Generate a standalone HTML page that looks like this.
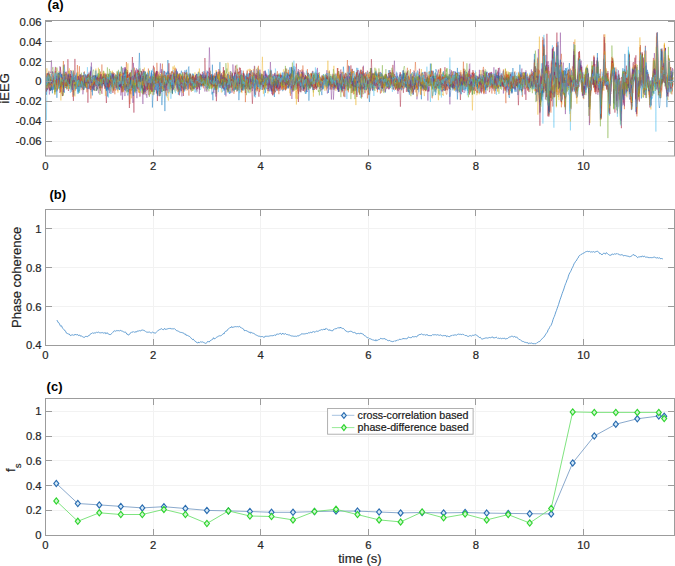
<!DOCTYPE html>
<html><head><meta charset="utf-8"><style>html,body{margin:0;padding:0;background:#fff;overflow:hidden}</style></head><body>
<svg width="675" height="566" viewBox="0 0 675 566" style="display:block">
<style>.lg{font-family:"Liberation Sans",sans-serif;font-size:10.67px;fill:#1a1a1a;stroke:#1a1a1a;stroke-width:0.2px}.t{font-family:"Liberation Sans",sans-serif;font-size:11.3px;fill:#262626;stroke:#262626;stroke-width:0.2px}.ti{font-family:"Liberation Sans",sans-serif;font-size:13px;font-weight:bold;fill:#000}.l{font-family:"Liberation Sans",sans-serif;font-size:13px;fill:#262626;stroke:#262626;stroke-width:0.2px}</style>
<rect width="675" height="566" fill="#fff"/>
<line x1="153.5" y1="20.4" x2="153.5" y2="156.0" stroke="#f2f2f2" stroke-width="1"/>
<line x1="260.5" y1="20.4" x2="260.5" y2="156.0" stroke="#f2f2f2" stroke-width="1"/>
<line x1="368.5" y1="20.4" x2="368.5" y2="156.0" stroke="#f2f2f2" stroke-width="1"/>
<line x1="475.5" y1="20.4" x2="475.5" y2="156.0" stroke="#f2f2f2" stroke-width="1"/>
<line x1="583.5" y1="20.4" x2="583.5" y2="156.0" stroke="#f2f2f2" stroke-width="1"/>
<line x1="45.5" y1="41.5" x2="674.5" y2="41.5" stroke="#f2f2f2" stroke-width="1"/>
<line x1="45.5" y1="61.5" x2="674.5" y2="61.5" stroke="#f2f2f2" stroke-width="1"/>
<line x1="45.5" y1="81.5" x2="674.5" y2="81.5" stroke="#f2f2f2" stroke-width="1"/>
<line x1="45.5" y1="101.5" x2="674.5" y2="101.5" stroke="#f2f2f2" stroke-width="1"/>
<line x1="45.5" y1="121.5" x2="674.5" y2="121.5" stroke="#f2f2f2" stroke-width="1"/>
<line x1="45.5" y1="141.5" x2="674.5" y2="141.5" stroke="#f2f2f2" stroke-width="1"/>
<defs><filter id="bl" x="-1%" y="-10%" width="102%" height="120%"><feGaussianBlur stdDeviation="0.35"/></filter></defs>
<g filter="url(#bl)">
<g fill="none" stroke-width="0.5" stroke-linejoin="round" stroke-opacity="0.76" transform="translate(45.90,0) scale(0.5,0.1)">
<path vector-effect="non-scaling-stroke" stroke="#A2142F" d="M0 796l1-29 1-2 1 31 1 25 1-50 1 18 1 34 1-20 1 71 1 34 1-69 1-22 1 23 1-18 1-14 1 62 1-11 1-11 1-53 1-7 1 32 1 2 1 6 1 18 1 26 1-4 1-52 1-34 1-111 1 84 1 34 1 20 1-6 1-20 1-9 1 8 1 12 1-48 1-27 1 73 1-2 1-14 1-34 1-150 1 139 1 56 1 7 1-15 1-26 1-53 1 41 1 85 1-31 1 91 1 123 1-169 1 10 1-8 1 44 1-6 1-4 1 15 1-51 1-6 1-19 1-12 1 27 1 40 1-1 1-44 1-38 1 12 1 15 1 23 1 64 1-21 1-12 1-28 1-4 1 10 1 29 1-23 1 2 1 173 1-141 1-38 1-77 1-19 1-44 1 143 1-59 1 28 1 29 1-72 1 105 1-125 1 8 1 12 1 10 1-9 1-5 1 64 1 10 1-24 1-42 1 10 1-1 1-10 1 47 1 60 1 20 1 31 1-66 1-14 1-82 1-35 1 59 1-3 1 80 1 63 1 90 1-141 1-53 1 36 1-8 1-42 1 17 1 13 1 10 1-24 1-63 1-7 1 48 1-52 1 44 1-42 1 16 1 38 1-22 1 78 1-24 1-2 1-112 1-18 1 2 1 40 1 27 1-72 1 3 1 6 1 61 1 30 1-15 1-26 1 56 1-58 1-36 1-24 1-30 1 57 1-9 1-10 1 22 1 25 1 74 1 15 1-76 1 61 1-31 1-7 1 70 1-135 1-170 1 148 1 81 1-36 1-13 1 32 1-4 1 44 1 7 1-32 1-34 1-69 1 59 1 35 1-2 1 9 1-38 1 123 1-25 1 26 1-52 1 24 1 66 1 7 1-91 1-92 1-26 1 51 1 15 1 92 1-12 1-84 1 7 1 12 1 6 1-32 1 18 1 8 1-2 1 21 1 19 1-2 1-41 1 55 1-23 1-95 1 0 1 2 1 45 1 39 1 194 1-184 1-2 1-18 1-6 1 37 1-4 1-92 1 104 1 43 1 1 1-28 1-13 1-20 1-39 1 31 1-69 1 32 1 3 1-20 1 83 1-65 1 25 1-17 1 95 1 4 1 3 1-52 1-21 1-8 1 20 1 36 1 26 1-39 1-54 1-27 1 18 1-13 1 69 1-48 1 63 1-42 1 59 1-9 1-29 1-55 1 30 1-44 1 29 1-18 1 0 1 12 1 163 1-145 1 9 1 1 1-8 1 27 1-39 1 41 1-34 1-29 1 80 1-46 1-1 1 15 1 60 1-116 1 27 1 0 1-36 1 28 1 13 1 79 1-32 1 4 1-19 1-3 1 30 1 50 1-51 1 8 1-40 1 6 1-22 1-28 1-26 1 33 1-45 1 71 1 20 1 22 1-32 1 27 1-72 1 29 1 9 1 8 1-22 1-9 1-21 1 28 1 6 1 2 1 27 1-52 1 39 1-50 1 88 1 9 1 1 1-100 1 20 1 25 1-27 1-36 1 30 1 63 1 158 1-106 1-89 1 10 1 6 1-27 1-89 1 126 1 14 1-31 1-51 1 65 1-41 1-42 1-87 1 110 1-76 1 70 1 25 1-32 1 93 1-62 1 105 1-20 1-66 1-5 1-18 1 8 1 19 1 19 1 16 1-47 1 16 1-1 1 22 1 17 1 35 1-26 1-6 1-72 1 64 1-30 1-5 1-45 1 2 1-22 1-47 1 63 1-54 1-18 1 86 1-55 1 82 1 45 1-18 1-10 1 46 1-61 1-14 1 5 1-7 1 53 1 5 1 10 1-29 1-40 1-27 1-68 1 46 1-28 1-21 1 89 1 21 1 28 1 24 1-80 1-31 1 9 1 40 1 7 1-26 1-19 1 47 1-9 1-25 1 12 1-18 1 26 1 39 1-28 1-22 1 23 1-5 1-3 1-43 1-46 1 89 1-49 1-10 1 33 1 15 1 61 1-73 1-4 1-17 1 34 1 0 1 10 1-25 1-65 1 79 1 69 1 16 1 74 1-96 1-23 1-49 1-52 1 98 1-7 1 56 1-18 1 15 1 26 1-48 1-78 1 22 1-25 1 86 1-40 1-1 1 7 1 10 1-1 1-21 1-46 1 7 1 97 1 36 1-31 1-36 1-67 1-2 1 14 1 85 1-58 1 29 1-46 1 18 1-3 1 72 1-34 1-5 1-28 1-49 1-38 1-30 1 21 1 31 1-31 1-81 1 113 1 81 1 73 1 35 1-61 1 1 1-69 1 2 1 84 1 2 1-47 1-23 1-2 1 35 1 36 1-33 1 2 1-70 1-6 1 21 1-21 1 10 1-44 1-24 1 15 1-2 1 26 1 40 1-5 1-15 1-45 1-32 1-3 1 97 1 17 1 76 1-20 1 9 1-97 1-61 1 92 1-25 1-22 1-46 1 23 1 26 1 19 1-9 1 15 1 31 1 10 1-36 1 36 1-35 1-9 1-5 1-15 1 49 1-25 1 79 1 3 1-2 1-33 1 15 1-13 1-42 1 40 1-40 1 14 1-1 1-28 1-2 1-3 1-14 1 60 1 7 1-2 1 14 1-44 1 20 1-12 1-140 1 154 1 84 1-59 1-10 1-44 1 38 1 16 1-35 1 8 1 77 1-3 1 27 1 31 1-88 1-30 1 8 1-28 1 34 1-63 1-25 1-34 1-82 1 82 1 47 1 2 1-28 1 63 1-71 1-56 1 49 1 47 1 18 1 42 1 0 1 41 1-33 1 43 1-89 1-11 1-79 1-6 1 142 1 19 1 42 1 17 1-131 1 29 1 17 1 42 1-14 1-170 1 152 1 29 1-57 1-26 1 3 1 31 1-63 1 1 1 14 1 81 1 19 1 47 1-37 1-30 1-75 1-27 1-181 1 130 1 43 1 47 1-42 1 129 1-144 1-18 1 8 1-23 1 67 1 28 1 32 1 11 1 32 1-47 1 6 1 17 1 68 1-14 1-61 1-10 1-72 1 52 1-18 1 66 1-24 1-13 1-58 1-44 1 31 1 60 1-8 1 24 1-15 1-47 1-18 1 22 1-44 1 27 1 25 1-68 1 15 1-94 1 78 1 38 1-24 1 44 1 32 1-7 1 24 1 11 1 28 1 6 1-11 1-42 1 58 1-54 1 47 1-20 1-34 1 11 1-61 1 37 1-21 1 19 1-34 1 4 1 31 1-26 1-21 1 24 1-52 1 85 1 20 1 66 1-1 1 23 1-63 1-43 1 2 1 21 1 31 1 12 1 29 1-48 1-96 1 36 1 0 1-34 1-8 1 43 1 15 1 77 1-22 1-131 1-61 1 109 1 23 1-44 1-9 1-33 1 1 1 60 1-21 1 14 1 16 1-13 1 24 1-25 1 46 1 52 1-131 1 161 1-20 1 10 1-83 1 23 1-43 1-42 1 12 1 51 1 59 1-58 1 27 1-41 1-9 1 33 1-34 1-23 1 8 1 8 1-59 1-12 1-28 1 70 1-5 1 0 1 13 1 13 1 27 1 22 1 21 1-8 1-27 1 30 1 18 1-57 1-68 1 17 1 102 1-17 1-23 1-14 1-10 1 16 1 12 1 11 1-44 1 62 1-63 1-43 1-4 1 27 1 32 1 40 1 1 1-27 1-44 1 30 1-37 1 18 1-2 1 16 1-23 1 20 1 4 1 60 1 35 1-86 1 0 1 2 1-1 1 14 1 14 1-58 1-8 1-33 1 38 1 76 1-43 1 22 1-85 1-3 1 1 1-2 1-57 1 101 1 9 1 12 1 32 1-115 1 18 1-45 1 30 1 50 1 70 1-11 1-20 1-5 1-13 1 45 1-5 1-32 1-20 1 20 1 52 1-2 1-72 1 74 1 73 1-80 1-44 1 20 1-45 1 157 1-102 1-6 1 39 1-51 1-16 1 19 1 20 1 1 1-13 1 7 1 82 1-20 1-49 1-17 1-31 1 4 1 14 1 6 1-20 1-20 1 1 1 24 1 32 1-10 1 43 1-28 1-18 1-31 1-46 1 0 1 16 1 36 1 8 1-12 1-59 1 40 1 35 1 12 1-32 1 37 1-45 1 7 1-21 1 46 1-33 1 10 1-47 1-8 1 36 1 7 1 13 1 54 1-28 1 58 1 8 1 35 1-24 1-90 1-25 1-19 1-11 1 43 1 30 1 17 1-56 1-25 1 68 1-19 1 19 1 27 1-81 1-1 1-14 1 30 1 18 1-4 1-26 1 27 1-46 1 44 1 42 1 34 1-11 1 124 1-137 1-72 1-18 1 24 1 101 1 23 1-94 1-40 1-3 1-15 1 45 1-13 1-23 1 29 1-69 1-57 1-86 1 87 1 168 1-64 1 13 1-114 1 104 1-1 1 14 1 124 1-55 1 50 1-124 1 29 1-67 1 88 1 92 1 15 1-195 1 44 1-5 1-21 1-1 1 40 1-169 1 162 1-78 1-24 1 181 1 220 1-225 1-88 1-46 1 151 1-6 1-37 1 113 1 95 1-72 1-63 1-65 1-143 1 74 1-12 1 135 1-140 1-231 1 132 1 83 1 10 1 151 1-99 1 45 1 145 1-216 1 14 1-43 1 53 1 5 1 57 1-93 1-4 1-78 1 94 1 11 1 16 1 29 1-1 1-39 1 3 1 12 1 23 1 34 1-4 1 19 1-112 1 21 1-51 1-35 1-237 1 207 1 52 1 59 1 69 1-27 1 68 1-114 1-27 1-188 1 89 1 83 1-4 1-13 1-1 1 76 1-18 1-20 1 70 1-42 1 11 1-51 1 29 1 82 1-91 1 1 1 60 1-164 1 64 1 60 1-8 1 9 1 55 1-21 1 51 1-59 1-55 1-53 1-6 1-62 1-97 1 252 1 77 1-39 1-2 1-28 1-169 1-82 1 193 1 86 1-45 1-46 1 125 1 98 1 197 1-208 1-121 1 32 1 15 1-53 1-64 1-24 1 20 1-30 1 27 1 27 1 14 1-38 1-71 1 102 1 56 1 52 1-4 1-54 1 53 1-117 1-96 1-49 1-15 1 47 1 103 1 90 1 248 1-165 1-111 1 19 1-47 1-4 1 25 1-83 1-22 1 54 1-10 1 150 1 210 1-115 1-87 1 2 1-122 1-38 1-54 1-10 1 8 1 58 1-29 1-98 1 130 1 14 1-17 1 49 1-125 1-110 1 224 1 119 1 0 1-63 1-77 1-90 1-80 1-10 1 45 1 56 1 25 1-69 1 152 1 293 1-198 1 45 1 33 1-61 1-26 1-45 1-135 1-285 1 187 1 65 1 26 1-57 1-92 1 154 1 182 1 33 1-197 1-294 1 198 1 111 1-3 1-33 1 70 1 56 1-10 1 67 1 59 1 24 1 60 1-116 1-65 1-29 1-88 1-30 1-103 1 154 1-13 1 13 1 41 1-30 1-179 1-277 1 326 1 289 1-30 1-4 1 52 1 11 1 2 1-50 1-26 1-110 1-80 1-59 1 32 1-39 1-15 1-150 1 179 1 69 1-3 1 38 1 125 1-104 1 9 1-22 1-29 1-19 1 96 1-3 1 40 1-107 1-29"/>
<path vector-effect="non-scaling-stroke" stroke="#0072BD" d="M0 823l1-39 1 28 1 89 1-59 1 3 1-76 1-29 1 24 1 42 1-11 1 42 1-54 1 42 1-15 1 31 1 52 1-19 1 11 1-109 1 9 1 96 1 34 1-40 1 14 1-65 1-81 1 85 1 6 1 12 1-49 1-58 1 52 1 56 1-25 1-32 1 80 1 57 1-140 1 1 1 27 1 35 1-33 1-17 1-23 1-22 1 10 1-28 1 33 1-13 1 27 1-73 1 16 1 26 1 69 1 34 1 99 1-87 1 3 1-21 1-43 1-38 1-43 1 73 1 86 1 50 1-70 1-68 1 80 1-88 1 43 1 19 1-14 1-24 1-25 1-19 1-48 1 47 1-21 1 1 1 14 1 70 1 58 1 1 1-60 1-33 1-24 1-25 1 8 1 18 1-108 1 5 1 110 1-16 1 47 1 52 1-26 1 25 1-33 1-24 1-58 1 66 1-27 1 24 1-77 1 40 1 72 1 6 1-7 1-6 1-43 1 29 1 25 1-20 1-17 1-5 1-15 1 3 1-9 1-16 1 65 1-39 1 40 1-55 1-14 1-13 1-7 1 2 1 20 1 19 1-29 1-12 1-5 1 22 1-42 1 175 1-24 1-27 1-82 1-21 1 43 1-39 1 41 1 102 1-126 1 65 1 41 1 26 1-23 1-81 1-31 1-98 1 13 1 35 1 74 1-19 1 47 1 65 1 21 1-30 1-77 1 52 1 16 1-33 1-1 1-4 1-82 1 75 1-92 1 61 1 33 1 0 1 15 1-16 1-39 1 56 1 49 1-23 1 46 1-67 1-11 1-30 1-39 1 50 1-19 1-65 1-69 1-128 1 154 1 151 1 0 1 1 1-118 1 60 1 112 1-7 1 6 1 17 1 16 1-69 1 36 1-108 1-8 1-40 1 56 1-55 1 97 1-123 1 40 1 17 1 46 1-80 1 64 1 281 1-104 1-30 1-38 1-100 1 0 1-12 1 22 1-33 1 81 1 64 1 36 1-91 1 39 1 7 1-10 1-39 1-26 1 79 1-74 1-32 1-45 1-54 1-7 1 240 1 163 1-192 1-201 1 34 1 60 1-74 1-138 1 122 1 131 1 12 1 9 1-63 1-10 1-82 1 1 1 8 1-22 1 1 1 1 1 68 1-46 1-21 1 33 1 38 1-27 1-41 1 80 1-4 1 0 1 55 1 48 1 14 1-40 1-31 1-71 1 77 1 23 1 24 1-15 1-72 1-97 1 28 1 12 1-46 1 63 1 16 1 107 1-31 1 2 1-73 1 15 1-19 1 66 1 12 1-36 1-41 1-7 1-33 1 65 1 4 1 24 1 2 1 8 1-4 1 22 1-23 1-70 1 8 1 20 1 46 1 24 1-42 1-4 1-55 1 83 1-69 1 12 1-10 1-66 1 25 1 4 1 55 1-43 1 11 1-16 1-29 1 77 1 58 1-61 1-20 1 14 1-19 1 58 1 14 1 103 1-26 1 85 1-118 1-4 1-74 1 14 1 35 1 33 1-56 1 4 1-81 1 4 1 35 1-3 1-5 1 54 1 34 1-63 1 14 1-15 1-14 1 37 1-21 1-2 1 81 1 3 1-6 1-3 1-76 1 72 1 13 1 14 1 17 1-131 1 22 1-66 1 24 1 26 1 34 1-39 1 49 1 30 1 28 1-98 1 38 1 3 1 50 1-85 1 6 1-65 1 61 1 13 1 2 1 174 1-98 1-47 1-71 1-36 1 37 1 10 1 13 1 20 1-2 1-18 1 30 1-38 1-37 1 29 1 6 1-13 1 17 1-18 1 72 1 19 1 12 1-115 1-43 1-24 1 41 1 33 1 23 1-14 1 43 1 3 1-64 1-9 1-5 1 41 1 22 1-8 1 15 1 41 1-2 1 2 1-58 1 81 1-7 1 6 1-35 1-18 1-99 1 69 1 66 1-48 1 27 1 7 1 69 1-87 1 1 1-21 1-2 1 14 1 4 1 26 1-46 1 13 1-96 1-37 1 7 1 67 1 12 1 35 1-13 1 55 1 2 1-6 1-11 1-78 1 7 1 0 1 33 1-3 1-26 1 21 1-30 1-36 1 50 1 15 1 8 1-30 1 50 1-21 1-41 1-32 1-1 1 72 1-8 1 44 1-16 1 66 1-65 1-33 1 39 1 54 1-85 1 26 1-22 1 14 1-4 1-46 1 61 1 54 1-29 1-196 1 78 1 8 1 65 1-38 1-2 1 1 1 110 1-150 1-3 1 21 1 40 1 71 1-34 1 13 1-114 1 21 1-12 1 74 1 24 1-29 1 14 1 35 1 5 1-9 1-8 1-19 1 37 1-56 1 40 1-22 1 47 1-77 1-7 1-47 1 137 1-4 1-46 1-3 1 32 1-60 1-16 1-38 1 59 1 80 1-1 1-98 1 5 1-35 1 62 1 6 1 25 1 16 1-3 1 21 1-43 1-38 1 18 1-12 1-57 1 10 1 42 1 46 1-69 1 8 1 1 1 77 1-22 1-15 1 110 1-113 1-15 1-38 1 37 1-21 1 26 1 2 1 32 1-38 1-42 1 18 1 54 1 15 1 38 1-15 1 11 1-7 1-66 1-24 1 8 1 21 1 9 1 11 1-91 1 9 1 116 1-67 1 43 1-42 1 43 1 36 1-29 1 7 1-31 1 4 1-31 1-62 1 107 1-11 1 68 1-80 1-57 1 40 1 43 1 33 1-44 1 12 1-52 1 60 1-17 1 26 1 15 1-76 1 68 1-77 1-30 1-88 1 46 1 6 1 86 1-2 1-8 1-25 1 54 1-95 1-39 1 133 1 43 1 13 1-59 1-96 1 7 1-10 1 86 1-17 1 25 1 16 1-29 1 17 1-5 1 86 1-10 1-95 1 16 1-72 1-69 1 38 1 25 1 66 1-16 1 14 1-19 1-51 1 13 1 14 1 68 1-9 1-41 1 18 1 5 1-6 1 17 1 6 1-13 1-27 1 126 1-73 1 3 1-5 1 17 1-35 1 27 1 45 1 38 1-37 1-142 1 57 1-39 1 29 1-3 1 13 1-5 1-41 1 67 1 8 1-1 1-39 1 39 1-10 1-30 1-15 1 17 1-9 1 28 1-38 1 69 1-21 1 35 1-2 1-32 1-12 1-3 1-68 1 43 1-3 1 53 1-25 1-4 1 44 1 4 1 34 1-11 1-45 1 0 1-62 1 86 1-35 1 29 1 40 1 33 1-36 1-16 1-12 1-13 1-20 1-31 1-57 1-14 1 9 1 73 1-1 1-20 1 23 1-17 1 54 1-44 1 50 1 51 1-59 1-24 1-40 1-18 1-15 1 57 1 11 1-59 1-29 1 31 1-34 1 104 1 45 1 22 1-22 1-82 1 24 1 2 1-22 1 68 1-57 1 14 1 6 1 24 1-65 1-147 1 152 1 24 1 23 1 20 1-127 1-20 1 75 1 93 1 23 1 52 1-19 1-56 1-13 1-34 1-51 1 42 1 11 1 0 1 52 1-27 1 15 1-47 1 19 1-8 1-26 1-14 1-21 1-3 1 60 1-62 1-17 1 64 1 51 1-57 1 22 1-63 1 16 1-32 1-8 1 21 1 13 1 91 1-7 1-34 1-54 1 57 1-26 1 6 1 41 1 47 1 16 1-66 1 27 1-81 1 24 1 17 1 0 1 81 1-55 1 29 1-72 1-4 1-26 1 2 1 60 1 45 1-12 1-54 1 38 1-44 1-1 1 13 1 50 1 21 1-76 1 51 1 5 1-13 1 3 1 26 1-66 1-2 1-43 1 29 1 52 1 26 1-29 1-30 1-73 1 38 1-27 1 58 1 31 1-51 1 53 1-7 1-54 1-26 1 17 1 20 1 33 1-23 1-44 1 10 1-23 1 55 1 86 1-79 1-5 1-12 1 56 1-19 1-39 1-21 1 4 1 46 1-50 1-24 1-1 1-41 1 21 1 11 1 67 1 21 1-4 1-73 1 3 1 66 1 21 1-36 1-49 1-2 1-15 1 15 1 4 1 20 1-19 1 5 1-7 1-22 1 85 1-6 1 21 1-81 1 5 1 33 1 2 1 50 1 24 1-18 1-44 1-15 1 112 1-117 1-33 1-31 1 39 1 65 1 38 1-32 1 7 1-7 1 69 1-67 1-175 1 127 1 2 1-86 1 25 1 25 1-9 1 4 1 66 1 6 1 111 1-88 1-49 1 13 1-24 1 14 1-19 1-39 1 55 1 34 1 45 1-22 1-37 1-24 1-7 1 14 1-26 1 22 1 31 1-38 1 13 1-13 1-29 1 44 1-2 1-61 1-11 1 62 1-30 1-5 1-23 1-30 1 38 1 92 1-21 1 116 1-26 1 9 1-54 1 47 1-46 1 40 1-130 1 106 1-25 1 94 1-79 1-92 1 39 1 57 1 3 1-70 1-135 1 45 1-64 1-40 1-76 1 137 1 147 1 115 1 58 1-88 1 24 1 10 1 28 1-92 1-102 1-66 1 18 1 199 1-160 1-61 1 121 1 15 1 116 1-108 1-155 1 1 1-158 1-61 1 250 1-28 1 79 1-81 1 1 1 10 1 45 1-9 1 34 1 120 1 31 1-145 1 84 1-177 1 52 1-72 1 75 1-74 1 70 1-19 1 76 1 131 1 1 1 15 1-8 1 131 1-204 1-78 1-20 1 56 1-34 1 53 1 32 1 31 1-29 1 31 1-10 1 38 1-59 1-130 1 70 1 1 1-12 1-8 1-17 1-68 1 57 1-37 1 89 1-31 1-76 1 137 1 20 1 33 1-29 1-113 1 4 1 19 1 3 1 17 1-24 1 67 1 213 1-84 1-49 1-14 1-34 1-89 1-4 1 31 1 12 1-89 1-151 1 171 1 45 1 44 1-46 1 20 1-27 1-36 1-105 1 4 1 146 1 29 1-41 1 23 1-47 1 96 1-32 1 39 1-2 1-29 1-103 1 45 1 13 1 51 1-97 1 3 1 40 1 53 1-25 1 55 1 2 1-47 1 135 1-63 1-68 1-106 1-81 1-26 1 24 1 36 1-21 1 103 1-7 1 42 1 0 1-56 1 82 1 152 1-111 1-100 1-26 1 54 1 75 1 183 1-120 1-61 1-86 1-59 1-55 1 94 1 112 1-21 1-328 1 216 1 1 1 26 1 116 1 13 1-100 1-45 1-225 1 143 1 110 1 61 1-27 1 270 1 1 1-162 1-61 1-35 1-20 1-40 1-26 1 148 1 215 1-218 1-116 1 15 1 22 1 24 1-22 1-20 1 77 1-83 1 38 1-41 1 4 1 19 1-38 1 55 1-80 1 6 1 45 1 31 1 5 1 27 1-33 1-38 1 54 1-73 1 76 1-40 1 51 1-59 1 119 1-18 1-134 1 60 1-50 1-73 1 97 1-18 1-11 1-79 1 79 1-70 1-82 1-175 1 210 1 208 1 41 1 3 1-74 1-130 1-221 1 191 1 166 1-89 1 13 1 43 1-64 1 77 1 7 1-39 1 15 1-9 1 51 1 44 1 29 1-26 1 7 1-61 1-49 1-35 1 5 1 21 1 10 1-60 1-19"/>
<path vector-effect="non-scaling-stroke" stroke="#D95319" d="M0 776l1 78 1 26 1-3 1-69 1 10 1 28 1 54 1-31 1 35 1-19 1-71 1-7 1-54 1 36 1-3 1 36 1-23 1 21 1-33 1 30 1 22 1-18 1 8 1 6 1-23 1 64 1-115 1 51 1 51 1-70 1-19 1 25 1 19 1-5 1-11 1-17 1 14 1-57 1 40 1 19 1-19 1 26 1-33 1 19 1 1 1 7 1 28 1-40 1 47 1-9 1-24 1 20 1 23 1-44 1 64 1-97 1 9 1 2 1 20 1 28 1-75 1-8 1 14 1 32 1 2 1 8 1-140 1 162 1 18 1 20 1-15 1-39 1 3 1-11 1 5 1-31 1 82 1-81 1-14 1 29 1 20 1-1 1-26 1 17 1 5 1-7 1 73 1 15 1 11 1 3 1-53 1-12 1-8 1 15 1-1 1-18 1 39 1-63 1 19 1-19 1 110 1-67 1-52 1 2 1-6 1 66 1-36 1 44 1 21 1-34 1 0 1-13 1-31 1 2 1 14 1-6 1-4 1 22 1-46 1-6 1 10 1-2 1 12 1 1 1 67 1 14 1 0 1-32 1-65 1-24 1-6 1 3 1 53 1 27 1 21 1-64 1 7 1 9 1 51 1-6 1-30 1-18 1-37 1 32 1 32 1 23 1-41 1-66 1-12 1 49 1 3 1 47 1 5 1 80 1-33 1 11 1-101 1 26 1-42 1-49 1-114 1 97 1 64 1-5 1-14 1-7 1 17 1 163 1-57 1 0 1-13 1-76 1-26 1 7 1 20 1 94 1-46 1 35 1-101 1-19 1-25 1 5 1-16 1 7 1 44 1-30 1 88 1 9 1-35 1-13 1 0 1 22 1-16 1-9 1-77 1 52 1 3 1 46 1-44 1-9 1 53 1 26 1 59 1-73 1-28 1 45 1-9 1 34 1-17 1 12 1-5 1 11 1-53 1-33 1 15 1 46 1-70 1 9 1-23 1 72 1-6 1-37 1-24 1 50 1-25 1 24 1 1 1-5 1 8 1-24 1 66 1-43 1 36 1-19 1 62 1 20 1-111 1 0 1-32 1 26 1 5 1 18 1-28 1-16 1 51 1-17 1-36 1 41 1-25 1 25 1-31 1 0 1 22 1 43 1 6 1-43 1-27 1 66 1-40 1 17 1-3 1 86 1-99 1-45 1-11 1 36 1-8 1 15 1 2 1 31 1 46 1-30 1 27 1-41 1-21 1-10 1 20 1 8 1 14 1-7 1-70 1-4 1 7 1-23 1 43 1 22 1-25 1 11 1 12 1 42 1 14 1 30 1-49 1 9 1 3 1-11 1-30 1 29 1-49 1 11 1-16 1 50 1-37 1-5 1 20 1 38 1 26 1-30 1-54 1-26 1 8 1-13 1 7 1 14 1 24 1-6 1 32 1-33 1-14 1-14 1 10 1-28 1-6 1 8 1 25 1 8 1 14 1-8 1-20 1-7 1 12 1-8 1 18 1 12 1 24 1-21 1 8 1-29 1-17 1-5 1 9 1-53 1 138 1-15 1-14 1-37 1-30 1 4 1-16 1 63 1 7 1-9 1 53 1 3 1-14 1-43 1-34 1 5 1-14 1 50 1 46 1 20 1-73 1 62 1 43 1-23 1-25 1-66 1-5 1 6 1 2 1-17 1-46 1 118 1 28 1 48 1-26 1-58 1-46 1 10 1-1 1 7 1 1 1 12 1-33 1 14 1-24 1-56 1 40 1 9 1 36 1-2 1 78 1 6 1-35 1-42 1-32 1-12 1 16 1 69 1-19 1 14 1-14 1-38 1-12 1-5 1-21 1-40 1 51 1-13 1-19 1 0 1 69 1 0 1-40 1-17 1-3 1 31 1 12 1 66 1-27 1-33 1 43 1-44 1-1 1 5 1 33 1-10 1-14 1-12 1-46 1 21 1-42 1 40 1-30 1 35 1 22 1 34 1-32 1 6 1-14 1 34 1 18 1 6 1-32 1-25 1 25 1 22 1 17 1 20 1 1 1-25 1-3 1-43 1-55 1-5 1-14 1 43 1 14 1 54 1 35 1 3 1-35 1-59 1-49 1 56 1 36 1-3 1-4 1 20 1-23 1-14 1-11 1-12 1 13 1-13 1-32 1 6 1 6 1 78 1-45 1-2 1-6 1-26 1-51 1 45 1-26 1 5 1 64 1-32 1-1 1 11 1 16 1 31 1-6 1 2 1-53 1 13 1-5 1-5 1 62 1-15 1-23 1 11 1 28 1 4 1 0 1-8 1-25 1-2 1-19 1 10 1-80 1 92 1-21 1-3 1-16 1 16 1 19 1-13 1-19 1 25 1-24 1-21 1 7 1 10 1 56 1 4 1-37 1-23 1 78 1-5 1-21 1-3 1-4 1-29 1 20 1 2 1 8 1 6 1-12 1 27 1 9 1-8 1-35 1-17 1 32 1 6 1-21 1-15 1 0 1-20 1 34 1-45 1 41 1 26 1-20 1 19 1-9 1 13 1-7 1 7 1-29 1-27 1-22 1-3 1 9 1 22 1 32 1 14 1-27 1 20 1-65 1 89 1-48 1-14 1 3 1-12 1 31 1-2 1 48 1 34 1-57 1-13 1-48 1-27 1 14 1 22 1 84 1-119 1 89 1-20 1 23 1-49 1 3 1 10 1 63 1-32 1-18 1 25 1 6 1-10 1 10 1-31 1 7 1 21 1-36 1-22 1 25 1 5 1 20 1-29 1 4 1 21 1-38 1-6 1 48 1-67 1 42 1 53 1 23 1-30 1-53 1 23 1-24 1 17 1-29 1-48 1 53 1 27 1-15 1 10 1 20 1-16 1 42 1 13 1-16 1-43 1 25 1 12 1-37 1 56 1 48 1-1 1 29 1-105 1-107 1-16 1 39 1 69 1 39 1-9 1-44 1-34 1 1 1-18 1 64 1 34 1-43 1-21 1-27 1 4 1 149 1-104 1 2 1-21 1-17 1-2 1 38 1 22 1 1 1-4 1 3 1-5 1-42 1-15 1-17 1 7 1 18 1 29 1 4 1 11 1 28 1-84 1 87 1-85 1 27 1 2 1 13 1-1 1-50 1 6 1-71 1 106 1-10 1 6 1 5 1 28 1 33 1 3 1 1 1 9 1-41 1-52 1 6 1-15 1 26 1-33 1 19 1-28 1 3 1-7 1-8 1 63 1-11 1 6 1-4 1-35 1-22 1 40 1-1 1 46 1 22 1 62 1-107 1-26 1-9 1-2 1 64 1-19 1 4 1-31 1 5 1-27 1 2 1 51 1-17 1 14 1 4 1-2 1 57 1-19 1 10 1-14 1-109 1-11 1-19 1 23 1 22 1 40 1 32 1 36 1-59 1 42 1 21 1-17 1-10 1 25 1-6 1 45 1-51 1 13 1 31 1-43 1-21 1-29 1-55 1 4 1 4 1 75 1 1 1-18 1-12 1 13 1 9 1 26 1-20 1-37 1-39 1 2 1-3 1 27 1-14 1 12 1 26 1-38 1 7 1-23 1 30 1 34 1 6 1 25 1 52 1-31 1 2 1-18 1 11 1-2 1 33 1-66 1-50 1 23 1-15 1-2 1 18 1-15 1-25 1 5 1 38 1 42 1-9 1-7 1 32 1-33 1 19 1-4 1-54 1 45 1 20 1-2 1-46 1-40 1 7 1 9 1 5 1-47 1 27 1 54 1-20 1 6 1-8 1-20 1 13 1 13 1-39 1 17 1-31 1 31 1-6 1 56 1-72 1-31 1 9 1-17 1 74 1-1 1 52 1-5 1-7 1 24 1-52 1-30 1 4 1 22 1 1 1-29 1-18 1 29 1-4 1 12 1 5 1-11 1-7 1-15 1 38 1-13 1 17 1 16 1-6 1 13 1 23 1-9 1 16 1-19 1 3 1-22 1-39 1-24 1 10 1 33 1 5 1 31 1-48 1 4 1 6 1-10 1-13 1 4 1 30 1 29 1 28 1-23 1-3 1-34 1 1 1 37 1-8 1 90 1-65 1-27 1-2 1-39 1-15 1-3 1 18 1-4 1-3 1 2 1 57 1-18 1 19 1-46 1-22 1 5 1 10 1 23 1-19 1 14 1 8 1-21 1 45 1 21 1-33 1-22 1-23 1 4 1 2 1-14 1 22 1 50 1-14 1-8 1-24 1-34 1-4 1 18 1 1 1-19 1 49 1-39 1-27 1 10 1-1 1 20 1-45 1-28 1 106 1-47 1-15 1-14 1 33 1 29 1 7 1 14 1-38 1 19 1-22 1 9 1 6 1 53 1-43 1 9 1-5 1 24 1-38 1 37 1-32 1 30 1-15 1 20 1 18 1-37 1-95 1 102 1-7 1 47 1-50 1 42 1-78 1 52 1 16 1 22 1-44 1 80 1-218 1 134 1 27 1-12 1-3 1-33 1 30 1-73 1-113 1-283 1 222 1 121 1 57 1 48 1-13 1-9 1 43 1 27 1 74 1 42 1-35 1-75 1 24 1-114 1-53 1-65 1-57 1 134 1 164 1-42 1-289 1 178 1 67 1-61 1 49 1-23 1-100 1-225 1 146 1 98 1 74 1 55 1 6 1 8 1 39 1 55 1 134 1-222 1-48 1 19 1-18 1 51 1 70 1 141 1-146 1-53 1 13 1 8 1-73 1-13 1-42 1 61 1-1 1-38 1-96 1 170 1-22 1 28 1-88 1 23 1 0 1-73 1-101 1 206 1 25 1 27 1-13 1 75 1-86 1 18 1-62 1-96 1 3 1 9 1 5 1-30 1 40 1 160 1-67 1-50 1 49 1-53 1 26 1-2 1 8 1-22 1-5 1 47 1-53 1-22 1-2 1 44 1 107 1 156 1-152 1-141 1 26 1-14 1-6 1-13 1 18 1 46 1-7 1-55 1 40 1-17 1 19 1 14 1-57 1-145 1 167 1 92 1-40 1 33 1-48 1-26 1 3 1-29 1 32 1-54 1-11 1 46 1-13 1 54 1-25 1 20 1-9 1 61 1 15 1-40 1-1 1-29 1 108 1 130 1-91 1-101 1-77 1-51 1-108 1-2 1 136 1 264 1-133 1-106 1-34 1 37 1-32 1 63 1-39 1 26 1 65 1 19 1 104 1-93 1 2 1 26 1 0 1-7 1-47 1 12 1 137 1-134 1-51 1 115 1-63 1-38 1 8 1 17 1-20 1-15 1 28 1-8 1 23 1 55 1 3 1-61 1-132 1-5 1-27 1 36 1 44 1-27 1-44 1-27 1-42 1 111 1 167 1-91 1-40 1 40 1 9 1 28 1-159 1-256 1 203 1 118 1 33 1-54 1-219 1 225 1 102 1 7 1-16 1-31 1-123 1-209 1 268 1 91 1-16 1-85 1 11 1 48 1 46 1 7 1-33 1-4 1 24 1-32 1 3 1-139 1-117 1 95 1 79 1 85 1-39 1 64 1-59 1-193 1-285 1 237 1 280 1-19 1 62 1-18 1-45 1-150 1 164 1-40 1-27 1-31 1 12 1 39 1 2 1-5 1-3 1-14 1-4 1 14 1 24 1 17 1 0 1-116 1-119 1 142 1 94 1 39 1-8 1 91 1-143 1-113"/>
<path vector-effect="non-scaling-stroke" stroke="#EDB120" d="M0 775l1 14 1 44 1-64 1-29 1-2 1 57 1 51 1-4 1-46 1 36 1-35 1 21 1 19 1 13 1-22 1 35 1-43 1-48 1 35 1 91 1-23 1-25 1-2 1-83 1-11 1-43 1 14 1 115 1 14 1 151 1-163 1-61 1 18 1 35 1 24 1 33 1-15 1-10 1-120 1 29 1 12 1 12 1-12 1-4 1-39 1 6 1-67 1 79 1 65 1 41 1-29 1-72 1 25 1-19 1 80 1-39 1 62 1 88 1-108 1-16 1-85 1 95 1-61 1-35 1 39 1 71 1-62 1 12 1 16 1-8 1 44 1-39 1-75 1 19 1 51 1 24 1-38 1 5 1-7 1 15 1 51 1-8 1-14 1-66 1 34 1 24 1-5 1-49 1 11 1 16 1 0 1-17 1 21 1 3 1 55 1 30 1-74 1-3 1-102 1-42 1 73 1-6 1 77 1 16 1 16 1-17 1-45 1-58 1 36 1 9 1 0 1 42 1-51 1 33 1 0 1-31 1-23 1 32 1 169 1-58 1-27 1-2 1-7 1-64 1-16 1-44 1 9 1-20 1 85 1 103 1-122 1-79 1 154 1-18 1-32 1 1 1 14 1 0 1 2 1-16 1-33 1 4 1-1 1-81 1 67 1-31 1-19 1 75 1 51 1 45 1-10 1 12 1 17 1-34 1-17 1-98 1 31 1 5 1-29 1 77 1 40 1-65 1-49 1-144 1 180 1 15 1 11 1-52 1 16 1-7 1-56 1-29 1 13 1-31 1 49 1 36 1-11 1-37 1 12 1 12 1 93 1-34 1 60 1-152 1 50 1-38 1 87 1 6 1 67 1-21 1-31 1 3 1-16 1-25 1-73 1-28 1-27 1 102 1 24 1-5 1 5 1 44 1-54 1 34 1-55 1 22 1 27 1 29 1-31 1 119 1-64 1-61 1 34 1-33 1-17 1-10 1-13 1-32 1 18 1-42 1 120 1-106 1 121 1 8 1 29 1-21 1-41 1-31 1-49 1 53 1 9 1 15 1-30 1-18 1-41 1 80 1 3 1 45 1 7 1-1 1 45 1 57 1-1 1 14 1 22 1-92 1-66 1-6 1 69 1 18 1-10 1-30 1-67 1-1 1-12 1 9 1-36 1-19 1-87 1 64 1 22 1 62 1 38 1 11 1-46 1-44 1-49 1 22 1-14 1 44 1 10 1-15 1 7 1 22 1 10 1 37 1 40 1-43 1 7 1-37 1-22 1-36 1 55 1-48 1 9 1 40 1-83 1 3 1 40 1 116 1-16 1 13 1-19 1-63 1-57 1-4 1 50 1 26 1-35 1-1 1 19 1 3 1-65 1-23 1-11 1 34 1 45 1 14 1 21 1-49 1 71 1-17 1 12 1-35 1-56 1 20 1 29 1-10 1-8 1-16 1 82 1-6 1 28 1-62 1-21 1-19 1-41 1 85 1-20 1 70 1 11 1-22 1-11 1 8 1-5 1-5 1-8 1 57 1-110 1-12 1 22 1 109 1-51 1-30 1 9 1-72 1-48 1 78 1 42 1 57 1 39 1-3 1-77 1-16 1-19 1 46 1-51 1-11 1 41 1 0 1-20 1-100 1-14 1-73 1 18 1 95 1 56 1 120 1-67 1 23 1-58 1 37 1 52 1-63 1 47 1-2 1-26 1-37 1-2 1-80 1 41 1 21 1 68 1-12 1-59 1 14 1-27 1 4 1-30 1 13 1 32 1 126 1-109 1-1 1 70 1-65 1-14 1 63 1-24 1 17 1 21 1-56 1-17 1-38 1 14 1 9 1 31 1-22 1-4 1-27 1-17 1-7 1 5 1 24 1 27 1 17 1-51 1-7 1 31 1-19 1 45 1 11 1 39 1-34 1-37 1-27 1-3 1 90 1 39 1-68 1-1 1-85 1-183 1 200 1 106 1-9 1-13 1-74 1 61 1-33 1 15 1 74 1-16 1 55 1-43 1-50 1-8 1-11 1 12 1 12 1-20 1-4 1 24 1-18 1 9 1-68 1-16 1-8 1 11 1 62 1 3 1 6 1-4 1-26 1 43 1 40 1-2 1-73 1-79 1 69 1 45 1 0 1 49 1-49 1-143 1-4 1 46 1 46 1 33 1-46 1-19 1 6 1 79 1-22 1-16 1 26 1 42 1-46 1 9 1 41 1-106 1 42 1-102 1 35 1 16 1 42 1 31 1 20 1-33 1 18 1 210 1-139 1 85 1-35 1-42 1-78 1-14 1-8 1 44 1 5 1-67 1 16 1 40 1-17 1 10 1 36 1-21 1-31 1-25 1-32 1 31 1-32 1-12 1-30 1 83 1 4 1 44 1-65 1-29 1-37 1 45 1-20 1 15 1-40 1 56 1-4 1 0 1 33 1 38 1 31 1-73 1-30 1-12 1-9 1 39 1-36 1 17 1 42 1 37 1-15 1-21 1-9 1 38 1-85 1 33 1 8 1 46 1 55 1-95 1-18 1 14 1 56 1-19 1-2 1-8 1 1 1-35 1-11 1 34 1-44 1 82 1-4 1-54 1-1 1-22 1-124 1 180 1-14 1-75 1 64 1 75 1-6 1-41 1-102 1-11 1 67 1-21 1 57 1-7 1 33 1 33 1-7 1-28 1-20 1 14 1-79 1 45 1-40 1 94 1-18 1-63 1 33 1 45 1-25 1 65 1-108 1-2 1 1 1 21 1 11 1 11 1 10 1-30 1 61 1 15 1-88 1-76 1-6 1 58 1 59 1-12 1-75 1 20 1 37 1-37 1-28 1 26 1 13 1 79 1 21 1-90 1 122 1-194 1 1 1 60 1 16 1 18 1 84 1 22 1-30 1 2 1-29 1-48 1-19 1 60 1 71 1 18 1-31 1-54 1-42 1-64 1-30 1 68 1-45 1 63 1-20 1 13 1-55 1-14 1-54 1 22 1 103 1-23 1-10 1-31 1 20 1 14 1 49 1-22 1-50 1 169 1-131 1-3 1 24 1-43 1 43 1 16 1-15 1-15 1-39 1 8 1 72 1 5 1 33 1-29 1-81 1 50 1-17 1 40 1-7 1-46 1 21 1 11 1-1 1-19 1-18 1-34 1 3 1 57 1 30 1 3 1-12 1 0 1-11 1 38 1-40 1 7 1 1 1-61 1 26 1 112 1-41 1-2 1-52 1 30 1-51 1-25 1 21 1 32 1 18 1-23 1-19 1-7 1 45 1 74 1-23 1-15 1-52 1-13 1 15 1-56 1 86 1-102 1 10 1 71 1 16 1-33 1-20 1-28 1 60 1 41 1 13 1-7 1 23 1-97 1 51 1-37 1 3 1-36 1 68 1-67 1 14 1-56 1 37 1 86 1 70 1 34 1-75 1-50 1-19 1 2 1 6 1 36 1-105 1-18 1-28 1 6 1 18 1 126 1 1 1-2 1-17 1-16 1-18 1-4 1-61 1 91 1 70 1-16 1 33 1-34 1-58 1 73 1 8 1 92 1-226 1-11 1-69 1 33 1-43 1 53 1 61 1 151 1-9 1 15 1-93 1-69 1-26 1 30 1 103 1-10 1-21 1-52 1 8 1 50 1 9 1-50 1 44 1-48 1 4 1-17 1 51 1 16 1-7 1 5 1-24 1 50 1-25 1-8 1-92 1 113 1-51 1 39 1-2 1 27 1-11 1-55 1-90 1-41 1-11 1 85 1-22 1-13 1 8 1 9 1 10 1-3 1 37 1-9 1 33 1-61 1 10 1 25 1 51 1-50 1-39 1 34 1-74 1 175 1-26 1-36 1 81 1 176 1-174 1-154 1 160 1-60 1-58 1-75 1-21 1 106 1 56 1 43 1-33 1-51 1 5 1 95 1-135 1 13 1-38 1-14 1 51 1-6 1 33 1-31 1 64 1-28 1 1 1 24 1-122 1 43 1-4 1 24 1-19 1 15 1 28 1-8 1 39 1-23 1-12 1-11 1 3 1 1 1 14 1-31 1-71 1 10 1 88 1 44 1-83 1-38 1 15 1-4 1 143 1-115 1 28 1-9 1 15 1-10 1 9 1 20 1-71 1 26 1-13 1 72 1 37 1-39 1 36 1 2 1-118 1-12 1 3 1-25 1-13 1-25 1 166 1 21 1 21 1-104 1-22 1 58 1 13 1-7 1 25 1 3 1-95 1 38 1-30 1 15 1-22 1-31 1 50 1 6 1-12 1-9 1-6 1 40 1-39 1 22 1 20 1-33 1 1 1-78 1-4 1 51 1 60 1 10 1 39 1-38 1-63 1 11 1 28 1 40 1-40 1-39 1 3 1 7 1-8 1-45 1 1 1 47 1 70 1-63 1 26 1-39 1-3 1 62 1-70 1-18 1 128 1 6 1-40 1-154 1-119 1 165 1-92 1-280 1 413 1 270 1-221 1-97 1-9 1-26 1-6 1-85 1-23 1 72 1 186 1-53 1-46 1-12 1 3 1-47 1 87 1 16 1 53 1-8 1-83 1 6 1 65 1 25 1-65 1-244 1 216 1 129 1 79 1-86 1 38 1-62 1-62 1-11 1-59 1 32 1 20 1-15 1 22 1 28 1 9 1-116 1-48 1 41 1 241 1-62 1-56 1-3 1 15 1-8 1 75 1-35 1 114 1-51 1-3 1-97 1 12 1-68 1-9 1 27 1-12 1 152 1 98 1-13 1-96 1-71 1-45 1 32 1-106 1-116 1-213 1 369 1 165 1 14 1 38 1-155 1-16 1 31 1-106 1-174 1 88 1-1 1 106 1 104 1-36 1-32 1 28 1 8 1-58 1-22 1 127 1-49 1-35 1-45 1-83 1-13 1 71 1 32 1 144 1-3 1 62 1-58 1-70 1-15 1-96 1-60 1 60 1 97 1 71 1-26 1-119 1 83 1 89 1-11 1-76 1-206 1 149 1 93 1-3 1 23 1 37 1 101 1-142 1-45 1-3 1-35 1 24 1-85 1-146 1 178 1 25 1 20 1-78 1-45 1 78 1 88 1 73 1-15 1 48 1 37 1-20 1-38 1-60 1-133 1-79 1-41 1-41 1 247 1 254 1-197 1-41 1 18 1 15 1-41 1 75 1 105 1-27 1-63 1 2 1 33 1-35 1-24 1 87 1 132 1-134 1-173 1-13 1-65 1 53 1-44 1 16 1 33 1 30 1 80 1 69 1-42 1-33 1-82 1-26 1-101 1 121 1 127 1 2 1-40 1 72 1-293 1-8 1 37 1-52 1 35 1-28 1-25 1 7 1 194 1 301 1-182 1-35 1 30 1-77 1-139 1-362 1 218 1 140 1 35 1 94 1 10 1 101 1-30 1-30 1-56 1-36 1-22 1 13 1 31 1-20 1-5 1-12 1 80 1-18 1-11 1 61 1 83 1 95 1-120 1-86 1 11 1-6 1-60 1-36 1-58 1-51 1 38 1-140 1-222 1 271 1 223 1 10 1 86 1-28 1-56 1-33 1-83 1 221 1-58 1-40 1-114 1-117 1-2 1-71 1-66 1 8 1 288 1 59 1 11 1 60 1 45 1 22 1-58 1-190 1-6 1 59 1 1 1 11 1-7 1 47 1-73 1-59"/>
<path vector-effect="non-scaling-stroke" stroke="#7E2F8E" d="M0 794l1-10 1-7 1 17 1 25 1-26 1-10 1-16 1 52 1 12 1-53 1 1 1 45 1 79 1-34 1-39 1 19 1-32 1-27 1 13 1 5 1 29 1-27 1-5 1 3 1 47 1-98 1-14 1 13 1 21 1-30 1 16 1 43 1-1 1 24 1 19 1-33 1-170 1 104 1 82 1-25 1 87 1-55 1-6 1 14 1-35 1 18 1-22 1 26 1-72 1 87 1-8 1 22 1-77 1 11 1-29 1 1 1 78 1-9 1 4 1 13 1-21 1 5 1-12 1-2 1 15 1-52 1 35 1 9 1 6 1-16 1-7 1-39 1-16 1 50 1 36 1-24 1 2 1-18 1 31 1 36 1-30 1-9 1-32 1-62 1 24 1 50 1-48 1 93 1-73 1-65 1-95 1 115 1 75 1-11 1 14 1 13 1-10 1 26 1-69 1 46 1-17 1-41 1-8 1-7 1 87 1-4 1 28 1 14 1-161 1 118 1-13 1 18 1 24 1-67 1-1 1 55 1 4 1 7 1 21 1-16 1 7 1 28 1-17 1-49 1 16 1-54 1 41 1-41 1 58 1 6 1-34 1 18 1-36 1-83 1 22 1 59 1 11 1 42 1-12 1-43 1-28 1-3 1 53 1-48 1 27 1 68 1-21 1 19 1-45 1 49 1-42 1 25 1-7 1 4 1 54 1-8 1-16 1-89 1-125 1 129 1 41 1 75 1-10 1-65 1-44 1 30 1 20 1 4 1-59 1-29 1 31 1 15 1 12 1 24 1-39 1 41 1-44 1 23 1-127 1 6 1 104 1-7 1-4 1-11 1 52 1-108 1 21 1-13 1 79 1 68 1-34 1 19 1-56 1 45 1-25 1-126 1 3 1 89 1 1 1 67 1-60 1 42 1-47 1 30 1-18 1 68 1-75 1 10 1-37 1-8 1-50 1 19 1 55 1 17 1 51 1-46 1-45 1 48 1-85 1-3 1-9 1 19 1 91 1 7 1 6 1-76 1 48 1 6 1-15 1-13 1 40 1-59 1 38 1-18 1 9 1 46 1 29 1 11 1-35 1 42 1-33 1-4 1-27 1 90 1-71 1 0 1-45 1-12 1-22 1 36 1 5 1-9 1 127 1-147 1-16 1-35 1 13 1 80 1-21 1-46 1 76 1 33 1-24 1-36 1-53 1 8 1-2 1 9 1 7 1 70 1-39 1 6 1-34 1-67 1 104 1-64 1 40 1 30 1 60 1-29 1 30 1-42 1 19 1-3 1 24 1-70 1-44 1-36 1 1 1 22 1 21 1 65 1-10 1-65 1 54 1 7 1-20 1-3 1 28 1-35 1 17 1-25 1 6 1 1 1 6 1-34 1 58 1-51 1 40 1-1 1-23 1-48 1 14 1-7 1 76 1-5 1 2 1 86 1-62 1 11 1 26 1 28 1-20 1-57 1-30 1-13 1 3 1-26 1 21 1 20 1-22 1-28 1 58 1-28 1 111 1 24 1-44 1-81 1-18 1-24 1 18 1 46 1 0 1-20 1-32 1 55 1 33 1-10 1-59 1 34 1 11 1-26 1-1 1 27 1 15 1 41 1 10 1-47 1-49 1-19 1 31 1 40 1-42 1-38 1-14 1 54 1 9 1-32 1-8 1-58 1 10 1-5 1 64 1 37 1-21 1 9 1-37 1 17 1-15 1 38 1-34 1-34 1-2 1 63 1-28 1 19 1-17 1 7 1 6 1 10 1-44 1 2 1 50 1-50 1 96 1-34 1 25 1-55 1 9 1-5 1 74 1-65 1-14 1 8 1 24 1-39 1-53 1-16 1 7 1 77 1 1 1 34 1-9 1 30 1-35 1-35 1 39 1-54 1 48 1-17 1-25 1-8 1-66 1-17 1 42 1 52 1 58 1 33 1-37 1-23 1-80 1 74 1 6 1 38 1-19 1 25 1 0 1-73 1-15 1-59 1 36 1 9 1 1 1 16 1-26 1 34 1 17 1 65 1-34 1-15 1-18 1 99 1-152 1 17 1 52 1-21 1-20 1-56 1 46 1 24 1 3 1 6 1 63 1-92 1 14 1-16 1-7 1 71 1 27 1 29 1-47 1-29 1 3 1 31 1-34 1-16 1-35 1-8 1 130 1-95 1 32 1-13 1 20 1 3 1 43 1-39 1-29 1 22 1-20 1-11 1-136 1 96 1 58 1 13 1 37 1-55 1 3 1-6 1 28 1-25 1 67 1-6 1 5 1-16 1-56 1 14 1-5 1-45 1 14 1 23 1 43 1 12 1-35 1-8 1-27 1-2 1 11 1 81 1-78 1 43 1 47 1-50 1-42 1-6 1 93 1-63 1-11 1 31 1 35 1-29 1-81 1 37 1-26 1 22 1-16 1-7 1 19 1 16 1 6 1-22 1-58 1-12 1-1 1 5 1 73 1 39 1 38 1-71 1 13 1 1 1-21 1 18 1-35 1-16 1 5 1 20 1 7 1-7 1 35 1-42 1-16 1-4 1 53 1-26 1 33 1-28 1-19 1 41 1 45 1-43 1 32 1-56 1 39 1-9 1-15 1-6 1 8 1-39 1 40 1-54 1-9 1 34 1-17 1 2 1-21 1-2 1 26 1 9 1 16 1 40 1 27 1-46 1-34 1-79 1 93 1 26 1 30 1 104 1-153 1 7 1-24 1 41 1-10 1-10 1 14 1 23 1-40 1-10 1-71 1 55 1-2 1 52 1-32 1 30 1 71 1-106 1 79 1 26 1-35 1-38 1-62 1-16 1 51 1 21 1 30 1-61 1-22 1 2 1-11 1 61 1-22 1-51 1-8 1 38 1 45 1 4 1 30 1-52 1 40 1-2 1-50 1-77 1 27 1 15 1 69 1-15 1 70 1-44 1-41 1-57 1 53 1-22 1 73 1 19 1-83 1-55 1 23 1 45 1 9 1 9 1 21 1-19 1 23 1-20 1 10 1-23 1 3 1-2 1-33 1 52 1-64 1-28 1-1 1 33 1 20 1 40 1-17 1 19 1-55 1 27 1 0 1-8 1 27 1-13 1 35 1-21 1-95 1 1 1-14 1 19 1 29 1 7 1 31 1 4 1 2 1-27 1 26 1 26 1-35 1-21 1 5 1 25 1 90 1-91 1-32 1 10 1 6 1 8 1 84 1-11 1-19 1 14 1-95 1 33 1-35 1-29 1-14 1 36 1 19 1 69 1 23 1-10 1-63 1 2 1-43 1 85 1-12 1-15 1-22 1 38 1 2 1-5 1-73 1 20 1-2 1 52 1 3 1-10 1-75 1 80 1 50 1 114 1-31 1-24 1-20 1-94 1 32 1-30 1-54 1 30 1-65 1 73 1-22 1-12 1-27 1 16 1-18 1 48 1-77 1 62 1-3 1 34 1-14 1-9 1 26 1 15 1-62 1 76 1 0 1 20 1-38 1 28 1-48 1-46 1 6 1 31 1 46 1-17 1 0 1 32 1-16 1-20 1-12 1-33 1 81 1-12 1 22 1-35 1 3 1-75 1-17 1 29 1 9 1 33 1-28 1 54 1-30 1 15 1 13 1-39 1 22 1-21 1 43 1 8 1-42 1 4 1-11 1 14 1-13 1 22 1-41 1-21 1 35 1-11 1 37 1-19 1 8 1-21 1 42 1-31 1-38 1 1 1-40 1 83 1 24 1-5 1-10 1 18 1 50 1-11 1-73 1 35 1-66 1 2 1 33 1 123 1-6 1-1 1-80 1 22 1-8 1-46 1-11 1 18 1 36 1-17 1 30 1-38 1-8 1-8 1 9 1-8 1-16 1 42 1 67 1-30 1-30 1-48 1 32 1-4 1 4 1 18 1-37 1 31 1-36 1 0 1-23 1-10 1 42 1 16 1-29 1-62 1 25 1 59 1 34 1 9 1 31 1-32 1-67 1-28 1-35 1 25 1 88 1-26 1 24 1-48 1 39 1-49 1-9 1-35 1-26 1 10 1 61 1 51 1-42 1-37 1 13 1 86 1-12 1-27 1-25 1-4 1 18 1 20 1-49 1-27 1 48 1-37 1 85 1-32 1-13 1 31 1 7 1-19 1-14 1-9 1 7 1 13 1 41 1 42 1-9 1-38 1-38 1-6 1-68 1 69 1-7 1-24 1-31 1-27 1 16 1 26 1 37 1-5 1 13 1 12 1 1 1 62 1-28 1 0 1-40 1-22 1-8 1 21 1 16 1-67 1 46 1-59 1 46 1-1 1 25 1 19 1 40 1-58 1-65 1 20 1 28 1 30 1 12 1-30 1-44 1 21 1 51 1 36 1-88 1 8 1-9 1 12 1 31 1-37 1-100 1 165 1-59 1 16 1-29 1 18 1 15 1-47 1-56 1 115 1 35 1 0 1-87 1-107 1-181 1 219 1 191 1 25 1 50 1-134 1-27 1-70 1 33 1-67 1-82 1-245 1 307 1 65 1-103 1 54 1 264 1-358 1 127 1 117 1-105 1 81 1 170 1-80 1 7 1-34 1 41 1-61 1-23 1 27 1 15 1-125 1 144 1-111 1-21 1 11 1 3 1 37 1-155 1-262 1 471 1-63 1 66 1-87 1-478 1 470 1-34 1-6 1 59 1 25 1-30 1 3 1 83 1 49 1-44 1 7 1-158 1 38 1-53 1 16 1-37 1 10 1 16 1 65 1 73 1-27 1 38 1-56 1-14 1 29 1-33 1-26 1 42 1 10 1 28 1-9 1 26 1-37 1-39 1 51 1-182 1-159 1 155 1 91 1-59 1-53 1 1 1 156 1 137 1-61 1-38 1 50 1 49 1-56 1-27 1-28 1 60 1-109 1-58 1 75 1 54 1 12 1 34 1-32 1 0 1 29 1-53 1-8 1-65 1 74 1-46 1-166 1 206 1 24 1-26 1-51 1-3 1-13 1-95 1-35 1 155 1 90 1 11 1 77 1 219 1-230 1 18 1-148 1-16 1-21 1-37 1-57 1-62 1-213 1 218 1 101 1 65 1 46 1 18 1 39 1 0 1 35 1 76 1-9 1-245 1 22 1-95 1-24 1-13 1 36 1 15 1-1 1 37 1 81 1 36 1-34 1 41 1-27 1-13 1-48 1 14 1 46 1 65 1-19 1 102 1 210 1-230 1-110 1-36 1-43 1 9 1 54 1-58 1-35 1 60 1 16 1-7 1-32 1-14 1 37 1 62 1-151 1-181 1 210 1 211 1-55 1 61 1-129 1-32 1-62 1 39 1-64 1 63 1-62 1-4 1-40 1 140 1 217 1-62 1-35 1 24 1-49 1-8 1-54 1-65 1-27 1-29 1 56 1-51 1-58 1 55 1 43 1-89 1-94 1 251 1 131 1-141 1-51 1-9 1 22 1 39 1 50 1 40 1 24 1-61 1-40 1 14 1-59 1-34 1-22 1 18 1-97 1-141 1 84 1 68 1 72 1-7 1 13 1 5 1-66 1 42 1 114 1 44 1 27 1-42 1-74 1-42 1 24 1-58 1-24 1 0 1-1 1 75 1-134 1-171 1 215 1 186 1 15 1 29 1 32 1 7 1-55 1-79 1-23 1-26 1 1 1-33 1 54 1-40 1-24"/>
<path vector-effect="non-scaling-stroke" stroke="#77AC30" d="M0 749l1 29 1 33 1-23 1 65 1-29 1-26 1 9 1-41 1 28 1 22 1-16 1-1 1 23 1 11 1-41 1 52 1-4 1-1 1-44 1-19 1-23 1 94 1-23 1 15 1 8 1 35 1-1 1-7 1-18 1-17 1 10 1 33 1 79 1-176 1-18 1-4 1-17 1 10 1 10 1 46 1 1 1 45 1 33 1-8 1-39 1-22 1-27 1 9 1-6 1 16 1 40 1-33 1-66 1 12 1-22 1 65 1-25 1 90 1-97 1-15 1 10 1 39 1 47 1 28 1 17 1 13 1 11 1-26 1-46 1-64 1 36 1-25 1 27 1 4 1 16 1-30 1 6 1-50 1 38 1 16 1-16 1 64 1-29 1-72 1 1 1-24 1 56 1-29 1 76 1-5 1 15 1-7 1-51 1 28 1-41 1 54 1-26 1 37 1-20 1 1 1-1 1-10 1 12 1 6 1-20 1-14 1-23 1 35 1 27 1 0 1-12 1-19 1-46 1-23 1 14 1 0 1 91 1-51 1-13 1-16 1 19 1 50 1-17 1 7 1-48 1-46 1 7 1 31 1-25 1 48 1-45 1 31 1 10 1 16 1-40 1 24 1 21 1-47 1 33 1-24 1 47 1 59 1-29 1 32 1-103 1 21 1-45 1-45 1-2 1 16 1-65 1 59 1 31 1-31 1 85 1 0 1 46 1-5 1 20 1-22 1-164 1 132 1 18 1 52 1-35 1 15 1-75 1 28 1-33 1 47 1 27 1 4 1-60 1 25 1 10 1-36 1-21 1-5 1-8 1 74 1 61 1 1 1-35 1-56 1-66 1-32 1 51 1-1 1 7 1 20 1 14 1-22 1-33 1 62 1 19 1-57 1 23 1-51 1 99 1 44 1 4 1 11 1-74 1-3 1-31 1-35 1 93 1-3 1-22 1-32 1 7 1 10 1 98 1-4 1-27 1 18 1 9 1-57 1 9 1-35 1-15 1-20 1 5 1 31 1 60 1-24 1 28 1 3 1 58 1-43 1-46 1-60 1 70 1 7 1-50 1-70 1 3 1 22 1 19 1 34 1-25 1-10 1-54 1 65 1-42 1 31 1-2 1-32 1-26 1 82 1-48 1 28 1 42 1 32 1-2 1-103 1 23 1 12 1 27 1-3 1-13 1 12 1-48 1-14 1-34 1 20 1-2 1 9 1-16 1 25 1 30 1 28 1 6 1-7 1 12 1-13 1 15 1-25 1-1 1-29 1-18 1 40 1 30 1-34 1 8 1-20 1 21 1 27 1 9 1-42 1 4 1-48 1 89 1 50 1-32 1-50 1-16 1-29 1 59 1-40 1-9 1-33 1-20 1 31 1 4 1 12 1-3 1 11 1 11 1 4 1-8 1 28 1-5 1-21 1 20 1-11 1 4 1 20 1-5 1-41 1 0 1 30 1-9 1-13 1-32 1-2 1 10 1 32 1-99 1 88 1 27 1-39 1 31 1 51 1-73 1 13 1 15 1 9 1 20 1-5 1 32 1-12 1-30 1 53 1-9 1-23 1-65 1 63 1-25 1 22 1-41 1 12 1-51 1 20 1-42 1 37 1 24 1 50 1-8 1-6 1-20 1 65 1-90 1-21 1 33 1-9 1-19 1 0 1-21 1 27 1 22 1-12 1-1 1-19 1-1 1 82 1 54 1-96 1-40 1 33 1-6 1 54 1 25 1-25 1-43 1 37 1-34 1 49 1-77 1 7 1-1 1 26 1-9 1-1 1 37 1 30 1-61 1 13 1-18 1 64 1 72 1-73 1-7 1-71 1 14 1 11 1-20 1 126 1-127 1 8 1-28 1-5 1-20 1-32 1 12 1 26 1 46 1 9 1-2 1 4 1 31 1 0 1-34 1-3 1 7 1 68 1-3 1-55 1-50 1-29 1 6 1 26 1 49 1-50 1 46 1 24 1-78 1 12 1 20 1 17 1-39 1 35 1 22 1-1 1-19 1-14 1-42 1 45 1-51 1 10 1 4 1 9 1 23 1-39 1 39 1 6 1-12 1-20 1 38 1 39 1-11 1-45 1 21 1 2 1-15 1-11 1-8 1 23 1-10 1 4 1-7 1-1 1 4 1 18 1 44 1-22 1-45 1 18 1-13 1-47 1-64 1-7 1 59 1 35 1 44 1-53 1 6 1 41 1 44 1-1 1-11 1 8 1-66 1 35 1-8 1 11 1 9 1-42 1 14 1-51 1-9 1 37 1 31 1 68 1-79 1 2 1-24 1 40 1-39 1 127 1-55 1 7 1-53 1-2 1 3 1 21 1 29 1-58 1 24 1 33 1 8 1 14 1-45 1-14 1-75 1 25 1 33 1 21 1 19 1-8 1-36 1 49 1 32 1 1 1 36 1-80 1-14 1 11 1 26 1-27 1-28 1 19 1 38 1-1 1-21 1-20 1-11 1 52 1 46 1-63 1-45 1-7 1 51 1 3 1-5 1-62 1 32 1 34 1-15 1-42 1-3 1 21 1 60 1-17 1-72 1-19 1 67 1-12 1-71 1-7 1 16 1 37 1-25 1-3 1 28 1 16 1 0 1-1 1 39 1 14 1-79 1 23 1 0 1-11 1-16 1-10 1 38 1 15 1 3 1 10 1 32 1-86 1 49 1-26 1 48 1-6 1 37 1-53 1-6 1 6 1-34 1 30 1-19 1 37 1-54 1-2 1-4 1 42 1-15 1-18 1-32 1 28 1-9 1 43 1 41 1 36 1-14 1-35 1 56 1-44 1 38 1-57 1-12 1-57 1 33 1 13 1-18 1 24 1-31 1 67 1 121 1-153 1-16 1-94 1 80 1 39 1-13 1-42 1 28 1 7 1 11 1-1 1 21 1 29 1-4 1-99 1-61 1 15 1-17 1 47 1 33 1 55 1-26 1 1 1-4 1 4 1-7 1 3 1 7 1 6 1-87 1 60 1-10 1-15 1-16 1 0 1-22 1 19 1 46 1-2 1 12 1-4 1-6 1-33 1 83 1-38 1 19 1 24 1-31 1 5 1-8 1-9 1 55 1-35 1-47 1 8 1 6 1 61 1-26 1-6 1 19 1-21 1-14 1 24 1-122 1 126 1 4 1-25 1 12 1 17 1-44 1 46 1-25 1-14 1-30 1 2 1 48 1-28 1 0 1 19 1 1 1-12 1 22 1-67 1 9 1 33 1 35 1 18 1 2 1-75 1 9 1-8 1-90 1 21 1 127 1-75 1 27 1 8 1-20 1-47 1-1 1-17 1 62 1 33 1-4 1-31 1 13 1 45 1 47 1-81 1-10 1-13 1 9 1 30 1 21 1-17 1 32 1-42 1-3 1 3 1 34 1-4 1-11 1 35 1-25 1-21 1 0 1-32 1 15 1-7 1 29 1 35 1 1 1-56 1 1 1 36 1-100 1 35 1-13 1 22 1 41 1 6 1 8 1-32 1-39 1 9 1 19 1-66 1-21 1 49 1-21 1 102 1-29 1 34 1 39 1 45 1-125 1-51 1 8 1 107 1-5 1-37 1-19 1-100 1 32 1 25 1 0 1 60 1-33 1 32 1-70 1-88 1 57 1 29 1 32 1 33 1 0 1-14 1 83 1-112 1 4 1 3 1-79 1 112 1 41 1-46 1-6 1-47 1 53 1 20 1 32 1-40 1 21 1-64 1 78 1-2 1 46 1-69 1-42 1-62 1 19 1 29 1 40 1-27 1-77 1-11 1 36 1 69 1-18 1 13 1 17 1-38 1 8 1 8 1 4 1-28 1 32 1-43 1 17 1 20 1-36 1-13 1 9 1 23 1 7 1 25 1 116 1-117 1 9 1 10 1 20 1 5 1-36 1-1 1-48 1 24 1-8 1 9 1-11 1 52 1-36 1 15 1 14 1-6 1-26 1-80 1 6 1-18 1-25 1 11 1 31 1 55 1 66 1 9 1-9 1-23 1-20 1 16 1-33 1 40 1-12 1 32 1-13 1 41 1-57 1 6 1 33 1-19 1 28 1-24 1-5 1-61 1-35 1 22 1 61 1 104 1-50 1-17 1-30 1-46 1 9 1-3 1 3 1-15 1 5 1 24 1 5 1 40 1-66 1-20 1-11 1 16 1 1 1 7 1-12 1-52 1 49 1 5 1 35 1-22 1 10 1-31 1 31 1 37 1-29 1-21 1-20 1 35 1 56 1-26 1-63 1-7 1 10 1 97 1-50 1 5 1-32 1-28 1-10 1 21 1 145 1-55 1-95 1 113 1-70 1-26 1 19 1-41 1 29 1 12 1 15 1 29 1-31 1-3 1 19 1-7 1 1 1-55 1-11 1 44 1 11 1-14 1 5 1-30 1-7 1 11 1 16 1 73 1-15 1 9 1-37 1-5 1 23 1 37 1-44 1 13 1 13 1 1 1 75 1 76 1-63 1-13 1-2 1 29 1-143 1-86 1-34 1 215 1-92 1 77 1-70 1-79 1 28 1 125 1 33 1 206 1-126 1-49 1-179 1 181 1-129 1-21 1-134 1-100 1 154 1 127 1 92 1-69 1-26 1-45 1-36 1-36 1-26 1-113 1 203 1-11 1-8 1-17 1-73 1 61 1-38 1 33 1 3 1-10 1-53 1 241 1-106 1 90 1-157 1 5 1-21 1 53 1-22 1 17 1-10 1-7 1 6 1-37 1 5 1 74 1 25 1-38 1-103 1 71 1 63 1 15 1 21 1-58 1 9 1 25 1 34 1-16 1-69 1 26 1-89 1 39 1-31 1-47 1 46 1 9 1-6 1 39 1 36 1 62 1-1 1-29 1-27 1-42 1 76 1 74 1-135 1-139 1 49 1 53 1 70 1 27 1 84 1-89 1 7 1-56 1 34 1-45 1 20 1-79 1 58 1 10 1-32 1 72 1 17 1 2 1-90 1 23 1-13 1 26 1 14 1-7 1 49 1-52 1 72 1 143 1-168 1-65 1 25 1-63 1 19 1-22 1-2 1-10 1-27 1 26 1 60 1 22 1 43 1-56 1 20 1 23 1 2 1-20 1-29 1-52 1-41 1 27 1-62 1-25 1 174 1 243 1-162 1-83 1-16 1 22 1-6 1 260 1-220 1-52 1 61 1-14 1-18 1 6 1 23 1 81 1 75 1-180 1-98 1-58 1 50 1 190 1-77 1-45 1 9 1 47 1-19 1-11 1-26 1 54 1-252 1-111 1 126 1 214 1-27 1-24 1 38 1 44 1 142 1-144 1-79 1-121 1 50 1 3 1 23 1 84 1 139 1-83 1-25 1-7 1-98 1 88 1-9 1-14 1-97 1-181 1 185 1-30 1-47 1 148 1-7 1 68 1-167 1-164 1 220 1 74 1-23 1-35 1-6 1 9 1 38 1 38 1 67 1 64 1-62 1-45 1 9 1-57 1 26 1 26 1-78 1-57 1 14 1 7 1 28 1-21 1 2 1-7 1 31 1 53 1 2 1 13 1 31 1-32 1-3 1-9 1-95 1-88 1 100 1 41 1-64 1 8 1-66 1-130 1 163 1 104 1-19 1-36 1 83 1 15 1-101 1-188 1 45 1 61 1-22 1 112 1 25 1 46 1-67 1-17"/>
<path vector-effect="non-scaling-stroke" stroke="#4DBEEE" d="M0 858l1-7 1-17 1-66 1-35 1 79 1 39 1 3 1-38 1-30 1-2 1-44 1 12 1-39 1 20 1-12 1 31 1 82 1 41 1-61 1 61 1-55 1-44 1-54 1 7 1 162 1-117 1 60 1-32 1-15 1 74 1 19 1-13 1-36 1 15 1-28 1 15 1 11 1-87 1 60 1-66 1 100 1-48 1-6 1-45 1-7 1 52 1 6 1 28 1 24 1-29 1-19 1 23 1-87 1 54 1-11 1-6 1 102 1-85 1-20 1 25 1 12 1-5 1 20 1-24 1 14 1-44 1-15 1-17 1 37 1 47 1 21 1 9 1-51 1 81 1-122 1 30 1 18 1 21 1 14 1-1 1 11 1 0 1-74 1 13 1-37 1-6 1 41 1 25 1 45 1-13 1-28 1 7 1 14 1 17 1 36 1-24 1-46 1-5 1-4 1-9 1-23 1 4 1 7 1 37 1-13 1 32 1-36 1 10 1-43 1 44 1 32 1-22 1-19 1-40 1-12 1-3 1-8 1 81 1 0 1 55 1-16 1 19 1-38 1-43 1-8 1 16 1-38 1-26 1 9 1 47 1-11 1-12 1 17 1-23 1-40 1 103 1-48 1 35 1-17 1 64 1-70 1-11 1 12 1 5 1 3 1 37 1-25 1 22 1-88 1 1 1 57 1 61 1 29 1-29 1-28 1-47 1-17 1 31 1-23 1-75 1 56 1-4 1 57 1-23 1 3 1-24 1 42 1 56 1-7 1-67 1-16 1-12 1-25 1 3 1 41 1-74 1-16 1 5 1 52 1 4 1 55 1 28 1 11 1-3 1-16 1-1 1 56 1 20 1-44 1-68 1-11 1-13 1 50 1 6 1-11 1-24 1-43 1-60 1 11 1 46 1 92 1-11 1 22 1-6 1-33 1 15 1-24 1 6 1 12 1-24 1 27 1-30 1-35 1-39 1 66 1-66 1 80 1 11 1 20 1-2 1-63 1-10 1-23 1 24 1 85 1 19 1 78 1-9 1-121 1-72 1-44 1 9 1 28 1-55 1 47 1 57 1-5 1 50 1 6 1-40 1 24 1 75 1 56 1-33 1-15 1-26 1-47 1-54 1 22 1 176 1-91 1-6 1-7 1-46 1-16 1 43 1-58 1-16 1-4 1 18 1 47 1-28 1-53 1 18 1-9 1 62 1 36 1-38 1 1 1-27 1-51 1 33 1 43 1 5 1 30 1-3 1 47 1-77 1 10 1-27 1-54 1 22 1-4 1 17 1 20 1 12 1-8 1-10 1 34 1-14 1-27 1 20 1 26 1-8 1-17 1 19 1-10 1-15 1-10 1-12 1-31 1 26 1 9 1 0 1-9 1-6 1 42 1 37 1 27 1-12 1-47 1 21 1-74 1 23 1-12 1 59 1-30 1-56 1 45 1-50 1 28 1-12 1-7 1 28 1-12 1 24 1 27 1-39 1-19 1-30 1-11 1 43 1 15 1-15 1 64 1-29 1 79 1-84 1-22 1 27 1-65 1 75 1-8 1 12 1-9 1-32 1-13 1-4 1 14 1-3 1-48 1 18 1 19 1 9 1-10 1-31 1 32 1-2 1 6 1 17 1 43 1 7 1-43 1-5 1-8 1 29 1 21 1 3 1 23 1-5 1-22 1-23 1 8 1-45 1 1 1 15 1 15 1-22 1-27 1-41 1 42 1-28 1-1 1 13 1 84 1-32 1 43 1 17 1 62 1-33 1-26 1-45 1 18 1-19 1 51 1-46 1-91 1 112 1-5 1-35 1-47 1 48 1 30 1-18 1-41 1-38 1 123 1-91 1 16 1-6 1 11 1 10 1-11 1 65 1 30 1-8 1-12 1-35 1 145 1-43 1-17 1-19 1-6 1-29 1-37 1 5 1-57 1 7 1-8 1 36 1 6 1-16 1 24 1-29 1 25 1 37 1 110 1-123 1-11 1-20 1-32 1 45 1-8 1 1 1 30 1-67 1-30 1 18 1 14 1-10 1 1 1 17 1-5 1-8 1-4 1 30 1-17 1-13 1 18 1-13 1-14 1 66 1-29 1-9 1-8 1 34 1-15 1 13 1 10 1-17 1 22 1 24 1 16 1-38 1-9 1 20 1 12 1 37 1 10 1-48 1-33 1-23 1 36 1-39 1 28 1-6 1-8 1 3 1-37 1 30 1-55 1-25 1 41 1 4 1 24 1 22 1-16 1-4 1 21 1-38 1 66 1-21 1-34 1 63 1-39 1-3 1-19 1-37 1 38 1 6 1 14 1-7 1-19 1 10 1-31 1 26 1 2 1 9 1 52 1-43 1 125 1-91 1 20 1-70 1-44 1 20 1 20 1 38 1-56 1 21 1-12 1-15 1 32 1 13 1-7 1-4 1-35 1-48 1 67 1 31 1-5 1 24 1 5 1 19 1-115 1 68 1-18 1-6 1-2 1 42 1-1 1 32 1 13 1 0 1 20 1-50 1-25 1 1 1 15 1-61 1 27 1 27 1 25 1-24 1-1 1 1 1 0 1-12 1-28 1-14 1 53 1-4 1 3 1 29 1 46 1-77 1-39 1-41 1-10 1 35 1 19 1 73 1 9 1 27 1 18 1-66 1 7 1-47 1 0 1-23 1 0 1 40 1 27 1 15 1-26 1 26 1 9 1-26 1-27 1-11 1 43 1 134 1-143 1-7 1-6 1-16 1 21 1-55 1 8 1 41 1-40 1 41 1 10 1-20 1-34 1-14 1 31 1-21 1-41 1 29 1 3 1 4 1 5 1 45 1 47 1 9 1-45 1 38 1 17 1-8 1-108 1-28 1 2 1-16 1 54 1 42 1-42 1 22 1-14 1 29 1 19 1-63 1 14 1 11 1 28 1 19 1-63 1 9 1-26 1 12 1-24 1-23 1-7 1 45 1 49 1 130 1-158 1-23 1-56 1 59 1 34 1-10 1 17 1-25 1 39 1-23 1 20 1 12 1 10 1-24 1 42 1 18 1-6 1-25 1-25 1-9 1-19 1-1 1-1 1 2 1-23 1-21 1 17 1 5 1 9 1 0 1-29 1 65 1 5 1 9 1-37 1 28 1 2 1-71 1 123 1-6 1 23 1-13 1-10 1-35 1-8 1-13 1 32 1-19 1 3 1 37 1-52 1-14 1 14 1-46 1-22 1 4 1 23 1 11 1 5 1 29 1 14 1 3 1-1 1 29 1-128 1-24 1 53 1 47 1-2 1 23 1 2 1-31 1 24 1 11 1-11 1-29 1 26 1-20 1 32 1 5 1-20 1-58 1 73 1-53 1 7 1 21 1-17 1-18 1-6 1 43 1 27 1-71 1 23 1-11 1 8 1 3 1 18 1 33 1-64 1 32 1-62 1 38 1 18 1-17 1-23 1-113 1 117 1 25 1-30 1-19 1 34 1 130 1 96 1-110 1-136 1 66 1 16 1-25 1-61 1-9 1-24 1-9 1 93 1-59 1 122 1-33 1 23 1-11 1-43 1-10 1-64 1 22 1 39 1 0 1 168 1-147 1-87 1 44 1-20 1 0 1 41 1-25 1-3 1 22 1-20 1 35 1 20 1-39 1 12 1-28 1 7 1 61 1 10 1 21 1-29 1-40 1-16 1 10 1-9 1 6 1 71 1-35 1-35 1 45 1-29 1-2 1-56 1 13 1 49 1 24 1-33 1 111 1-162 1 55 1 57 1-114 1 72 1 6 1-96 1 42 1 64 1-31 1-13 1-30 1 12 1 42 1-51 1 60 1-16 1 6 1-28 1 28 1 4 1 53 1-10 1-26 1 30 1-24 1-34 1 5 1-30 1-8 1-7 1-22 1 25 1 33 1 4 1 113 1-90 1-12 1 13 1-29 1 12 1-12 1-63 1-19 1-30 1 5 1 11 1 19 1-15 1 65 1 7 1 105 1-62 1-37 1-21 1 86 1-5 1-29 1-47 1 0 1-18 1 49 1-11 1 30 1 52 1-9 1-6 1-41 1-21 1-1 1-10 1 33 1-49 1 1 1 16 1 18 1-45 1-14 1 18 1 25 1-16 1-4 1 54 1 28 1-42 1-33 1 11 1 7 1 52 1 2 1-59 1-27 1 21 1 37 1 7 1-43 1 43 1-30 1-5 1-17 1 34 1 36 1 7 1 7 1 50 1-70 1-23 1 31 1-132 1 70 1 4 1 50 1-36 1 22 1-12 1 38 1 13 1-48 1-12 1 45 1-36 1-14 1-10 1 48 1-8 1 35 1-83 1 29 1-38 1 45 1 3 1-69 1 37 1 26 1 43 1-51 1 52 1-59 1-19 1-18 1 22 1-13 1-6 1 32 1 60 1-34 1 21 1-35 1 53 1-80 1-89 1 108 1 93 1-26 1-76 1-157 1-72 1 128 1 127 1 6 1 150 1 4 1-44 1-16 1-31 1-35 1-234 1-282 1 378 1 85 1 47 1 43 1-33 1 44 1-27 1-21 1 98 1 64 1-164 1 10 1-44 1 81 1-28 1-57 1 20 1 16 1 21 1 395 1-395 1 18 1-29 1-167 1 105 1-48 1-8 1-5 1 10 1 24 1 78 1 70 1-7 1-103 1-78 1 35 1-31 1 124 1-50 1 3 1 82 1 19 1-87 1 25 1-155 1 3 1-35 1 41 1-21 1 63 1 90 1 292 1-244 1-84 1 62 1 23 1-49 1-26 1-47 1-9 1-54 1-166 1 263 1 136 1 11 1-51 1 2 1-98 1-227 1 183 1 49 1-72 1-4 1-47 1 45 1 118 1 47 1-98 1-29 1 30 1-9 1-14 1 36 1 114 1-120 1-32 1-58 1 60 1-51 1 260 1-68 1-30 1-18 1-25 1-31 1-99 1-12 1 1 1 89 1 28 1-18 1 32 1-14 1-11 1-36 1-29 1-30 1-96 1 169 1 3 1-28 1 55 1 28 1-12 1-1 1 18 1-89 1 23 1-58 1 12 1-144 1 173 1 42 1-34 1-34 1-22 1 92 1 51 1 41 1 115 1 133 1-154 1-114 1-63 1-64 1-44 1-58 1 50 1 10 1 110 1-33 1 88 1-92 1 53 1-7 1 4 1-83 1 327 1-180 1-52 1 8 1-18 1 49 1-5 1-23 1 6 1-31 1 30 1-66 1-55 1 6 1 35 1 61 1-2 1 113 1-45 1-83 1-127 1-240 1 262 1 165 1 99 1-67 1-3 1-75 1-68 1-13 1-65 1-2 1-5 1 20 1-47 1 54 1 133 1-123 1 62 1 77 1 14 1 2 1-16 1-31 1-98 1-225 1 181 1 89 1-123 1-27 1 111 1 114 1-15 1 79 1-31 1 15 1 8 1-77 1-76 1-27 1 12 1 9 1 24 1 18 1 93 1 74 1 80 1-77 1 15 1-3 1-25 1-32 1-72 1-24 1 40 1-35 1 481 1-598 1-287 1 285 1 164 1-15 1 25 1-36 1 29 1-55 1-113 1-178 1 227 1 44 1-41 1-38 1-9 1 19 1 22 1 38 1 4 1 16 1 2 1-11 1-24 1-21 1 24 1 29 1 20 1-94 1 35 1-69 1 89 1 23 1-18"/>
<path vector-effect="non-scaling-stroke" stroke="#A2142F" d="M0 765l1 10 1-41 1 49 1-4 1 53 1 8 1 66 1-7 1-25 1 14 1-45 1-76 1-53 1 28 1 24 1 40 1-11 1 128 1-12 1-27 1-93 1 4 1-17 1 29 1 8 1 23 1-8 1 100 1-68 1 10 1-7 1-123 1-4 1 21 1 36 1-39 1 6 1-16 1-4 1 5 1-9 1 56 1 41 1 21 1 54 1-22 1-71 1-18 1-21 1 81 1-52 1-10 1 61 1-60 1 56 1-87 1-11 1-167 1 147 1 23 1 108 1 4 1 1 1-13 1-9 1-28 1 19 1 31 1-105 1-25 1 7 1 65 1-11 1 9 1 27 1 6 1 7 1-64 1 74 1-65 1 49 1-44 1 22 1-21 1-18 1 49 1-16 1 13 1 32 1 37 1-57 1-70 1-3 1-17 1 17 1-17 1 66 1-68 1 17 1-9 1 41 1-21 1 22 1-22 1 9 1 43 1-2 1 21 1-62 1-47 1 2 1 46 1-21 1 17 1 21 1-45 1 23 1 5 1-19 1 13 1 3 1 36 1 1 1 46 1-69 1 107 1-53 1-7 1-78 1 4 1 32 1 31 1-25 1-24 1-47 1 11 1 92 1-8 1 2 1-21 1 58 1-27 1-13 1 52 1 6 1-79 1-20 1-57 1 58 1 63 1 18 1-9 1 27 1-113 1-54 1 29 1 41 1 64 1 45 1-84 1 26 1-86 1-10 1 75 1-24 1 32 1 68 1-173 1 149 1 4 1-11 1-16 1 27 1-51 1 139 1 156 1-197 1-107 1-40 1-24 1 32 1-8 1 13 1-96 1 22 1-13 1 22 1 236 1-92 1-9 1 9 1-59 1-27 1-98 1 24 1 143 1-41 1-8 1-33 1 94 1 27 1-41 1 44 1-40 1 29 1 64 1-111 1 52 1-117 1 108 1-47 1 79 1-84 1 22 1-197 1 50 1 129 1-81 1 82 1 14 1 84 1-84 1-67 1 24 1 3 1 136 1 15 1-49 1-59 1-46 1-1 1-8 1 46 1-5 1-23 1-2 1 5 1 12 1-48 1 0 1 60 1 61 1-118 1 69 1-36 1 73 1-23 1-47 1 16 1-37 1 33 1 40 1 35 1-34 1-40 1-110 1 50 1-14 1 19 1 4 1-23 1-13 1-23 1 3 1 187 1-67 1 104 1-64 1-3 1-52 1 78 1-65 1 37 1-15 1 47 1-131 1-63 1 76 1 6 1 34 1-7 1-47 1 41 1-28 1 0 1 42 1-58 1 47 1-41 1 12 1-3 1 5 1 64 1 16 1-3 1 18 1-7 1-15 1-68 1-24 1 35 1-24 1 6 1-10 1 36 1 61 1 10 1-94 1 27 1-6 1 29 1-78 1-56 1 50 1 13 1-25 1-10 1-166 1 99 1 130 1 2 1-10 1-11 1 6 1-19 1-13 1 29 1 56 1-22 1 8 1-22 1-68 1 38 1-20 1 1 1 95 1-58 1 43 1-43 1 41 1-47 1 69 1-40 1-54 1 18 1-98 1 53 1-28 1 45 1-13 1 42 1-36 1 94 1 11 1 24 1 6 1-23 1-13 1-3 1-41 1-12 1-43 1-7 1 9 1 18 1 69 1-6 1-44 1 30 1-9 1-16 1-14 1-54 1 79 1 10 1 3 1-72 1-42 1-51 1 40 1 117 1 103 1-93 1-27 1-76 1 9 1-54 1 30 1-26 1 85 1 47 1-38 1 22 1 77 1-62 1-71 1 24 1 92 1 75 1-75 1-52 1-97 1 3 1 83 1 20 1 14 1-47 1 37 1-31 1 74 1-36 1-33 1-29 1 5 1 7 1 82 1-34 1-18 1 31 1 69 1-36 1 26 1 13 1-85 1-6 1 4 1-64 1-59 1 40 1 31 1 44 1-3 1 17 1 17 1 17 1-46 1 16 1 4 1-26 1-46 1 67 1-40 1 46 1 1 1-14 1 92 1-68 1-21 1-38 1 82 1 34 1-24 1 56 1 21 1-31 1-35 1-30 1 15 1 49 1-35 1-31 1-12 1-34 1-18 1 9 1 17 1 4 1 8 1 20 1 16 1-53 1 20 1-4 1 51 1-55 1 69 1-41 1-69 1 37 1-139 1 122 1-25 1-2 1 26 1 24 1-37 1 7 1-25 1-38 1 94 1-14 1 9 1-23 1 17 1 1 1 15 1-18 1 6 1-9 1-62 1 50 1 3 1 57 1-95 1-14 1-31 1 26 1 3 1 28 1 2 1-41 1 85 1 30 1 24 1 8 1-89 1-5 1 74 1-4 1-60 1 46 1-41 1-25 1 17 1 25 1 0 1 13 1 19 1-30 1-16 1 7 1-16 1 22 1 16 1-6 1 33 1-48 1 29 1 4 1 14 1 33 1-43 1-31 1-37 1 10 1 15 1-25 1 2 1 7 1 60 1-63 1-38 1 59 1 23 1 2 1-57 1 0 1 20 1 27 1 30 1-18 1-32 1-44 1 7 1 24 1 1 1 42 1-33 1 20 1-11 1 24 1 19 1-9 1-14 1-2 1-13 1 42 1-56 1-28 1 12 1 17 1-29 1-33 1-3 1-25 1-7 1 56 1 3 1 14 1 22 1-17 1 9 1-33 1 70 1-44 1 39 1-63 1 2 1 50 1-7 1-18 1-2 1 54 1-32 1 19 1 35 1 10 1-88 1-21 1-114 1 151 1 50 1 56 1 5 1-67 1-63 1 0 1 30 1-42 1 22 1-74 1 106 1-13 1 9 1 50 1-57 1-8 1-73 1-33 1 52 1-33 1 32 1 53 1-23 1-16 1 16 1-38 1 8 1 87 1-21 1-72 1 13 1-54 1 16 1 5 1 40 1 60 1 4 1 75 1-75 1-69 1 42 1-70 1 59 1-6 1-21 1-2 1 45 1-35 1 44 1-10 1-19 1-39 1-7 1-19 1 28 1-23 1 33 1 48 1 13 1 7 1-37 1-43 1 26 1-19 1 11 1 41 1-14 1 40 1-30 1 53 1 32 1-27 1-26 1-16 1 66 1-7 1-45 1-4 1 1 1-61 1-25 1 11 1 13 1 18 1 64 1-51 1-19 1-22 1 23 1 22 1-15 1 25 1 0 1 55 1-44 1 6 1 101 1 133 1-159 1-155 1 10 1 59 1 39 1 67 1-81 1-7 1-4 1 8 1-46 1 121 1-129 1-7 1-21 1 3 1 3 1 87 1 8 1 7 1-1 1-29 1 12 1 39 1-45 1-65 1-76 1 18 1 41 1 1 1 2 1 105 1-51 1 16 1-40 1 35 1 29 1-62 1-23 1 10 1 49 1 49 1-23 1 1 1-30 1 10 1-3 1 6 1 52 1 14 1-12 1-12 1-77 1-39 1 6 1 35 1 9 1-22 1-18 1 2 1 39 1-64 1-47 1-3 1 17 1 62 1 20 1 11 1 41 1-6 1-6 1 47 1-83 1-2 1 26 1-8 1 4 1-79 1 34 1-104 1 150 1-5 1 49 1-8 1 34 1-91 1 8 1-14 1-133 1 128 1-1 1 18 1 45 1-47 1 46 1-65 1-7 1 21 1-72 1 96 1-26 1-16 1 47 1-27 1 62 1-52 1 71 1-64 1-57 1 74 1-78 1 5 1 7 1 48 1 99 1-83 1-19 1 59 1 23 1 93 1-124 1-72 1 11 1 23 1-32 1-6 1-24 1 19 1-22 1-20 1 38 1 64 1 16 1-29 1-57 1 50 1 9 1 102 1-66 1-48 1-79 1 4 1 20 1-49 1 55 1-37 1 46 1-60 1 40 1 6 1 25 1 47 1-32 1 43 1-55 1-34 1 36 1 32 1 27 1-17 1 36 1-31 1-25 1-10 1-36 1-10 1-17 1 49 1-3 1-47 1-24 1 1 1-10 1 6 1 3 1 7 1 23 1 50 1 4 1-46 1-50 1 12 1 49 1 46 1-19 1 22 1-50 1 54 1-74 1 10 1-37 1-5 1 105 1-74 1 61 1-140 1 125 1 20 1 5 1 40 1-35 1-92 1-8 1 28 1 35 1 54 1-62 1 63 1-73 1-13 1 26 1-21 1 57 1-37 1 7 1-45 1 11 1 15 1 11 1-16 1 30 1 55 1-39 1 59 1-83 1 37 1-22 1-5 1 27 1-16 1 18 1 22 1-58 1-19 1 129 1 142 1-146 1-122 1 19 1-35 1-24 1 56 1 13 1 36 1-49 1-57 1-24 1 81 1 26 1 29 1-40 1-18 1 32 1-24 1 32 1 9 1-20 1-23 1-16 1 2 1 17 1 70 1-12 1-38 1-21 1-43 1 21 1 37 1 22 1-80 1 73 1 45 1-31 1-10 1-148 1 218 1 10 1-35 1-127 1 109 1-108 1 24 1 41 1 64 1-32 1-35 1-78 1-10 1 149 1 28 1-68 1 129 1-632 1 488 1-18 1 148 1 210 1-160 1-70 1-89 1 130 1-213 1-85 1 63 1-128 1-145 1 116 1 140 1 34 1-77 1-76 1-54 1-226 1 343 1 14 1-51 1 64 1 95 1 97 1-117 1-41 1-107 1 158 1 214 1-185 1 10 1 121 1-113 1 31 1-18 1 0 1 74 1-38 1-81 1 19 1-76 1 39 1-24 1 31 1-11 1 117 1-91 1 12 1 56 1-23 1-70 1-2 1-22 1-7 1 46 1 1 1 67 1 2 1-10 1-25 1-96 1-63 1-156 1 75 1 170 1-54 1 53 1 40 1 98 1-71 1 17 1 37 1 3 1-25 1-42 1-96 1 34 1-17 1 5 1-3 1 49 1 93 1-24 1 23 1-13 1-42 1 0 1 21 1 0 1-94 1 104 1-76 1-43 1-91 1 131 1 170 1-129 1-47 1 63 1-24 1 96 1 21 1-16 1-41 1-80 1 59 1 201 1-96 1-94 1-3 1-37 1-5 1-25 1-33 1 22 1-37 1-2 1 42 1 77 1-124 1 239 1 156 1-70 1-54 1-55 1-123 1-71 1-124 1-45 1 30 1 188 1 133 1-78 1-102 1 42 1 83 1 2 1 105 1 33 1-171 1-52 1 15 1 124 1 12 1-64 1 163 1-275 1 12 1 12 1-31 1 15 1-66 1 34 1 18 1 36 1 5 1-29 1 74 1-17 1 1 1-56 1-213 1 213 1 74 1-5 1 48 1 66 1 103 1-244 1-94 1-2 1 12 1-40 1-23 1-41 1-80 1 299 1 167 1-136 1-27 1 46 1-10 1 37 1-148 1-11 1 19 1 12 1 30 1 42 1-34 1 42 1-32 1 54 1-5 1 5 1-79 1-30 1-3 1 4 1-36 1 51 1 82 1 97 1 86 1-128 1-94 1 35 1 9 1-27 1-73 1-81 1 58 1 39 1 8 1 20 1-33 1-84 1-144 1-254 1 252 1 245 1 18 1 33 1 20 1 12 1-117 1-68 1-8 1 86 1-110 1-15 1-57 1-167 1 123 1 159 1 95 1-54 1 7 1-1 1 13 1 28 1-15 1-11 1-75 1-31 1-17 1 39 1 65 1 14 1 61"/>
<path vector-effect="non-scaling-stroke" stroke="#0072BD" d="M0 878l1 71 1-58 1-19 1-61 1 46 1-57 1-5 1-1 1 53 1 14 1 34 1-35 1-20 1 4 1-23 1-8 1-39 1-4 1-15 1 9 1 24 1-27 1 17 1-37 1 20 1-30 1 71 1 55 1-7 1-19 1-25 1-10 1 33 1 29 1 27 1-92 1-23 1 7 1 102 1-10 1 13 1-27 1-10 1-102 1 29 1 15 1 64 1 31 1-77 1 6 1-40 1 14 1 89 1 7 1-96 1 45 1-45 1 78 1-86 1-24 1 33 1 64 1 32 1 39 1-73 1-48 1-12 1 21 1-3 1 35 1 41 1-14 1-58 1-56 1 32 1 19 1 50 1-24 1 50 1-71 1 5 1 1 1 30 1-10 1-63 1-1 1-9 1 9 1 45 1 2 1 40 1-1 1 96 1-155 1 40 1-10 1-13 1-30 1 8 1-89 1 95 1-11 1 35 1 20 1 5 1-11 1-64 1 59 1-70 1 34 1-5 1-27 1-5 1 24 1 54 1-64 1 13 1 1 1 40 1 41 1 42 1-71 1 48 1-116 1 17 1-38 1 95 1-2 1 39 1 56 1-45 1-79 1-59 1 56 1-35 1 70 1-50 1 0 1 16 1 1 1 19 1-15 1-22 1-7 1 37 1 15 1 26 1 0 1-57 1-51 1-1 1 81 1 5 1 4 1-52 1-34 1 56 1 9 1-66 1-1 1 16 1 54 1 53 1 2 1 33 1-58 1-18 1-60 1-7 1 58 1-21 1-15 1-36 1 49 1 81 1-120 1-8 1-23 1 88 1-46 1 54 1-40 1-40 1-29 1 86 1-74 1 160 1-17 1-34 1-23 1-54 1 41 1-1 1 94 1-15 1 53 1-16 1-93 1-87 1 40 1-41 1 55 1-35 1 65 1-84 1 80 1 43 1 3 1-66 1 19 1 54 1 34 1 5 1-9 1-102 1-90 1 49 1 31 1 10 1 53 1-14 1 13 1 84 1-113 1-85 1 74 1-59 1 51 1 39 1-37 1-62 1 50 1 31 1 24 1-97 1-3 1-3 1-7 1 59 1 23 1 22 1-46 1 36 1-38 1-35 1 8 1 81 1-54 1-2 1 9 1 72 1-53 1 29 1-110 1-6 1 26 1 0 1 53 1-56 1 15 1 12 1 23 1 57 1 21 1 54 1-104 1 44 1 37 1-26 1-32 1-87 1 24 1-26 1 47 1 38 1-57 1-38 1 16 1 72 1 3 1-59 1-39 1 65 1-50 1-19 1 6 1 5 1 79 1 34 1 23 1-91 1-35 1-41 1 72 1-54 1 48 1-10 1 51 1-46 1-13 1-46 1 21 1 13 1 18 1-57 1-11 1 37 1 79 1 22 1-18 1-74 1 27 1-45 1 34 1 9 1 15 1-33 1-28 1 40 1 47 1-17 1-29 1-4 1 48 1-52 1-3 1 9 1 32 1 7 1 13 1-19 1 36 1-208 1 158 1-9 1 50 1-6 1 55 1 4 1-25 1 1 1-66 1 8 1-52 1 39 1-26 1-14 1-143 1 176 1-11 1 20 1-33 1 67 1-12 1-10 1 78 1-126 1 80 1-59 1 13 1 45 1-75 1 37 1 83 1 14 1-29 1-29 1-8 1-2 1-27 1-25 1-17 1-7 1 7 1 18 1-33 1 84 1 2 1-19 1 4 1 0 1 14 1 66 1-34 1-43 1-57 1-15 1 122 1-105 1 2 1 122 1-13 1 17 1-100 1 8 1 19 1-11 1-66 1 49 1-41 1-1 1 78 1-42 1-53 1 120 1-77 1 75 1 8 1 16 1-39 1-57 1 66 1-34 1 5 1-91 1 26 1 21 1 31 1-57 1-16 1-8 1 70 1 44 1 26 1-7 1 4 1-111 1-30 1 69 1 40 1-6 1 20 1-33 1-17 1-46 1 33 1 65 1-23 1-51 1 69 1-11 1 54 1-18 1-58 1-25 1 30 1-76 1 37 1-38 1 87 1 6 1-2 1 5 1-11 1-1 1 13 1 73 1-69 1-21 1 1 1-9 1 96 1-85 1-15 1-23 1-25 1 92 1-20 1 24 1-46 1 61 1 8 1 26 1 3 1-21 1 1 1-74 1-32 1 13 1 49 1 28 1 0 1-11 1 14 1-49 1 34 1-22 1-19 1-73 1-19 1-57 1 103 1 12 1 121 1-81 1 21 1 38 1 4 1 5 1-45 1-92 1 63 1 15 1-33 1-11 1-33 1 18 1 47 1-28 1-11 1-3 1 22 1-29 1 37 1 9 1 41 1 24 1 30 1 22 1-41 1 24 1-74 1 22 1-125 1 148 1 114 1-74 1-80 1-52 1 50 1-62 1-16 1-51 1-6 1 34 1 47 1-17 1 24 1-6 1 17 1-43 1 69 1-24 1 57 1-40 1-18 1 26 1-23 1 24 1 63 1 13 1 32 1-95 1-38 1 1 1-1 1 5 1 2 1-39 1-1 1-15 1 11 1 34 1 32 1-27 1-22 1-15 1-18 1 3 1-8 1 41 1-18 1-3 1 32 1 34 1-47 1 30 1 35 1-16 1 3 1 10 1-24 1 24 1-43 1 17 1 11 1 11 1-19 1 39 1-86 1 114 1-77 1-49 1-18 1-94 1 63 1 19 1 66 1 48 1 8 1-30 1 31 1 26 1 2 1-167 1 2 1-73 1 87 1-30 1 157 1-71 1 31 1 13 1-30 1 16 1-2 1 21 1-24 1-20 1 28 1-37 1 148 1-92 1-8 1 15 1-114 1-8 1 32 1 67 1 35 1-78 1 62 1 6 1 3 1-8 1-58 1 0 1-36 1 6 1 66 1-5 1 12 1-36 1-19 1 70 1 5 1-45 1 42 1-71 1 61 1-114 1 61 1-25 1 102 1-88 1-4 1 11 1-20 1-18 1-51 1 36 1 29 1 58 1 46 1 18 1-21 1 24 1-56 1 17 1-69 1 92 1-12 1 20 1-49 1-11 1 1 1 29 1-15 1 10 1-44 1 43 1-33 1 1 1 45 1 0 1-3 1-3 1-27 1-23 1-9 1-4 1-6 1 32 1-28 1 53 1-19 1 31 1-45 1 8 1-15 1 61 1-27 1 10 1-31 1-23 1 65 1-28 1 60 1-151 1 110 1 15 1 33 1-74 1-80 1-19 1 9 1 29 1 33 1 41 1 20 1-16 1 25 1 16 1 26 1-39 1-12 1-10 1-51 1 37 1 4 1 73 1-35 1-42 1 21 1-71 1 9 1 100 1-79 1 29 1-33 1-37 1 20 1-90 1 8 1 57 1 51 1-66 1 74 1-12 1 64 1 111 1-204 1-17 1-8 1 34 1 41 1-8 1 1 1 3 1 9 1 11 1 18 1-10 1 0 1-73 1-8 1-23 1-45 1 67 1 12 1 59 1-17 1 28 1-38 1 5 1-71 1 85 1 17 1-78 1-92 1 21 1-2 1 38 1 25 1 56 1 19 1 41 1-35 1-25 1-58 1 23 1-12 1-24 1 5 1-51 1 118 1 48 1 10 1-42 1-65 1 17 1 40 1 6 1 15 1-46 1-50 1 25 1-11 1 20 1 30 1-9 1-73 1 89 1-16 1 44 1-59 1-22 1-6 1-35 1 59 1 13 1-39 1-94 1 129 1-52 1-37 1 67 1-3 1 118 1 40 1 0 1-43 1-28 1-53 1-2 1 41 1 33 1 15 1-36 1-19 1-30 1-34 1-29 1 47 1-2 1-27 1 47 1-5 1 2 1-18 1-12 1 49 1 107 1-113 1-64 1 50 1 48 1-18 1-69 1-25 1 15 1 3 1 32 1 9 1-29 1 57 1-46 1 135 1-14 1-48 1-35 1-21 1-22 1 21 1-59 1 23 1 56 1-7 1-70 1-38 1 65 1 29 1 65 1-45 1-30 1-57 1-4 1 52 1 15 1 58 1-34 1-24 1 30 1-5 1 11 1 39 1-57 1 16 1-48 1 78 1 19 1-1 1-44 1-20 1 62 1-104 1 7 1 56 1 17 1-12 1-57 1 0 1-14 1-59 1-12 1 102 1 24 1 21 1-59 1-10 1 36 1-4 1 37 1 44 1-1 1 69 1 13 1-70 1-46 1 1 1 2 1 71 1-73 1 18 1-4 1-70 1 59 1-5 1 0 1 57 1-6 1-65 1 7 1-6 1 4 1 17 1-99 1-124 1 125 1-49 1 59 1-54 1 35 1 0 1 42 1-5 1 30 1-7 1 8 1-2 1 0 1-33 1 67 1 14 1-16 1 33 1-10 1-67 1 62 1-124 1-9 1 9 1 27 1 67 1 15 1-52 1-274 1 156 1 44 1 34 1 77 1 24 1-49 1-96 1 45 1 140 1 36 1-88 1 82 1 54 1-76 1 14 1-107 1-89 1-209 1 104 1 123 1 59 1 13 1 51 1-23 1 26 1-89 1 77 1-52 1 287 1-199 1 14 1-186 1 85 1 19 1-90 1-86 1-119 1 163 1 155 1-347 1 238 1 125 1-170 1-31 1-207 1 214 1 100 1 104 1-171 1 21 1-15 1-34 1 274 1-192 1 84 1-40 1-96 1-10 1 23 1 29 1 28 1 109 1 28 1-42 1-81 1-13 1 28 1-35 1-66 1-87 1 133 1 262 1-151 1-172 1 50 1-2 1 5 1-73 1-102 1 146 1 176 1-54 1-54 1 42 1 65 1-2 1-125 1 4 1-62 1-22 1 65 1-66 1 95 1 59 1 0 1 59 1-25 1-61 1 22 1-18 1 36 1-37 1 33 1-56 1 82 1-93 1 4 1 84 1 55 1-50 1-35 1 8 1 2 1-67 1-45 1-44 1 49 1 33 1 89 1-34 1-19 1-17 1-34 1 50 1-48 1 4 1 4 1 96 1 29 1-36 1-130 1 67 1 88 1-14 1-29 1-44 1 1 1-10 1-88 1-183 1 201 1 41 1 40 1 12 1 58 1 2 1-48 1 31 1 73 1-5 1 131 1-104 1-217 1-1 1-50 1 41 1-40 1 138 1 206 1-192 1-128 1 55 1 38 1 102 1 159 1-132 1-16 1 3 1 19 1-37 1 152 1 106 1-107 1-176 1-26 1-14 1-106 1 35 1-45 1-30 1 46 1 41 1 60 1 18 1-35 1 0 1-13 1-114 1-164 1 185 1 131 1-52 1 47 1 116 1-127 1-148 1 92 1 39 1-51 1 40 1-112 1 40 1 186 1-39 1-1 1-100 1 138 1 5 1-44 1-17 1-56 1-84 1 60 1 5 1 48 1-28 1 19 1-15 1 55 1 30 1 4 1 29 1 24 1-37 1-53 1-106 1-32 1 64 1 90 1-2 1-4 1 20 1-3 1-24 1-15 1 52 1 26 1-19 1 30 1-28 1-58 1-21 1-28 1-15 1 6 1 40 1 2 1 24 1-57 1-13 1-8 1 63 1 18 1-40 1-57 1-13 1-71 1-22 1 86 1-50 1-188 1 199 1 147 1-52 1-31 1 42 1-3 1 42 1 5 1-72 1-57 1-15 1 4 1 65 1-1 1 7 1 31"/>
<path vector-effect="non-scaling-stroke" stroke="#D95319" d="M0 844l1-6 1-39 1-29 1 15 1 20 1-97 1 97 1-63 1 50 1-30 1 30 1 78 1-23 1-8 1 21 1-21 1 25 1-10 1-23 1 32 1-48 1-35 1-10 1-40 1 93 1-65 1 89 1-35 1 23 1 8 1-35 1 31 1-48 1-43 1-138 1 139 1 113 1-54 1 14 1 0 1 56 1-53 1 4 1-53 1 61 1 17 1-97 1 33 1 8 1 18 1 70 1-23 1-7 1 9 1 60 1-67 1-26 1-43 1 17 1 15 1 12 1-13 1-170 1 96 1 59 1 12 1-69 1 14 1 54 1 11 1-21 1-23 1-25 1 24 1-23 1 61 1-106 1 94 1 22 1 36 1-44 1-17 1-14 1-26 1-21 1 35 1-7 1 69 1 4 1 141 1-187 1 50 1-15 1-4 1 43 1-20 1-8 1-33 1-18 1 38 1-14 1 10 1 15 1-29 1-55 1 19 1-28 1-15 1 17 1-6 1 44 1-145 1 151 1 31 1-62 1 72 1-42 1-15 1 13 1 59 1-25 1 50 1-40 1-27 1-19 1 44 1 2 1 43 1-66 1-25 1 26 1-19 1-22 1-44 1-1 1 67 1 107 1 40 1-104 1-7 1-9 1-29 1-58 1 2 1 48 1 72 1 5 1-69 1-14 1 38 1 31 1 77 1-143 1 73 1-45 1-55 1 66 1 43 1 8 1 18 1-47 1-21 1 6 1-8 1 44 1-57 1 48 1-80 1 52 1 52 1 20 1-5 1-1 1-1 1 4 1 31 1-8 1-44 1-55 1-11 1 51 1-50 1 19 1 14 1 77 1 9 1-5 1-13 1-128 1-7 1 10 1 68 1-50 1-47 1-46 1 24 1 80 1 71 1 49 1-7 1-99 1-35 1-42 1 15 1-83 1 61 1 61 1-26 1 22 1 26 1 35 1 43 1-42 1 5 1-13 1-5 1 14 1-85 1 91 1-55 1 5 1-194 1 97 1-3 1 64 1-23 1 135 1-14 1-57 1-19 1 6 1-75 1-102 1 169 1 14 1-3 1 18 1-30 1-46 1 56 1-34 1 19 1-7 1 37 1 37 1-12 1 10 1-43 1-29 1-32 1-48 1 20 1-22 1 59 1 51 1 11 1 3 1-31 1 51 1-51 1-11 1-25 1 22 1-49 1 23 1 23 1-53 1 42 1 9 1 2 1-34 1 13 1-6 1 4 1 73 1-28 1 12 1-12 1 4 1-27 1 26 1-46 1 31 1 43 1 0 1 116 1-169 1 84 1-53 1 91 1 8 1-66 1-80 1 2 1-14 1 39 1-25 1 38 1-31 1 54 1 5 1-22 1-49 1 33 1-16 1-5 1 37 1 20 1-74 1-8 1 5 1 19 1 62 1 2 1 40 1-71 1 30 1-38 1 42 1-13 1-64 1 9 1-6 1 28 1 39 1 6 1-17 1 5 1-45 1 63 1 5 1 7 1-67 1-24 1-14 1 0 1 39 1 46 1 19 1 0 1-19 1-55 1 38 1-39 1 50 1 3 1-15 1 14 1-49 1 50 1-27 1-49 1 7 1-23 1 44 1 8 1 42 1-14 1-45 1 68 1-32 1-27 1 9 1 62 1 32 1-6 1-44 1-53 1 30 1 46 1-42 1 26 1-38 1 19 1-35 1 22 1-26 1 31 1-21 1 81 1-57 1 36 1-78 1 108 1-71 1 22 1 10 1-55 1-34 1 19 1 13 1-19 1-23 1 28 1-77 1 110 1-30 1 25 1 14 1-5 1-37 1 73 1-37 1 28 1-16 1-22 1-40 1 55 1-10 1 19 1 10 1 35 1-17 1-23 1-73 1-34 1 72 1-34 1 10 1-36 1 13 1 18 1 17 1-10 1 67 1 15 1 57 1-45 1-34 1 5 1-9 1 11 1-25 1 9 1 34 1 28 1-59 1-18 1 18 1 18 1-104 1 13 1 6 1 24 1 26 1-5 1-6 1-23 1 27 1-5 1 52 1-42 1 14 1 11 1-18 1 21 1-34 1-1 1 5 1 11 1 61 1-30 1-47 1 99 1-34 1 67 1-140 1-38 1 52 1 40 1 32 1-23 1-2 1-50 1-9 1 3 1-41 1 53 1-35 1 115 1-153 1-26 1 46 1-18 1-50 1 53 1 5 1 16 1 186 1-139 1-74 1 30 1 20 1 7 1 12 1-18 1 8 1 7 1-55 1 38 1 9 1 57 1-10 1 6 1-23 1 1 1-29 1 15 1-8 1-28 1-42 1-48 1 86 1-36 1 46 1 14 1 108 1 9 1-67 1-88 1 4 1 21 1 8 1 17 1 27 1-35 1 58 1-33 1 4 1-27 1-71 1 51 1 4 1-7 1 10 1 19 1-31 1 42 1 30 1-18 1-9 1 21 1-42 1-8 1 25 1 42 1-64 1 28 1-54 1 46 1 23 1 12 1 35 1-60 1-35 1 7 1-30 1 62 1-31 1-7 1-18 1-15 1 30 1-38 1 85 1-21 1 29 1-1 1 5 1-25 1 2 1 62 1-13 1-55 1 2 1-25 1-46 1-15 1-1 1 78 1-34 1-50 1 24 1-80 1 106 1 75 1 56 1-43 1-25 1-85 1-28 1 10 1 102 1 61 1-65 1-4 1-6 1-41 1 26 1 6 1-7 1 20 1 43 1 15 1 27 1-58 1-46 1 26 1 26 1-28 1-24 1-58 1 1 1 79 1 103 1-85 1-40 1 37 1-39 1 54 1-58 1-46 1 14 1-36 1 39 1 30 1 132 1-101 1-56 1 4 1 8 1 42 1 13 1-41 1-8 1-69 1 3 1 34 1-53 1 73 1-55 1 50 1-15 1 56 1-71 1-15 1 77 1-26 1 48 1-33 1-26 1 1 1-4 1 36 1-42 1-39 1 116 1-12 1-3 1 4 1 15 1-16 1-7 1-46 1-9 1-13 1-46 1 108 1-5 1-35 1 26 1 18 1-8 1 5 1-23 1-3 1 34 1-3 1-2 1-14 1-8 1 20 1 10 1 21 1-39 1 12 1-35 1 32 1 25 1-51 1 29 1-16 1 28 1-40 1 17 1-33 1 9 1 22 1 34 1-9 1-25 1 15 1 3 1-9 1 2 1-44 1-34 1 25 1-56 1 43 1 6 1-30 1 37 1 3 1 38 1-28 1 30 1 12 1 29 1-34 1-41 1-63 1-47 1 93 1 67 1 20 1-60 1-6 1-101 1 142 1 65 1 40 1-39 1-24 1-42 1 33 1-40 1 66 1 8 1 24 1-21 1-63 1-46 1-7 1-11 1 1 1 21 1-18 1 54 1 115 1-86 1 42 1-16 1-1 1 20 1-61 1 33 1 19 1-57 1 14 1-6 1 51 1-26 1-5 1-49 1-5 1 3 1 15 1-90 1 23 1 14 1 197 1 4 1-54 1-15 1-9 1-68 1-20 1 30 1-36 1 38 1-6 1-10 1 29 1-39 1-48 1 22 1-25 1 79 1-68 1 57 1-18 1 14 1-1 1 8 1-21 1-51 1 60 1 67 1-20 1-29 1-77 1-13 1 21 1 16 1-40 1-27 1-38 1 51 1 43 1 66 1-36 1 13 1-34 1 35 1 28 1 11 1 33 1-8 1-36 1-3 1-39 1-35 1 15 1-1 1-15 1 14 1 8 1 7 1 36 1 68 1-78 1-48 1-18 1-32 1 71 1 26 1-38 1 33 1 39 1-12 1 9 1-50 1-5 1 41 1-95 1 43 1-27 1 11 1 88 1-24 1 11 1-10 1-52 1-76 1 47 1 5 1 33 1 14 1 1 1 28 1-10 1-39 1-1 1 38 1-12 1 40 1 12 1 41 1-78 1-28 1-57 1-49 1-3 1-31 1 29 1 56 1 8 1 56 1-34 1 94 1 6 1-61 1 29 1-64 1-3 1-10 1-2 1-6 1 101 1-2 1 70 1-88 1-56 1 5 1 8 1 7 1 22 1-8 1 29 1-17 1-79 1-37 1 5 1 53 1-14 1 37 1 14 1 4 1-6 1-61 1 12 1 35 1 21 1-43 1 17 1-16 1-32 1 20 1 9 1 4 1-23 1 84 1 12 1-3 1-37 1 22 1-17 1 30 1-1 1-21 1 42 1-105 1 89 1 25 1-61 1-5 1 13 1 32 1-40 1 31 1-64 1 43 1-44 1-10 1 27 1-49 1 28 1-9 1-1 1 27 1 36 1 136 1-140 1 16 1-40 1 21 1-72 1 1 1 1 1 64 1-67 1 113 1-1 1-36 1 26 1 12 1-85 1 49 1-60 1 23 1-24 1 43 1 25 1 35 1-99 1-25 1 5 1 106 1 8 1 26 1-71 1-65 1-23 1 59 1 13 1-102 1 25 1 21 1 71 1 104 1-65 1-187 1-273 1 344 1 147 1-34 1 1 1-5 1-22 1 28 1-9 1-33 1 229 1-70 1-8 1 51 1-147 1 10 1-47 1-210 1 262 1-34 1 6 1 114 1-15 1-105 1 82 1-151 1-111 1-141 1-101 1 224 1 84 1-15 1 41 1-114 1 24 1-78 1-5 1-54 1 109 1 182 1-98 1 114 1 106 1 1 1 121 1-197 1-51 1 33 1-5 1 13 1-64 1 5 1-40 1 37 1 10 1-29 1 4 1 18 1-66 1-77 1 53 1-130 1-167 1 170 1 150 1 12 1 68 1-7 1 51 1-23 1-10 1-125 1-185 1 172 1 4 1 90 1-66 1 30 1 169 1-66 1-1 1 4 1-29 1 33 1-44 1-79 1 35 1 64 1-73 1-7 1 25 1 54 1 27 1 66 1-35 1-23 1 40 1-37 1-41 1-40 1-37 1-2 1-199 1 215 1 151 1-91 1 11 1-99 1-2 1-13 1 59 1 40 1-2 1-29 1 50 1 5 1 91 1 252 1-203 1-116 1-42 1-1 1-143 1-291 1 251 1 154 1 41 1-3 1 16 1 22 1 8 1 42 1 89 1-109 1-124 1-18 1-41 1-61 1-43 1-10 1 81 1 130 1 14 1 5 1 70 1-76 1 75 1-48 1 9 1 68 1-29 1-118 1 77 1-14 1-4 1 33 1-10 1 67 1-69 1-68 1 15 1 30 1 84 1 159 1-196 1-140 1 137 1-48 1 54 1 12 1-44 1-73 1-118 1-130 1 204 1 110 1 36 1 132 1-156 1-135 1-23 1 43 1-35 1 16 1-27 1-36 1-13 1 208 1 294 1-207 1-124 1 94 1 27 1-94 1-127 1-158 1 98 1 60 1-56 1-13 1 122 1 69 1-6 1-171 1-172 1 238 1 116 1 5 1-20 1-89 1-16 1 94 1 48 1 67 1-26 1-19 1-15 1 9 1 2 1-22 1-102 1-42 1 16 1 69 1-44 1 12 1-11 1-3 1 0 1-4 1 27 1 4 1-3 1 56 1 65 1 4 1-45 1 27 1-83 1-90 1-8 1-57 1 49 1-14 1 76 1 45 1 22 1 21 1 53 1 41 1-86 1-58 1-143 1-66 1 87 1 112 1-26 1 40 1 37 1 58 1-82"/>
<path vector-effect="non-scaling-stroke" stroke="#EDB120" d="M0 815l1-89 1-43 1 68 1 20 1 17 1-59 1 77 1-32 1 38 1-11 1-24 1 30 1-35 1-37 1 27 1 84 1-1 1 12 1-5 1-19 1 0 1-37 1-16 1 14 1 8 1 42 1 4 1-22 1-68 1 89 1 34 1-1 1-58 1-5 1-7 1 13 1 57 1-69 1-65 1-12 1 31 1 128 1-102 1 2 1 97 1-70 1 24 1-7 1 61 1-21 1 9 1-44 1-35 1 30 1-48 1 9 1 14 1 9 1-10 1 21 1-31 1-1 1-9 1-73 1 96 1 29 1 53 1-51 1-18 1-26 1-3 1 69 1-74 1 50 1-21 1 12 1-44 1 31 1-79 1 41 1-17 1 35 1-7 1-27 1-2 1 57 1-26 1-29 1 3 1 35 1 69 1 17 1-23 1-5 1-76 1 31 1 28 1 23 1-68 1-16 1-1 1 59 1-31 1 15 1-150 1 92 1 68 1-19 1-101 1 55 1-24 1 73 1 15 1-110 1 47 1-61 1 29 1 25 1 34 1-13 1-36 1 4 1-18 1 15 1-10 1 75 1 55 1-32 1-2 1-109 1 18 1-12 1-29 1 26 1 42 1 46 1 8 1-31 1 10 1 22 1-55 1 50 1 17 1 85 1-27 1-13 1-114 1 20 1 6 1-14 1-50 1 22 1-17 1 84 1 47 1-59 1 20 1 52 1-107 1 56 1-56 1 34 1 47 1-1 1-57 1 0 1-34 1 59 1 22 1 43 1 94 1-94 1-86 1-6 1 34 1 52 1-79 1 40 1-85 1 33 1-21 1-2 1-16 1 31 1 44 1 75 1 23 1-41 1-62 1 21 1-47 1-43 1 83 1 55 1-47 1-77 1 91 1-22 1 58 1-65 1-23 1-45 1 110 1-155 1-11 1 86 1-27 1 15 1 94 1 2 1 29 1-81 1 13 1 38 1-66 1-36 1-18 1 89 1-39 1 56 1-63 1-22 1 64 1-17 1 59 1-166 1 56 1 30 1 12 1 22 1 19 1 20 1 8 1-4 1-112 1-2 1 13 1 76 1-14 1-2 1 47 1-27 1-33 1-65 1 45 1 130 1-26 1-25 1-62 1-51 1-20 1-16 1-8 1-62 1 30 1-29 1-11 1 50 1 12 1 47 1 37 1-10 1 7 1-54 1 43 1 54 1-26 1 3 1-36 1 17 1-2 1 31 1-104 1 35 1 8 1-10 1 36 1-22 1 77 1-24 1 44 1-79 1-8 1-34 1 45 1 39 1 58 1-32 1 10 1 6 1-58 1-25 1-11 1 7 1 34 1-8 1-28 1-60 1 20 1 74 1 28 1 5 1 15 1-40 1-38 1 4 1-107 1 111 1-52 1 22 1 9 1 46 1 33 1-41 1-21 1 5 1-4 1 8 1-7 1 7 1 11 1 1 1-70 1 95 1 5 1-63 1 69 1-51 1 20 1 43 1-28 1-18 1-9 1 26 1 39 1 5 1 5 1-69 1-61 1-51 1 5 1 48 1 30 1 3 1-5 1-27 1 24 1-4 1 40 1-19 1 34 1-87 1-19 1 10 1 21 1-11 1 49 1-63 1 30 1-19 1 62 1 27 1-17 1 42 1-30 1-105 1 93 1 49 1 18 1-10 1-25 1-37 1 20 1 53 1-2 1-111 1 21 1-44 1 25 1 10 1 49 1-34 1 0 1 56 1-3 1-79 1-29 1 1 1 33 1 7 1 79 1-86 1 30 1 18 1 73 1-39 1-54 1 13 1 22 1 18 1-36 1-57 1-43 1-23 1 10 1-10 1-7 1 30 1-27 1 23 1 148 1-43 1-44 1-43 1-43 1 83 1 43 1-66 1 9 1 49 1 26 1 51 1-40 1-5 1-22 1-55 1 3 1 0 1 4 1 49 1-29 1 38 1 9 1 48 1 54 1-67 1 5 1-53 1 4 1 52 1-13 1-22 1-41 1-32 1 57 1 13 1 24 1-14 1-15 1 50 1 19 1 8 1-13 1-48 1 1 1 79 1-109 1 4 1-11 1-33 1 7 1-48 1 14 1 0 1-20 1 49 1 37 1 28 1 18 1-40 1-6 1 77 1-50 1-14 1-82 1 48 1 27 1 51 1 13 1 4 1-59 1-71 1-7 1-17 1 81 1 11 1 32 1 67 1-47 1-5 1-25 1 44 1-36 1 28 1 7 1-81 1-40 1 39 1 97 1 73 1-77 1 5 1-114 1 24 1-116 1 108 1-18 1 12 1 104 1-141 1 50 1-75 1 24 1 93 1-34 1 36 1-61 1 27 1-30 1-9 1 20 1-8 1-3 1 81 1-2 1 12 1-88 1 27 1-42 1-56 1 41 1 32 1-49 1 86 1 121 1-137 1-50 1-7 1 15 1-5 1 2 1-41 1 52 1 3 1-8 1 55 1-125 1 132 1-50 1 28 1-36 1 43 1-31 1 49 1-46 1-10 1 23 1 25 1 23 1 8 1 25 1-63 1-108 1-126 1 130 1 80 1-2 1-10 1-18 1 17 1-14 1-10 1-26 1 37 1-50 1 77 1-12 1 69 1 6 1 27 1-88 1 45 1-99 1 1 1-23 1 91 1-21 1 44 1-30 1-10 1-42 1-54 1 33 1 50 1 38 1 122 1-111 1-25 1-102 1 20 1 46 1 63 1-38 1-4 1-32 1 5 1 38 1-2 1 21 1 37 1-42 1 13 1-32 1-1 1 46 1 60 1 14 1-69 1 47 1 134 1-169 1-68 1-83 1 98 1-34 1-52 1 0 1 46 1 2 1 22 1 1 1 47 1-48 1 49 1 27 1-1 1-48 1-19 1 34 1 7 1 1 1-78 1-59 1 121 1-40 1 94 1-53 1-12 1-80 1-9 1 74 1-4 1 23 1 44 1-100 1 54 1 48 1-16 1 10 1-74 1-52 1 41 1 0 1 5 1 10 1 22 1-1 1-18 1 6 1 57 1-21 1-19 1-61 1 24 1-9 1-11 1-31 1-10 1 60 1-7 1-2 1 25 1-27 1 14 1-15 1 27 1 23 1 16 1 11 1-15 1 0 1 43 1-14 1-53 1-5 1-3 1-7 1-15 1 29 1-33 1 55 1 60 1-46 1-2 1-18 1-12 1 6 1 21 1 4 1-46 1 24 1-35 1 44 1-20 1-37 1 48 1-49 1-3 1-5 1-47 1 90 1-55 1 45 1 10 1 22 1 0 1 11 1 38 1-15 1-66 1-4 1-5 1 72 1 5 1-30 1-40 1 0 1 7 1 46 1-37 1-3 1 24 1-24 1-32 1 8 1 40 1-3 1 41 1 66 1-61 1-42 1-44 1 56 1-20 1-21 1-41 1 22 1-74 1 97 1-10 1 56 1 5 1-36 1 23 1-6 1-47 1 62 1-42 1-3 1-28 1-30 1-42 1 101 1-8 1 52 1-39 1 48 1-68 1 6 1-14 1 10 1-35 1-17 1 55 1 27 1-5 1-109 1-2 1 21 1 61 1 39 1-16 1-7 1-56 1 109 1-26 1 41 1-82 1 55 1 44 1-53 1-51 1-26 1 22 1 15 1 11 1 20 1 27 1-62 1-17 1 51 1-7 1 27 1-21 1-3 1 11 1 47 1-65 1-64 1 4 1 27 1 69 1-9 1 10 1 39 1-71 1 55 1-43 1-54 1 38 1 28 1 23 1-2 1 13 1 6 1-139 1 34 1 33 1 64 1-11 1-19 1-62 1-72 1 68 1 7 1 5 1-32 1 32 1 32 1-67 1 33 1 25 1 19 1 9 1-52 1-14 1-1 1 10 1 44 1-30 1-11 1 150 1-57 1-21 1 5 1-35 1 22 1-33 1-6 1-52 1 42 1-8 1 5 1 20 1 12 1 87 1-64 1 47 1-49 1-68 1 29 1 34 1-22 1-91 1 10 1-29 1 77 1 65 1-13 1-26 1-18 1-8 1-33 1-20 1 66 1 23 1 73 1-60 1-59 1-99 1 170 1-1 1 46 1-54 1 11 1-9 1-46 1 9 1-73 1 16 1 70 1-42 1 50 1-31 1 37 1-42 1 83 1-31 1-23 1-51 1-65 1-13 1 31 1 47 1 30 1-76 1 204 1-32 1-45 1-54 1-18 1 41 1-57 1 64 1-41 1 6 1 4 1 23 1-6 1 50 1-66 1-31 1-29 1 48 1 30 1-97 1 27 1-13 1 92 1-55 1-12 1 8 1-46 1 69 1-73 1 21 1-23 1 30 1 18 1 62 1 45 1-45 1-25 1-34 1 81 1 4 1 1 1 5 1 4 1-95 1-60 1 12 1 4 1-9 1-15 1-14 1 40 1 104 1 69 1 7 1-48 1-38 1-74 1-124 1 236 1 50 1-32 1 130 1-94 1 59 1-61 1-79 1-31 1-66 1 40 1-16 1 99 1-165 1-12 1-4 1 78 1 10 1 105 1 77 1 101 1-227 1-124 1 131 1-13 1 57 1 65 1-57 1-162 1-24 1 13 1 129 1-79 1-17 1 10 1-53 1 364 1-515 1 175 1 85 1 95 1 89 1-71 1-14 1-127 1 46 1 110 1 98 1-105 1-127 1 60 1 73 1-22 1 63 1 3 1-46 1-101 1-101 1 49 1-58 1 21 1 107 1-32 1 50 1 104 1 108 1-136 1-65 1-20 1-22 1-184 1-168 1 152 1 120 1 17 1 16 1 66 1 33 1-45 1 19 1 1 1-109 1-187 1 86 1 70 1 58 1 54 1-25 1-12 1-35 1 73 1-21 1-6 1-13 1-50 1-81 1 78 1-7 1-20 1 76 1 38 1-9 1 152 1 247 1-251 1-77 1-107 1-59 1 3 1-9 1 3 1-84 1 102 1 107 1-18 1 44 1-47 1 32 1-106 1-101 1 117 1 37 1-20 1 53 1-14 1 230 1-257 1 21 1 5 1 30 1 0 1-45 1-225 1-252 1 266 1 209 1-72 1 35 1 5 1-36 1 33 1 59 1 21 1 24 1-12 1-29 1-82 1-67 1 11 1-21 1-2 1 15 1 107 1 45 1 10 1-23 1-30 1 43 1 48 1 21 1-117 1-15 1-1 1 77 1-17 1 128 1 81 1-76 1-213 1-7 1-2 1 5 1-53 1-1 1 41 1 46 1 88 1 27 1-49 1-1 1-17 1-53 1-10 1 66 1-10 1 31 1-10 1-28 1 31 1-43 1-48 1-84 1 8 1 30 1 57 1-38 1 165 1 180 1-99 1-72 1 66 1 9 1-219 1-184 1 163 1 62 1 10 1 23 1 4 1-3 1 19 1 1 1-30 1-55 1-235 1 171 1 116 1-112 1 38 1 35 1 69 1 80 1-12 1 2 1-34 1-18 1 66 1-5 1-39 1-63 1 67 1-206 1-109 1 209 1 38 1-17 1-150 1-345 1 281 1 244 1-8 1 75 1 44 1-38 1-72 1 22 1-26 1-35 1-15 1 9 1-30 1-159 1-194 1 210 1 149 1 39 1 9 1 57 1-142 1 98 1-108 1-162 1 112 1 84 1 18 1-11 1 50 1-28 1-34 1-12"/>
<path vector-effect="non-scaling-stroke" stroke="#7E2F8E" d="M0 790l1 45 1-24 1-78 1 24 1 41 1 38 1-21 1-85 1-13 1 12 1-125 1 111 1 107 1-11 1-10 1-47 1-25 1-27 1-33 1 139 1 48 1 9 1 16 1-45 1 28 1-91 1-49 1-61 1 21 1 40 1 53 1 52 1-5 1-36 1-34 1-43 1 79 1-17 1 54 1 18 1 1 1-11 1-57 1-8 1 64 1 4 1-40 1 0 1 26 1-36 1-13 1-18 1 17 1 27 1 35 1 14 1 3 1-54 1 19 1-25 1 22 1-27 1 20 1-12 1-36 1 24 1 26 1 30 1-32 1-43 1-12 1 26 1 83 1 81 1-36 1-47 1-62 1-33 1-15 1 60 1 16 1-19 1-29 1 29 1-50 1-32 1 168 1-109 1 33 1-18 1 63 1-10 1 27 1-28 1 17 1 34 1-86 1-15 1-26 1 66 1 14 1-88 1 62 1-56 1 142 1 19 1-85 1-40 1-31 1-26 1 45 1 40 1-18 1 0 1-1 1-20 1 57 1-10 1-46 1-55 1 14 1-5 1 30 1 2 1 80 1-1 1 68 1-59 1-35 1-56 1-10 1-22 1 22 1 54 1 86 1-35 1-43 1-39 1-13 1 13 1-7 1 11 1 13 1-42 1 48 1-2 1-41 1-25 1 94 1 9 1-7 1 6 1 146 1-85 1-76 1 31 1-195 1 288 1-94 1 40 1-81 1 46 1-51 1-20 1-37 1-22 1 46 1 5 1-63 1 33 1-65 1 86 1 74 1 171 1-400 1 112 1 46 1 1 1 57 1-107 1-55 1 24 1 105 1 73 1-24 1 37 1-119 1-22 1-1 1 29 1 58 1-46 1 123 1 120 1-173 1-153 1 26 1 47 1 3 1 162 1-9 1 35 1-98 1-85 1 66 1 3 1-47 1 36 1-44 1 47 1-10 1-11 1 19 1 1 1-42 1 38 1 15 1 33 1-160 1 47 1-75 1 40 1 86 1 20 1 39 1-68 1-86 1-18 1-90 1 97 1-39 1 70 1 112 1-33 1-7 1 76 1-62 1 22 1-34 1 45 1-84 1 29 1-35 1 0 1 8 1-23 1 36 1-33 1-5 1 27 1-20 1-22 1 23 1-42 1-17 1 84 1 73 1-19 1-25 1-47 1 65 1 31 1-1 1-30 1-47 1-47 1 47 1-61 1 64 1 23 1 16 1 115 1-110 1-6 1 13 1 39 1-139 1 146 1-34 1-33 1-6 1 30 1-28 1-12 1-23 1 10 1-13 1-25 1 82 1-33 1 43 1-20 1 5 1 39 1-57 1-12 1 45 1-56 1-45 1 12 1-35 1 60 1-4 1 20 1 21 1-45 1 145 1-159 1-43 1 22 1 2 1 12 1-31 1 46 1-27 1 39 1-8 1-10 1-25 1 74 1 52 1-11 1-29 1-33 1-2 1-144 1-188 1 173 1 128 1 27 1 11 1 4 1-30 1 23 1-1 1 55 1-62 1-19 1 19 1-46 1 59 1 42 1-119 1 78 1-22 1 6 1-4 1 83 1-70 1 26 1-24 1-8 1 53 1-22 1 55 1-51 1 10 1-34 1-25 1 174 1-104 1 11 1-30 1-22 1-61 1 78 1 20 1-60 1-86 1 66 1-24 1 26 1 1 1-135 1 69 1 22 1 21 1 7 1-58 1 49 1 38 1 77 1-21 1-42 1-17 1 31 1 20 1-13 1-26 1-32 1 49 1 86 1-78 1-29 1 21 1 10 1 66 1-35 1-44 1-12 1-61 1 17 1 93 1 45 1-66 1 54 1 6 1 6 1-22 1-27 1 6 1 28 1-36 1-50 1 23 1-20 1-66 1 23 1-13 1-7 1-44 1 1 1 77 1-48 1 3 1 0 1 53 1 58 1 10 1-99 1 20 1 46 1 30 1 22 1 3 1-22 1 43 1-11 1-23 1-9 1-72 1 14 1-33 1 7 1 129 1-21 1-33 1-103 1-114 1 122 1 180 1 19 1-36 1-103 1 58 1-83 1-12 1-23 1 44 1-27 1-7 1 126 1-48 1 44 1 14 1-10 1-31 1-10 1 40 1-50 1-15 1-67 1-16 1 117 1-51 1 2 1-82 1 29 1 45 1 71 1-62 1 35 1-21 1 34 1-5 1-29 1 30 1 23 1-10 1 24 1-18 1-3 1-120 1-62 1 66 1 97 1 26 1 11 1-29 1-42 1 33 1-109 1 26 1-36 1-29 1 122 1 81 1 24 1-81 1-60 1-7 1 16 1-26 1 29 1 122 1-74 1 49 1-62 1-67 1 26 1 81 1 40 1 17 1-16 1-43 1-24 1-30 1 13 1 41 1-17 1 6 1-52 1 28 1-30 1 13 1-25 1 19 1-10 1-6 1 18 1-1 1-34 1-3 1-1 1 54 1-15 1-4 1 4 1 7 1 69 1 23 1-19 1-39 1-29 1 33 1-32 1-7 1 4 1-13 1 16 1-82 1-34 1 42 1 82 1 31 1-24 1 41 1 22 1-16 1-2 1 117 1-107 1-109 1 28 1 189 1-80 1-18 1-19 1-64 1-38 1-1 1 50 1 75 1-73 1 90 1-170 1 31 1 10 1 81 1 2 1-52 1-62 1 71 1-55 1 75 1-15 1 13 1 44 1-60 1 3 1-26 1 11 1 19 1-65 1-17 1 32 1 46 1 18 1-42 1-31 1 35 1 4 1-130 1 92 1 75 1-32 1 46 1-38 1-30 1 36 1-40 1 85 1-57 1 54 1-73 1-45 1 45 1 5 1 12 1-66 1-17 1 9 1 84 1 42 1-48 1 52 1-80 1-29 1 38 1 38 1-61 1 78 1-51 1 81 1-4 1-21 1-23 1-42 1-38 1-59 1 74 1-8 1-15 1 34 1-54 1 19 1 64 1 18 1-5 1-2 1 25 1 7 1 37 1-24 1-59 1-7 1-27 1 50 1-114 1 49 1 50 1 4 1 53 1 38 1-31 1-22 1-62 1-27 1 51 1-82 1 60 1-4 1-3 1 45 1-44 1 97 1-73 1 6 1 52 1-51 1-31 1 20 1-30 1 5 1 73 1-109 1-146 1 125 1 37 1-7 1 40 1-35 1 45 1-2 1 74 1-19 1-50 1-91 1 17 1 85 1 5 1-5 1 3 1-20 1-109 1 156 1 15 1-69 1-33 1 21 1-55 1 17 1-35 1 27 1 25 1 55 1 56 1-11 1 7 1-4 1-12 1 8 1-16 1-72 1-19 1-8 1-21 1 160 1-68 1 34 1 9 1-3 1 5 1-76 1 39 1-20 1 3 1-5 1-27 1 41 1-46 1 34 1 62 1-26 1 21 1-52 1-99 1 20 1 5 1 69 1 35 1 12 1 2 1 32 1-11 1-91 1-5 1-7 1-6 1-12 1 72 1-38 1 21 1-13 1-18 1 1 1 77 1-16 1 3 1 0 1 1 1-22 1-36 1-7 1 42 1-3 1 9 1-28 1-8 1 45 1 70 1-8 1 12 1-34 1-18 1-52 1-8 1 54 1 7 1 35 1-70 1-25 1-30 1 18 1 23 1 55 1 9 1 163 1-239 1 29 1-85 1 74 1-5 1 22 1-129 1 41 1 22 1 9 1 15 1 42 1 52 1 20 1-15 1-56 1-7 1-20 1-13 1 4 1-22 1-26 1-2 1 29 1 42 1-46 1 28 1 29 1-54 1 63 1-14 1-41 1-18 1 9 1-37 1 67 1-58 1-4 1-106 1-8 1 281 1-14 1 0 1-51 1 0 1-39 1-1 1 30 1-2 1-88 1 18 1 28 1 18 1 16 1-3 1-14 1-24 1 7 1-55 1 68 1-18 1 4 1 48 1 49 1-31 1-29 1-23 1-16 1 56 1-39 1-16 1 143 1-146 1 85 1-5 1-44 1 17 1-15 1-23 1 81 1-68 1-26 1 21 1-56 1 10 1 6 1 7 1-110 1 79 1-8 1 165 1-83 1 36 1-76 1-59 1-21 1 45 1 37 1-5 1 46 1 38 1 5 1-2 1-53 1 26 1-39 1 131 1-86 1-36 1 36 1 55 1-63 1 43 1-5 1-51 1-5 1 41 1 9 1-36 1-76 1-20 1 16 1 15 1-14 1 71 1-5 1-25 1 14 1 1 1-4 1 24 1 9 1-18 1-24 1 36 1-25 1 14 1-15 1 37 1-48 1-12 1-21 1-46 1-36 1 67 1 19 1 73 1-60 1 61 1-82 1 20 1-80 1 29 1 70 1-57 1 55 1 5 1 33 1-26 1-8 1 16 1-31 1 18 1-17 1-3 1 18 1 29 1 28 1-3 1-152 1 124 1 41 1 79 1 60 1-105 1-28 1-103 1 86 1 5 1 75 1 108 1-28 1-123 1-51 1 42 1-59 1-162 1 71 1 84 1 89 1 83 1-73 1-2 1-102 1-46 1-41 1-80 1 81 1 11 1 193 1 32 1 1 1 42 1-54 1-26 1 20 1-9 1-31 1 59 1-211 1-53 1-7 1-101 1-32 1-78 1 183 1 236 1 40 1-56 1-82 1-4 1-92 1 69 1 133 1-166 1-89 1-34 1 150 1 34 1 126 1 205 1-185 1-145 1 40 1-9 1 32 1 6 1-68 1-37 1 18 1 112 1 188 1-295 1 47 1-37 1 49 1-17 1-98 1-189 1 166 1 100 1 107 1 54 1-4 1-86 1-15 1-131 1 113 1 10 1-49 1-98 1 12 1-31 1-36 1 50 1 85 1 98 1 50 1-13 1-14 1-60 1-57 1-24 1-95 1-1 1 5 1 96 1 21 1 148 1 73 1-73 1-93 1-76 1-97 1 34 1-62 1 85 1 7 1-70 1 108 1 105 1-12 1-60 1 41 1 44 1 40 1-76 1-45 1 7 1 36 1-78 1 83 1 8 1-54 1-43 1 0 1-5 1-165 1-246 1 223 1 185 1 63 1 53 1-48 1-19 1 22 1-16 1 38 1 38 1 36 1-24 1 17 1-234 1-18 1-79 1 75 1 122 1 178 1-131 1-29 1 55 1 27 1 5 1 5 1-89 1 244 1-215 1-21 1-55 1 106 1 91 1 146 1-157 1 92 1-255 1 118 1 128 1-128 1-98 1 3 1-63 1 59 1 97 1 3 1-99 1-9 1 25 1 94 1 47 1 19 1-17 1-1 1 70 1-259 1-95 1 47 1-34 1-10 1 17 1 34 1 35 1 212 1-139 1-188 1 226 1-4 1 25 1 22 1-55 1-96 1-1 1-79 1 29 1 40 1-237 1 245 1 152 1-59 1 42 1-121 1-14 1 52 1 66 1-186 1 123 1-21 1 4 1-54 1 93 1 4 1 100 1 85 1-145 1-49 1-74 1 11 1-39 1 9 1 58 1-102 1 94 1-51 1 72 1-69 1 50 1 27 1-15 1 58 1 50 1 25 1-45 1 6 1-140 1-298 1 299 1-121 1 22 1 89 1 57 1-123 1-228 1 239 1 177 1 73 1-37 1 11 1-152 1-178 1 168 1 15 1-2 1 26 1-14 1-92 1-32 1 25"/>
<path vector-effect="non-scaling-stroke" stroke="#77AC30" d="M0 821l1 63 1-34 1 1 1-70 1 1 1 19 1 41 1 14 1 37 1-20 1 21 1-38 1-73 1 22 1 32 1-13 1 59 1 58 1-54 1-44 1 0 1-10 1 32 1-44 1-13 1-45 1 14 1 76 1-17 1-29 1 41 1-26 1 34 1 23 1 79 1-95 1-6 1-32 1 40 1-21 1-54 1 40 1-37 1-33 1 15 1-67 1 21 1 42 1 49 1 35 1 18 1-32 1-11 1-5 1-5 1 12 1-46 1 16 1 48 1-25 1 21 1-1 1 8 1-10 1-11 1 1 1-9 1-78 1 21 1-12 1-28 1 27 1 57 1 78 1 1 1 10 1-21 1-15 1-34 1-22 1-26 1-1 1-6 1 22 1 39 1-65 1-37 1 40 1 26 1-3 1 32 1 15 1-36 1 21 1-14 1 59 1-12 1 46 1-1 1-12 1-23 1 10 1 22 1-25 1-37 1-27 1-124 1 89 1 17 1 22 1 16 1-2 1-45 1 23 1-30 1 64 1-31 1 3 1-66 1 6 1 8 1 8 1 55 1 15 1-4 1 60 1-76 1-31 1-33 1 1 1 3 1 4 1 21 1 26 1-12 1 7 1-48 1 104 1-15 1 0 1-64 1-72 1 49 1 49 1 70 1-55 1-23 1-12 1-23 1 20 1-4 1 19 1 22 1 7 1-39 1 7 1-4 1-88 1 22 1-15 1 66 1-3 1 11 1 61 1-6 1-17 1-58 1 43 1 37 1-1 1 59 1-36 1-55 1 35 1 20 1 14 1 32 1-83 1 82 1-100 1 4 1 53 1-40 1-35 1 15 1-3 1 47 1-80 1 10 1-2 1 28 1 115 1-54 1-135 1-10 1 6 1 43 1-8 1 36 1-26 1 21 1 59 1 17 1-29 1-59 1 28 1 19 1 57 1 48 1-121 1-33 1-11 1 3 1-16 1 155 1-77 1-46 1 7 1 12 1 28 1-8 1-55 1 26 1 1 1-36 1 9 1 166 1-22 1-35 1-55 1-25 1 16 1 93 1-24 1 12 1-148 1 75 1 81 1-115 1-14 1-21 1 46 1 24 1-52 1 53 1-87 1-1 1-19 1 132 1-14 1 36 1-7 1 66 1-57 1-67 1 1 1 74 1 23 1-17 1-42 1-54 1 23 1 12 1 21 1 20 1-80 1 0 1-43 1-18 1 19 1-11 1 74 1 59 1-144 1 113 1 7 1-17 1-14 1 15 1-54 1 25 1-7 1-42 1 63 1-25 1 31 1-41 1 18 1 4 1 18 1 33 1 47 1-2 1-40 1-31 1-10 1 5 1-52 1 25 1 26 1 27 1-33 1-26 1-8 1 24 1 59 1-39 1 4 1-88 1 45 1 0 1-37 1 43 1-46 1 36 1 72 1-52 1 49 1-71 1 0 1 0 1-9 1 35 1 7 1-5 1 7 1 64 1-81 1 25 1 2 1-68 1 128 1-79 1 14 1-47 1 15 1 1 1 55 1 27 1 21 1 40 1-112 1 28 1-23 1-25 1 11 1-38 1 39 1-18 1 6 1 49 1-6 1-65 1-27 1 23 1 45 1-123 1 124 1-6 1-191 1 104 1-50 1 21 1 22 1 53 1 42 1 29 1 23 1-4 1-42 1 17 1-25 1 18 1 22 1-13 1-8 1-1 1-16 1-47 1-61 1-43 1-25 1 104 1-28 1 65 1 82 1 7 1 4 1-5 1-16 1-2 1 26 1 3 1-37 1-3 1-1 1-42 1-13 1 55 1-20 1 28 1-74 1-11 1 5 1 21 1-4 1-17 1 119 1-44 1 68 1-98 1 17 1-25 1-4 1-56 1-14 1 66 1 66 1 21 1-31 1-4 1-102 1-77 1 18 1-5 1 72 1 44 1 2 1 18 1-7 1-2 1-7 1-37 1 13 1-2 1 91 1 27 1-23 1-48 1 28 1-16 1-7 1-13 1 11 1-55 1-7 1-14 1 2 1 39 1-2 1 24 1-32 1 52 1-65 1 98 1-20 1 15 1-52 1-1 1 17 1-12 1 6 1-6 1-9 1-67 1 41 1 5 1 44 1-15 1 31 1 5 1-26 1 29 1-39 1 52 1-8 1-24 1-29 1-151 1 129 1 42 1-16 1 23 1-60 1 30 1 54 1-16 1-21 1-34 1-12 1-25 1-2 1 13 1-60 1 70 1 72 1-78 1 48 1 26 1-31 1 87 1-91 1 39 1-75 1 22 1-18 1 48 1-11 1 32 1-29 1 7 1-14 1 55 1 11 1-36 1-36 1-59 1-7 1 28 1 55 1 9 1 10 1-12 1 15 1 33 1 17 1-117 1 34 1 26 1-8 1-19 1 48 1-61 1 21 1-21 1 31 1-1 1-74 1 19 1-53 1 51 1-4 1-23 1 67 1-29 1 42 1-5 1-15 1 43 1 5 1 29 1-3 1-1 1-28 1 0 1-22 1 15 1-17 1 12 1 38 1-22 1-61 1 63 1-17 1 20 1-80 1 0 1 46 1 56 1 4 1-61 1 15 1-33 1-14 1-39 1 6 1 35 1 23 1-2 1-38 1-2 1 15 1 9 1-49 1-33 1 29 1 38 1 47 1 5 1 141 1-155 1 0 1-57 1 0 1 12 1 13 1 38 1 47 1-72 1-22 1-39 1 11 1 32 1 68 1-4 1-31 1 65 1 9 1-7 1-92 1-70 1 30 1 13 1 38 1 43 1 69 1-40 1 120 1-159 1-50 1-14 1 27 1-10 1-27 1 19 1-15 1 9 1 29 1 52 1-47 1-62 1 50 1 113 1 37 1-3 1-123 1 10 1-19 1-44 1 26 1 103 1 0 1-80 1 14 1-28 1 94 1-85 1-15 1 67 1 5 1 19 1-27 1 20 1-118 1 41 1 26 1-22 1 106 1-83 1-37 1-9 1-21 1 10 1-31 1 19 1-74 1 39 1 32 1 30 1 33 1 29 1-50 1-3 1-2 1 18 1 0 1-60 1 61 1-67 1 64 1 30 1 25 1 13 1-43 1-40 1 12 1 12 1 53 1 10 1-69 1-38 1-12 1-17 1 47 1-8 1-8 1 50 1 45 1-46 1-35 1 38 1-2 1-17 1 12 1-8 1-36 1 9 1 58 1-6 1 28 1-2 1-25 1-47 1-10 1-77 1-34 1-9 1 43 1 51 1 111 1-27 1-6 1-53 1-47 1-28 1 3 1 25 1 39 1 82 1 5 1 27 1 12 1-50 1 21 1-37 1-62 1-1 1 70 1 40 1-12 1-18 1-36 1 16 1 16 1-68 1 32 1-23 1 2 1 104 1-12 1-37 1-23 1-17 1 9 1 59 1-57 1 30 1-1 1-26 1 16 1-35 1 54 1-44 1-4 1 30 1 25 1-7 1 0 1-20 1-43 1-153 1 205 1 7 1 52 1-20 1-122 1 100 1-54 1-19 1 6 1 16 1 36 1 42 1-45 1-6 1-88 1-3 1 16 1 48 1 21 1-12 1 34 1-10 1-108 1 8 1 26 1 7 1 49 1-22 1-35 1-30 1 50 1 45 1-38 1 8 1-57 1 68 1 35 1 10 1-21 1 39 1-61 1 63 1-79 1-7 1 23 1 72 1 4 1-21 1-44 1-1 1-13 1 43 1-49 1-17 1 82 1-40 1 38 1-65 1 2 1-34 1 125 1-37 1-24 1-12 1-138 1 150 1 14 1-10 1-14 1-28 1-40 1-9 1 67 1-66 1 83 1-33 1-11 1 66 1 10 1 51 1-70 1-53 1 9 1 41 1-60 1 26 1-57 1 55 1 8 1-7 1 36 1-37 1-9 1 38 1-41 1 21 1-16 1 43 1 34 1-24 1-6 1 41 1-14 1 13 1-95 1-57 1 37 1-27 1 23 1 9 1 73 1-14 1-14 1 12 1 4 1 4 1-68 1 67 1-13 1 3 1 11 1-23 1 52 1-94 1 14 1-2 1-17 1 18 1 42 1 27 1 4 1-88 1-10 1-6 1 7 1 41 1 62 1 21 1-33 1 42 1-24 1-27 1-11 1 3 1-42 1-45 1-26 1-40 1 39 1 34 1 98 1-29 1 8 1-44 1 0 1 17 1-88 1 56 1-19 1 106 1-30 1 12 1 18 1-18 1-20 1-6 1-1 1-19 1 8 1 0 1 17 1-1 1-12 1 2 1-79 1 44 1 2 1 102 1-48 1 8 1 5 1 18 1 4 1-38 1-76 1-30 1 22 1 36 1 20 1 60 1-16 1 36 1-42 1 0 1-34 1 48 1 63 1-36 1-38 1-52 1-10 1-29 1 57 1-42 1-5 1-20 1 55 1 95 1 128 1-52 1-82 1-151 1 22 1 34 1 166 1 32 1 128 1-14 1-144 1-266 1 77 1-5 1-3 1-104 1-169 1 97 1 96 1 31 1-41 1 35 1-51 1 90 1 80 1 57 1 187 1-149 1-43 1-2 1-30 1-23 1-35 1-36 1-99 1-143 1 236 1 67 1-12 1 17 1-74 1 316 1-132 1-58 1-90 1 12 1-115 1 225 1-61 1 3 1 69 1 98 1-188 1 1 1-100 1 207 1-10 1-60 1-46 1-72 1 13 1 99 1-16 1-56 1 46 1-30 1 26 1 3 1-21 1-56 1 21 1-23 1 29 1 40 1 0 1-26 1 7 1 0 1 47 1-156 1 209 1 6 1 4 1 2 1-32 1-147 1 81 1-64 1-117 1 46 1 35 1 38 1 25 1 73 1 97 1 7 1-81 1-70 1-73 1-21 1-22 1 86 1 73 1-33 1-84 1 143 1 287 1-127 1-264 1 138 1-59 1-59 1-175 1 80 1 34 1-31 1 100 1-101 1 116 1-46 1 41 1 1 1-23 1-51 1-126 1 114 1 124 1 31 1 182 1 205 1-283 1-149 1 80 1-54 1-20 1-9 1 22 1-40 1 25 1-59 1 14 1 76 1 2 1-45 1 558 1-490 1 117 1 98 1-88 1-138 1-135 1-130 1-160 1 99 1 42 1 2 1 103 1 101 1 250 1-123 1-36 1-18 1-50 1 47 1-50 1-74 1 15 1 40 1-1 1 78 1 44 1 135 1-153 1-70 1 37 1-38 1-35 1 143 1-165 1-67 1 7 1 23 1-37 1-1 1 82 1 35 1 31 1 90 1-15 1-38 1 91 1 2 1 106 1-261 1-36 1-67 1 19 1-4 1-61 1 68 1 163 1-158 1-58 1 148 1 1 1 128 1-72 1 12 1-59 1-70 1-122 1 75 1 37 1-226 1 159 1 188 1 2 1 30 1-231 1-23 1 186 1 126 1-97 1-53 1-66 1 44 1 62 1 13 1-16 1 12 1-31 1 49 1-61 1 12 1-7 1-134 1-48 1-55 1 59 1 43 1-81 1-155 1 253 1 83 1-44 1 53 1 105 1-1 1 60 1-31 1-133 1-324 1 121 1 128 1-61 1 28 1 28 1 52 1 76 1-41 1-2 1-20 1 6 1 17 1-34 1-49 1 79 1-75 1 43 1 30 1 118 1-99 1 17 1-95 1-42"/>
<path vector-effect="non-scaling-stroke" stroke="#4DBEEE" d="M0 975l1 225 1-247 1-128 1-15 1-3 1-15 1 50 1-81 1 53 1 23 1 36 1-17 1-74 1 4 1-15 1 33 1 19 1 14 1 26 1-60 1-47 1-20 1 43 1 32 1 52 1-16 1 39 1-26 1-52 1 16 1 1 1-15 1-1 1-15 1 3 1 0 1-128 1 75 1 39 1 0 1-25 1 20 1 107 1-103 1-44 1 16 1 9 1 26 1 11 1 35 1-23 1 91 1-19 1 13 1-85 1 84 1-13 1 2 1-16 1 5 1 17 1-25 1 72 1-88 1-26 1-26 1 68 1-2 1-3 1-57 1 13 1-4 1-13 1 4 1-49 1 74 1-51 1-38 1 8 1 2 1 63 1-12 1-129 1 108 1 23 1 13 1-14 1 34 1-23 1 14 1-25 1 39 1-21 1 47 1-11 1 29 1-34 1 18 1-30 1-12 1-63 1-3 1-20 1 25 1 10 1 7 1 0 1 54 1 0 1-13 1 17 1 22 1-50 1 10 1-52 1-18 1 77 1 25 1 0 1-35 1-14 1-17 1 13 1 7 1 166 1-82 1-18 1 6 1-29 1 23 1-133 1 11 1 131 1-2 1 2 1-64 1-12 1-50 1-4 1 66 1 21 1 8 1-55 1 34 1-11 1 75 1-10 1-19 1-34 1-19 1 30 1-4 1-4 1-84 1 60 1-25 1-10 1 72 1 64 1-32 1-34 1-29 1 2 1-32 1 1 1 26 1-19 1 18 1 43 1-47 1 9 1 36 1 8 1 33 1 59 1-81 1-20 1-33 1-1 1-57 1 52 1-5 1 28 1-65 1-21 1 39 1 68 1 56 1 1 1-64 1-82 1 10 1-6 1 43 1-7 1-10 1 31 1-13 1 98 1-30 1-45 1-16 1-69 1-7 1 46 1 40 1 26 1-67 1 38 1 21 1 22 1 10 1 26 1-63 1-77 1-2 1-5 1 87 1-4 1 51 1-103 1 22 1-16 1 73 1 2 1 32 1-45 1-27 1-79 1-12 1 51 1-7 1 12 1 11 1-36 1 1 1 63 1 58 1 33 1-54 1-34 1-81 1 100 1 34 1-53 1-60 1 48 1-53 1 57 1-26 1 28 1-36 1 39 1-15 1 12 1-40 1-7 1 21 1-51 1 32 1 15 1-20 1 28 1-25 1 100 1-124 1 30 1 38 1 1 1 25 1-66 1 21 1-12 1 55 1-5 1 46 1 11 1-33 1-45 1 16 1-40 1-52 1-9 1-9 1 16 1-11 1 29 1 14 1 30 1-30 1 21 1-24 1 13 1 28 1 43 1-43 1 10 1 94 1-33 1 30 1 1 1 0 1-57 1-48 1-70 1-15 1 44 1 47 1-21 1 0 1-9 1 3 1-6 1-54 1 61 1 21 1-8 1-15 1 48 1-1 1 18 1-156 1 40 1 32 1 44 1 39 1-20 1-5 1-4 1-38 1 13 1-11 1-20 1-10 1 13 1 41 1-31 1-16 1-9 1 6 1 3 1 39 1-11 1 1 1 121 1-52 1-24 1-60 1-38 1 17 1 28 1 44 1-10 1 7 1 28 1-23 1 37 1-67 1-19 1-31 1 38 1-10 1 8 1-27 1 48 1 14 1 24 1-52 1 5 1-2 1 29 1-11 1-5 1 33 1-21 1-1 1-13 1-56 1 84 1-48 1 80 1-65 1-75 1-23 1 104 1-64 1-2 1 19 1 13 1 69 1-29 1 1 1 27 1-32 1 89 1-99 1 81 1-44 1 68 1-67 1 24 1-34 1-2 1-57 1 75 1-25 1 1 1-5 1-45 1 9 1-25 1 67 1-47 1-9 1-67 1 31 1 77 1 42 1 49 1-59 1-19 1-24 1 66 1-17 1-30 1-43 1-78 1 36 1 63 1 76 1-6 1 3 1-40 1-4 1-37 1-10 1 40 1-10 1 13 1-20 1-39 1 19 1-3 1 72 1-4 1 30 1-38 1-47 1 28 1-87 1 43 1 67 1 43 1-130 1 51 1 11 1-61 1 23 1-98 1 42 1 35 1 27 1 43 1 14 1-58 1-49 1 116 1-50 1-10 1 7 1-53 1 6 1-33 1 97 1 4 1 36 1-9 1-21 1 7 1-30 1-39 1-7 1-5 1 28 1-8 1 47 1-29 1 28 1 37 1 64 1 15 1-16 1-78 1-45 1-117 1-74 1 111 1 97 1-9 1 46 1-6 1-23 1 20 1-22 1-1 1-14 1 45 1-27 1-19 1-22 1 0 1-14 1 10 1 48 1 8 1 1 1 3 1 29 1-83 1-10 1-69 1 36 1-13 1 38 1-26 1 48 1 21 1-1 1-4 1-27 1-17 1 29 1 67 1-105 1 27 1-18 1 9 1-32 1 46 1-43 1 41 1 20 1 11 1-22 1 27 1-91 1 89 1 3 1 3 1-7 1-45 1-13 1 3 1 58 1 31 1-6 1-38 1-21 1-7 1 27 1-18 1 15 1 57 1 3 1 11 1-39 1 15 1 9 1-5 1-11 1-34 1 13 1-28 1-13 1 9 1-4 1-34 1 41 1 17 1 49 1 6 1-22 1-30 1-27 1 20 1 21 1 57 1-47 1 55 1 2 1-72 1-40 1 20 1 55 1 55 1-60 1-30 1 16 1-19 1 47 1 18 1-24 1-31 1-39 1 23 1-16 1-24 1 24 1-17 1 34 1-3 1-4 1 4 1-52 1 123 1 12 1-67 1 2 1-8 1 40 1-13 1-34 1-24 1-107 1 157 1 4 1 31 1-8 1 114 1-193 1 77 1-40 1-56 1-19 1 94 1-73 1 45 1 12 1-7 1 79 1-112 1-66 1 18 1 66 1 35 1 43 1-8 1-23 1 18 1-30 1-15 1 3 1-9 1-24 1-6 1 49 1-44 1 20 1 0 1 27 1 38 1-37 1-48 1 5 1 44 1-40 1-1 1-73 1 62 1 20 1-16 1-21 1-23 1 26 1 19 1 15 1-18 1 24 1 28 1 11 1 13 1-65 1-31 1 22 1 31 1-16 1-22 1 2 1-21 1 23 1 28 1 15 1-3 1 57 1-21 1 5 1-4 1-56 1 18 1-38 1-76 1 19 1 18 1 27 1 24 1-9 1-29 1 6 1-10 1 54 1 15 1 17 1-38 1-20 1-12 1 95 1-57 1 25 1-22 1 4 1 41 1-84 1-45 1 34 1 106 1-44 1-31 1-3 1 11 1-21 1 60 1-32 1 48 1-42 1-23 1-67 1-19 1 39 1-25 1 52 1-52 1 12 1-8 1 22 1 16 1 46 1-16 1 30 1-8 1 2 1-23 1-58 1 1 1 46 1 15 1 33 1-13 1 20 1-8 1 18 1 10 1-2 1-43 1-37 1-57 1 1 1 36 1 16 1 39 1-46 1 12 1-21 1 36 1 32 1 58 1-32 1 4 1 23 1 24 1 24 1-34 1-77 1 20 1-54 1-4 1 9 1 16 1 25 1-7 1 10 1-25 1 11 1-71 1 65 1-59 1 88 1-8 1 24 1 5 1 6 1 0 1-30 1-49 1 5 1 59 1-5 1 31 1 10 1-48 1-50 1 39 1-51 1 14 1 31 1 46 1-13 1 17 1-24 1-42 1 28 1 58 1-33 1 6 1-18 1 12 1 1 1-51 1 52 1-12 1 44 1 14 1-102 1 24 1-92 1 37 1-31 1-29 1 33 1 61 1 13 1 22 1-79 1 4 1 9 1 11 1-8 1-7 1-3 1-10 1-23 1 24 1 35 1 29 1-6 1 19 1-6 1 11 1-20 1-5 1 8 1 36 1-26 1 60 1 9 1-6 1-40 1 52 1-30 1-22 1-43 1-36 1 55 1-5 1-12 1-18 1-42 1 39 1 64 1 50 1-91 1-31 1-19 1-23 1 54 1 57 1-28 1 28 1-2 1-1 1-82 1-26 1 2 1-20 1 23 1 48 1-67 1 100 1 23 1-16 1-43 1 148 1-122 1-67 1 4 1 29 1 55 1 21 1-31 1 14 1-11 1-64 1 13 1 12 1-28 1 51 1 25 1-40 1 50 1-29 1 39 1-34 1-60 1-5 1 18 1 1 1 23 1 17 1 64 1-29 1-57 1-34 1 28 1 22 1-35 1 4 1 12 1-14 1 8 1 5 1-19 1-12 1-14 1 47 1 42 1 25 1-36 1 12 1-28 1 27 1 34 1-19 1 90 1-98 1 43 1-69 1-4 1 0 1-17 1 9 1-35 1-58 1 5 1 21 1 26 1-4 1 3 1-7 1-41 1 64 1 10 1 58 1-3 1 40 1-1 1-27 1 24 1-85 1-41 1 66 1 15 1-37 1-84 1-96 1 155 1 64 1 99 1-124 1-60 1 182 1 33 1-346 1 166 1 9 1 428 1-416 1-40 1-47 1 1 1 19 1 28 1 55 1-33 1 71 1-31 1-38 1 5 1-60 1 90 1-46 1-16 1-59 1-13 1-254 1 163 1 249 1 107 1-3 1-33 1-52 1-131 1-84 1-202 1 146 1 78 1 66 1 3 1 15 1-7 1-30 1-7 1-87 1 19 1 79 1 16 1 127 1-81 1 29 1 69 1 114 1-89 1-101 1 50 1-36 1-17 1-2 1-42 1 113 1 172 1 241 1-238 1-143 1-46 1-55 1 5 1-263 1-124 1 194 1 141 1 66 1-50 1 63 1 7 1-3 1-21 1-132 1-129 1 15 1 39 1 10 1 55 1 89 1-14 1 29 1-12 1 75 1-26 1 16 1 14 1 41 1-24 1-42 1-82 1 43 1-14 1 41 1 22 1 60 1 141 1-149 1-73 1-36 1 44 1-87 1-4 1-47 1-41 1 146 1-29 1 13 1 28 1-12 1-1 1 13 1-92 1 54 1-6 1 7 1 17 1 74 1 166 1-124 1-197 1 29 1-7 1 30 1 12 1-5 1 30 1 1 1-24 1-19 1 14 1 71 1 33 1 100 1 166 1-191 1-43 1-56 1-28 1-26 1-62 1-57 1-17 1 27 1-4 1 47 1 46 1 60 1-43 1-15 1-94 1 115 1 69 1-24 1-37 1 62 1 108 1 208 1-151 1-93 1-6 1-117 1-81 1 46 1-45 1 24 1 31 1-102 1 80 1-11 1-17 1 32 1-90 1-191 1 213 1 73 1 88 1-45 1 80 1-3 1 160 1-145 1-120 1-19 1-63 1 6 1 32 1-12 1-30 1 1 1 77 1 131 1-110 1 15 1-32 1-51 1-25 1 36 1-35 1 47 1-86 1-119 1 174 1 4 1 76 1 19 1 35 1-49 1-205 1 162 1 39 1-32 1 22 1 33 1 20 1 15 1-6 1 197 1-156 1-29 1-64 1-28 1 19 1-18 1 8 1 36 1-17 1-10 1 19 1-70 1-60 1-4 1 30 1 97 1 29 1 53 1 80 1-196 1-214 1 164 1 45 1 20 1-11 1-27 1-81 1 33 1-42 1-172 1 258 1 64 1-1 1 33 1-23 1 41 1-66 1 1 1-37 1 28 1 28 1 83 1-14 1-18 1 0"/>
<path vector-effect="non-scaling-stroke" stroke="#A2142F" d="M0 857l1 58 1-35 1 10 1 3 1-14 1-49 1-4 1 23 1-53 1 54 1-55 1 74 1-63 1 11 1 9 1-59 1-12 1-13 1-30 1 27 1 42 1 70 1-58 1 31 1 26 1 9 1-83 1 52 1 31 1 60 1-123 1 120 1 43 1-18 1-50 1-28 1-57 1-33 1 88 1-16 1 5 1 13 1-77 1 36 1-10 1-26 1 73 1-90 1-28 1 30 1-11 1 9 1 12 1 33 1-3 1-19 1-12 1 18 1-8 1-24 1-3 1 30 1-4 1-26 1 54 1 53 1-26 1-12 1 7 1-70 1 10 1 20 1 23 1-37 1 29 1-64 1 41 1 22 1-6 1 44 1-90 1-2 1-8 1 49 1 0 1 17 1 13 1 19 1 17 1 7 1-11 1-27 1-35 1 12 1 23 1 39 1-32 1-30 1 10 1-16 1 12 1-24 1-27 1 38 1 7 1 0 1 72 1-14 1 37 1-21 1-55 1-40 1-6 1-17 1 72 1-101 1 120 1 30 1-44 1 21 1-51 1 36 1-28 1-46 1-1 1 16 1 27 1-38 1 25 1-51 1 42 1 18 1 87 1 28 1-40 1-26 1 7 1 33 1-3 1 1 1-82 1 6 1-53 1 25 1 39 1-28 1 57 1-29 1 21 1-17 1-37 1 14 1-61 1 46 1 82 1-48 1 1 1-30 1 8 1 48 1 8 1-85 1-69 1 84 1-5 1 141 1 142 1-188 1-120 1 22 1 22 1 63 1-18 1-26 1-32 1 6 1 27 1-111 1-10 1 106 1-50 1 57 1-25 1 22 1-18 1-5 1 6 1-2 1-36 1 0 1-61 1 79 1 97 1-4 1 4 1 60 1-96 1 52 1-137 1 30 1-51 1 59 1-48 1 91 1-11 1 17 1 10 1 3 1 33 1-22 1-36 1-7 1-13 1 9 1-59 1 35 1 5 1 30 1-29 1-33 1-66 1 11 1 70 1-7 1 11 1 1 1 38 1-39 1-7 1-26 1 8 1 36 1 31 1 9 1-20 1-66 1-50 1 45 1 11 1 24 1 43 1 24 1-41 1-91 1 10 1-104 1 92 1 33 1 108 1-115 1 11 1 25 1 32 1-20 1 33 1-16 1-3 1 12 1-32 1 6 1 51 1-6 1-33 1-20 1-1 1-9 1 37 1-8 1 5 1 62 1-113 1 19 1 6 1 21 1-2 1 2 1-9 1-6 1 4 1-2 1 41 1 4 1-30 1 21 1-42 1-4 1-2 1 2 1-47 1 71 1-24 1 37 1-59 1 11 1 45 1 11 1 13 1-46 1-46 1 25 1 24 1 50 1 40 1-38 1-25 1-11 1-5 1 32 1 5 1-24 1 26 1 11 1-13 1-18 1 19 1-28 1-27 1-27 1 27 1 43 1-4 1 14 1-7 1-14 1-38 1-44 1-68 1 99 1 43 1 15 1-4 1 28 1-96 1 31 1-10 1 40 1 11 1-101 1 146 1-93 1-40 1-30 1 78 1 20 1 31 1 22 1-3 1-18 1-22 1-80 1 70 1 43 1 24 1-51 1-16 1-108 1 91 1-22 1-1 1 75 1-62 1 50 1-43 1 22 1-5 1 9 1-30 1 22 1-20 1-3 1 88 1-27 1-3 1 48 1-46 1-28 1-72 1-25 1 44 1 19 1 39 1-12 1 50 1-3 1-6 1-20 1 30 1-5 1-25 1-81 1 17 1-6 1 89 1-72 1-54 1 69 1 21 1 16 1 32 1-12 1-77 1 61 1-15 1 51 1-33 1-92 1-16 1 17 1 11 1 60 1 0 1 120 1 97 1-116 1-102 1 15 1 63 1 35 1 14 1-89 1-76 1 4 1 103 1-11 1 46 1 43 1-78 1-74 1 32 1-19 1-11 1-5 1 87 1-55 1-29 1-16 1-15 1 37 1 4 1-39 1 5 1 56 1-49 1-25 1-22 1 57 1-52 1 98 1-20 1-13 1-19 1-18 1-32 1-13 1 6 1 167 1-103 1-4 1 15 1 63 1-36 1-14 1-42 1-43 1 80 1 23 1 41 1-64 1-80 1 26 1 4 1 18 1 11 1 13 1-17 1 8 1 3 1-18 1 59 1-34 1-12 1 8 1 25 1-34 1 22 1-58 1-19 1 10 1 29 1 22 1 22 1 20 1 34 1 29 1-12 1-97 1 6 1 14 1-16 1-14 1 1 1-18 1-12 1 104 1 145 1-133 1-126 1-61 1 6 1 23 1 46 1 60 1-7 1 80 1-109 1-36 1 26 1-5 1-34 1 38 1-25 1 50 1 1 1 25 1 21 1-17 1 39 1-43 1-32 1-35 1-38 1 131 1-93 1 60 1 45 1-37 1 40 1-29 1-15 1 39 1-2 1 10 1-34 1-15 1-33 1 25 1-7 1 4 1-21 1-10 1-1 1 12 1 4 1-45 1 17 1 9 1 26 1-13 1-10 1-37 1 41 1-17 1 17 1-14 1 10 1-16 1 33 1 12 1 7 1 2 1 5 1 37 1-60 1 21 1 12 1 50 1-2 1-49 1 31 1-18 1-21 1 7 1-18 1-7 1 76 1-28 1-17 1-16 1-124 1-13 1 43 1 185 1-48 1 10 1-63 1-77 1 88 1-87 1-13 1 36 1 74 1-55 1 76 1-18 1-19 1-77 1-18 1 26 1 47 1 53 1-17 1 19 1-51 1 53 1-25 1-34 1 23 1-62 1 23 1 33 1 77 1 73 1-155 1-7 1 13 1 44 1 13 1 9 1-8 1-33 1 6 1 120 1-68 1-70 1-2 1-52 1 3 1-24 1 74 1-37 1-4 1-11 1-6 1 69 1-9 1-14 1-24 1 17 1 21 1-22 1-9 1 23 1 75 1-87 1-6 1-29 1 32 1 49 1-2 1-22 1-6 1-5 1 21 1-72 1-8 1-20 1 30 1 25 1-26 1 0 1-3 1 22 1 87 1-57 1 38 1-45 1 8 1 92 1-11 1-36 1-70 1 18 1 16 1-60 1-45 1 11 1-5 1-35 1 38 1-15 1 126 1-38 1 28 1 24 1 33 1-25 1-27 1 21 1 27 1-24 1 16 1-54 1 55 1 25 1 0 1-55 1-1 1-29 1 0 1-30 1-26 1 14 1 100 1-25 1-36 1 31 1-55 1-10 1 28 1 13 1-6 1 36 1-16 1-34 1-44 1 17 1 64 1 20 1-5 1-49 1-9 1-36 1 20 1 95 1 62 1-48 1-17 1-81 1 2 1 4 1 35 1 35 1-39 1-3 1-6 1-8 1 1 1-35 1 53 1 20 1-16 1-43 1-24 1 61 1-51 1 2 1 5 1 13 1 67 1-32 1-14 1-38 1-5 1 24 1 27 1-55 1 46 1-45 1 45 1-49 1-70 1 9 1 5 1 66 1 67 1 10 1 17 1-3 1-50 1-1 1-15 1 23 1-1 1-53 1 6 1-18 1 17 1 12 1 50 1-56 1 16 1-4 1-37 1 52 1-42 1 2 1 69 1 62 1-8 1-16 1-46 1 31 1 33 1-12 1-71 1 24 1 47 1-42 1 17 1-112 1 21 1 30 1 73 1-14 1-22 1 10 1 26 1-10 1-149 1 24 1-14 1 4 1 37 1 39 1 64 1-33 1 29 1-73 1 41 1-67 1 7 1 35 1 109 1-149 1 31 1-112 1 145 1 2 1 52 1-35 1-35 1-11 1-12 1-12 1-23 1-4 1-16 1 37 1 41 1 15 1-12 1 7 1-7 1 17 1 14 1-2 1 30 1 13 1 15 1-66 1-19 1-39 1 44 1-44 1-5 1 45 1-14 1 28 1-81 1 1 1 35 1 13 1-39 1 3 1-75 1 67 1 52 1 19 1-21 1 11 1-12 1 5 1 0 1-55 1-23 1-9 1 27 1 55 1 32 1-21 1 15 1 30 1-24 1-48 1 19 1-18 1 26 1 9 1-33 1 36 1-3 1-26 1 74 1 2 1-20 1 2 1-34 1-16 1-12 1 16 1-18 1 11 1 53 1-35 1 40 1-46 1-28 1-37 1-6 1-35 1 49 1 41 1 14 1-19 1-33 1 180 1-127 1-2 1 16 1-22 1 50 1-21 1-60 1 24 1 16 1 5 1 17 1-54 1 38 1-3 1 27 1 8 1-47 1-27 1-21 1 77 1 15 1 41 1-98 1-9 1-10 1 64 1 6 1-37 1 17 1-33 1-4 1 21 1 27 1 12 1 12 1 13 1 1 1 21 1-17 1-30 1-37 1-17 1-8 1 12 1 26 1 21 1-5 1 28 1-34 1-23 1-51 1-37 1-67 1 110 1-13 1 6 1 28 1-31 1 55 1 23 1 97 1 318 1-281 1-165 1-36 1 10 1 79 1-22 1 83 1-132 1 16 1-110 1 13 1-34 1 24 1 21 1 47 1 393 1-198 1 87 1 69 1-18 1-71 1-43 1-121 1-107 1-275 1 324 1-30 1 35 1-94 1 31 1-127 1 103 1 63 1-9 1-93 1-235 1 210 1 177 1 3 1-55 1-20 1 57 1 197 1-105 1-25 1 12 1-38 1-92 1 7 1 193 1-94 1-40 1-27 1 51 1-7 1-45 1-37 1-82 1 36 1 4 1 77 1 9 1 19 1 63 1-27 1 22 1-137 1-210 1 167 1 65 1 0 1 75 1-6 1 3 1 30 1-40 1-12 1-88 1-48 1-16 1-28 1 51 1-33 1 85 1 35 1 117 1-45 1 65 1-9 1-29 1-13 1-118 1 47 1 66 1-72 1-62 1 77 1 38 1 35 1-25 1 98 1-43 1-30 1-122 1-63 1 49 1 32 1 93 1-9 1-36 1 29 1 14 1-131 1-138 1 110 1 87 1 33 1 15 1-15 1-26 1 177 1 98 1-185 1-47 1-37 1 31 1 14 1-35 1-99 1-108 1 90 1 84 1-55 1 4 1 15 1 45 1 53 1 39 1 123 1 124 1-233 1-141 1-64 1-91 1 15 1-10 1 68 1 65 1 56 1-10 1-40 1-37 1 98 1 127 1 129 1-143 1-85 1-34 1 98 1-63 1 97 1 107 1 233 1-292 1-47 1-193 1 2 1-20 1-3 1 14 1-24 1 81 1 18 1 41 1-59 1-5 1 59 1-31 1 46 1 38 1 53 1 45 1 24 1-102 1-100 1-27 1-43 1-111 1-6 1-63 1 131 1 279 1-128 1-87 1 100 1 71 1 3 1 5 1 65 1-200 1-99 1-193 1 237 1-35 1-202 1 171 1 120 1 18 1 10 1-53 1-129 1 161 1 1 1-52 1-44 1 38 1 104 1-12 1 59 1 10 1 53 1-43 1-5 1-16 1-27 1-68 1-40 1-28 1-69 1 121 1-9 1-5 1 84 1 20 1-33 1-1 1-49 1 31 1 70 1-3 1-79 1 11 1-171 1-173 1 206 1 125 1-79 1-122 1-54 1 111 1 67 1 30 1 77 1 67 1 7 1-43 1-35 1-60 1 16 1-38 1-16 1 46 1 26 1 10 1 27 1-57"/>
<path vector-effect="non-scaling-stroke" stroke="#0072BD" d="M0 827l1 26 1-38 1-18 1-2 1-70 1 96 1 42 1 15 1 32 1-21 1 11 1-34 1 67 1-77 1-41 1 85 1-55 1 44 1-9 1-1 1 21 1 78 1-109 1-56 1-81 1-3 1 71 1-79 1 13 1 37 1 1 1-24 1 22 1 25 1 78 1-21 1 8 1-67 1 39 1-5 1-14 1 5 1 2 1 32 1-57 1-42 1 24 1 24 1 26 1-4 1 32 1 63 1-67 1-23 1-42 1 2 1-18 1 53 1-15 1-5 1-5 1 23 1 33 1-63 1 24 1 66 1 33 1-60 1-10 1 17 1 8 1-55 1 7 1 11 1 15 1 49 1-91 1 42 1 7 1 6 1-54 1-59 1 0 1 61 1 81 1-10 1-36 1-13 1-52 1 34 1 0 1 104 1-18 1-2 1-125 1-12 1 13 1 39 1-53 1 63 1 86 1-15 1-3 1-38 1 8 1 0 1-34 1-37 1 56 1-3 1-31 1 69 1-37 1-26 1-36 1-5 1 25 1-13 1 54 1 27 1-27 1-11 1 135 1-150 1 26 1-104 1 35 1-36 1 36 1 70 1 24 1-12 1 4 1-61 1-54 1 82 1-10 1 17 1-4 1-2 1-36 1 17 1-34 1 2 1 14 1 61 1 51 1-17 1-10 1-29 1 14 1-50 1 20 1-52 1 8 1 95 1-121 1-64 1 88 1 23 1 19 1 64 1 48 1 18 1-26 1-46 1-25 1-33 1-22 1 51 1-55 1 52 1 8 1 72 1 29 1-129 1-11 1 46 1 23 1 44 1-82 1-13 1 36 1-49 1-32 1-35 1-3 1-1 1 69 1-49 1 88 1 28 1 13 1-123 1 60 1-112 1 53 1 31 1-13 1-18 1 1 1-21 1 59 1 52 1 20 1-28 1-47 1-11 1 7 1 53 1-161 1 94 1-10 1 56 1 52 1 50 1-36 1 4 1-142 1 17 1 5 1-6 1 42 1-4 1 44 1-21 1-22 1 27 1-31 1 37 1 106 1 84 1-71 1-99 1-8 1-34 1 38 1-17 1-75 1-16 1-40 1 10 1-7 1-21 1 8 1 52 1 12 1 27 1-8 1 42 1-6 1-4 1 98 1-60 1-7 1-5 1-85 1 4 1 16 1-55 1-38 1 66 1 48 1 61 1-36 1 50 1-70 1-85 1 2 1-8 1-23 1 32 1 23 1 33 1 31 1 61 1-8 1-12 1 6 1-64 1 6 1 44 1-83 1-19 1-75 1-17 1 162 1-59 1 47 1-29 1 28 1 42 1-61 1 54 1-41 1 73 1 3 1-39 1-7 1 3 1-14 1-29 1 27 1-13 1 16 1 6 1 13 1-11 1 25 1 3 1 3 1-58 1-38 1 4 1 23 1 31 1-10 1-36 1-18 1 17 1 31 1 21 1 51 1 8 1-78 1 65 1-84 1-15 1-32 1 31 1 44 1-68 1 50 1-62 1 73 1 43 1-13 1-35 1-48 1 63 1-109 1 55 1 12 1 32 1-31 1 3 1-8 1 2 1-20 1-7 1 1 1 135 1-93 1 47 1 13 1-40 1-37 1 167 1-93 1-15 1 38 1-31 1-59 1-53 1 54 1 23 1 126 1-26 1 20 1-91 1-45 1 8 1 21 1 0 1-7 1-57 1 20 1 19 1 65 1 32 1-80 1 28 1-39 1-26 1 15 1 44 1 13 1 20 1-61 1-63 1 116 1-76 1 63 1 44 1-28 1-69 1 71 1-64 1-7 1-26 1 75 1-17 1 10 1 84 1 2 1-56 1-77 1-10 1 18 1 17 1-8 1 4 1-6 1-35 1 55 1-32 1 168 1-162 1 5 1 45 1-42 1 24 1-29 1 19 1-6 1 5 1 47 1-8 1-15 1-46 1-2 1-38 1 38 1 19 1 13 1 2 1-49 1 37 1-115 1 106 1-3 1 4 1-14 1-15 1-4 1 60 1 30 1 42 1-33 1-37 1 52 1 23 1-87 1-25 1-2 1-48 1 214 1-178 1 60 1-27 1-50 1 9 1 70 1 20 1-41 1-51 1-29 1 60 1-34 1-15 1-9 1 28 1-29 1 96 1-25 1-59 1 32 1-23 1 70 1-6 1-49 1-16 1-42 1 45 1-34 1 18 1-3 1-85 1 142 1 29 1-110 1-37 1 10 1 3 1 1 1 89 1 23 1 10 1-13 1-7 1 9 1-35 1-17 1-55 1 29 1 32 1-7 1 41 1 64 1-51 1-17 1-88 1 27 1 57 1 45 1 38 1-100 1-15 1 58 1 28 1-32 1-31 1 2 1-69 1 39 1-9 1 46 1 62 1 4 1-36 1 7 1-4 1-4 1 70 1-151 1 13 1 30 1-19 1 8 1-1 1 30 1 36 1-22 1-28 1-47 1 28 1 3 1 11 1-18 1 42 1 6 1 20 1 1 1 49 1-79 1 29 1-45 1 14 1 14 1-45 1 45 1-93 1 79 1 48 1-21 1 8 1-132 1 99 1 13 1-2 1 9 1 40 1-76 1 46 1 11 1 28 1-69 1 11 1-21 1 11 1 40 1-16 1-40 1 49 1 45 1 24 1-37 1 3 1-40 1 28 1 31 1-5 1-113 1 0 1-2 1 28 1 69 1-26 1-40 1-8 1 19 1-46 1 86 1-32 1 65 1-74 1-32 1-17 1 47 1-56 1 55 1-11 1 13 1-10 1 55 1-88 1 29 1-44 1 21 1 3 1 75 1-17 1-34 1 35 1-87 1 2 1-33 1 88 1 87 1-123 1-22 1-10 1-11 1 17 1 61 1 74 1 11 1-99 1 22 1 42 1 31 1-90 1 3 1 45 1 21 1 73 1 72 1-88 1-129 1 29 1 39 1 1 1 29 1 10 1-58 1 0 1-68 1-3 1 44 1-41 1-10 1-41 1 84 1 40 1-29 1 8 1-3 1-3 1-25 1-41 1-37 1 58 1 25 1-13 1-25 1 3 1 44 1-31 1 48 1 14 1-18 1-30 1-3 1 20 1-35 1-84 1 79 1-36 1 26 1 1 1 15 1-7 1 47 1-14 1-11 1-43 1 15 1 20 1 26 1-8 1 9 1-32 1-20 1-10 1 61 1-7 1-25 1 0 1 6 1 51 1-17 1 2 1 5 1-128 1 81 1-55 1 7 1 22 1 17 1 90 1-42 1 7 1-22 1-4 1 109 1-6 1 37 1-88 1-48 1-2 1-38 1 64 1 38 1 74 1-37 1-30 1-54 1-43 1 66 1-72 1 36 1-42 1 14 1-16 1 52 1 11 1-4 1 6 1-43 1 66 1-25 1 30 1-2 1 27 1 5 1-92 1-10 1 51 1 23 1 17 1-70 1 38 1-72 1 47 1 3 1-3 1 5 1-49 1 6 1 56 1-8 1 25 1 30 1-131 1 52 1-5 1 59 1 54 1-17 1-48 1-7 1-11 1 18 1-24 1 56 1-34 1-30 1 9 1-26 1 64 1-48 1 23 1 15 1-61 1 108 1-15 1 13 1 3 1-76 1-53 1 26 1-46 1 12 1 26 1 17 1 34 1 69 1 53 1-26 1-39 1-54 1-13 1 24 1 44 1-88 1-68 1 24 1-61 1 36 1 36 1 31 1 47 1 133 1-115 1-98 1 46 1-75 1 48 1 66 1-47 1 41 1-60 1-27 1-8 1 48 1 0 1 34 1-35 1 43 1-59 1-78 1 19 1 90 1 55 1 50 1-90 1-41 1 67 1-79 1 11 1 47 1 14 1-15 1-63 1-5 1-8 1 40 1 26 1-8 1-52 1 32 1-18 1 103 1-132 1 71 1 7 1 5 1-87 1-14 1 22 1 70 1 0 1 27 1-38 1-15 1 1 1 43 1-38 1 83 1-37 1-17 1-28 1 18 1-48 1 45 1-51 1-17 1 2 1 14 1 71 1-108 1 39 1-32 1 106 1-35 1 27 1-31 1-16 1-5 1-99 1 164 1-109 1 24 1-6 1 14 1-58 1 133 1-15 1 17 1-83 1 37 1-14 1-36 1 6 1 52 1 29 1-38 1 10 1-66 1 55 1-24 1 80 1-56 1 24 1-39 1 22 1-14 1 10 1 72 1-103 1-16 1-49 1 8 1 31 1 52 1 78 1-30 1 59 1-77 1-40 1-12 1 71 1-41 1 14 1-40 1 35 1 67 1-79 1 20 1 68 1-11 1 19 1-99 1-12 1-11 1 28 1-43 1-16 1-35 1 25 1 34 1 26 1-13 1 29 1-17 1-40 1-6 1 8 1 72 1-28 1 39 1-2 1 36 1-61 1-20 1-53 1-80 1-12 1 176 1 37 1-21 1-95 1 39 1 20 1 103 1-72 1 149 1 28 1-104 1 67 1-78 1 97 1-108 1 36 1-288 1-200 1 360 1 28 1-170 1 85 1 26 1 154 1-202 1 21 1 162 1 225 1-254 1-52 1-16 1 59 1-14 1-190 1 8 1 41 1 140 1 65 1 4 1-138 1-47 1-40 1-73 1 88 1-44 1-75 1 204 1 33 1-51 1-33 1-152 1 46 1 80 1 142 1-38 1-99 1 85 1-16 1 27 1 95 1-1 1-117 1 24 1-36 1-42 1-31 1-12 1 23 1 92 1-6 1 65 1 28 1-36 1 7 1-36 1-46 1 27 1-5 1-49 1 30 1 64 1 21 1-5 1 26 1 62 1-25 1-55 1-129 1-149 1-18 1 45 1 89 1 106 1-28 1 86 1-12 1 103 1-116 1 29 1-16 1-20 1-92 1-86 1 5 1 0 1 57 1 40 1 95 1 54 1 18 1-111 1-17 1-66 1-15 1-8 1 15 1 0 1 51 1 1 1 27 1 13 1 19 1-11 1-166 1-150 1 182 1 143 1-7 1 35 1-74 1 107 1 264 1-189 1-151 1 41 1-79 1-48 1-160 1 126 1 85 1 13 1-63 1 25 1 39 1-27 1 27 1 36 1 29 1 86 1-87 1-27 1-32 1-10 1-67 1-12 1-34 1 8 1 31 1-62 1 179 1 0 1 16 1-67 1 108 1 194 1-190 1-126 1 55 1-50 1 26 1 37 1 176 1 76 1-107 1-111 1 52 1 53 1-152 1-137 1 104 1 98 1 23 1-10 1-106 1-16 1 0 1-10 1 79 1 46 1-55 1 66 1-35 1-43 1 110 1 45 1-124 1-113 1-43 1-55 1 8 1 1 1 76 1 48 1 37 1 43 1-68 1 43 1 20 1 28 1-96 1 11 1-18 1 180 1-155 1-11 1-68 1-67 1 87 1 65 1 20 1-53 1-175 1 96 1 17 1-42 1 35 1 178 1-22 1 59 1 103 1-37 1-152 1 133 1-16 1-60 1-99 1-212 1 1 1 159 1 103 1 14 1 8 1-74 1-114 1 128 1-13 1 130 1 102 1 28 1-29 1-104 1-232 1-79 1-123 1 70 1 71 1-4 1 0 1 14 1 85 1-29 1 119 1 72 1 161 1-132 1-18 1-87 1-140 1 144 1 83 1-25 1-83 1-16 1 33 1-49 1-83"/>
<path vector-effect="non-scaling-stroke" stroke="#D95319" d="M0 864l1-34 1-44 1-41 1-13 1 44 1-16 1 97 1-18 1-49 1 29 1-46 1 19 1 59 1-21 1-3 1 19 1-43 1-25 1-6 1-96 1 48 1 126 1 54 1-55 1-48 1 54 1 23 1-12 1 14 1-21 1 29 1-108 1 71 1-26 1 21 1-47 1 23 1-17 1 34 1-43 1 20 1 20 1 25 1-27 1-50 1-26 1 23 1 0 1-18 1 24 1 54 1 27 1 58 1 43 1-133 1-109 1 51 1 49 1 79 1-30 1-54 1-58 1 43 1-2 1 11 1 36 1-14 1-37 1-18 1 59 1 54 1 6 1-12 1-44 1-21 1-10 1-43 1 52 1 7 1 28 1-14 1 78 1-141 1-40 1 17 1 63 1 6 1 55 1-85 1 17 1-1 1-16 1 55 1-21 1-14 1 7 1 2 1-4 1 24 1 13 1-13 1-60 1 31 1 0 1-13 1-29 1-4 1 26 1 72 1-45 1 29 1 32 1-71 1-2 1-13 1 5 1-17 1-59 1 43 1 45 1 44 1-18 1 26 1-22 1 30 1-46 1 40 1-50 1-26 1 42 1 15 1 20 1-22 1-74 1 2 1 2 1-48 1 7 1 50 1 37 1 39 1 33 1 8 1-90 1-13 1 24 1-46 1 15 1-22 1 28 1 42 1 72 1-24 1-48 1-24 1-58 1 22 1 30 1 19 1-32 1 16 1-68 1-49 1 25 1 81 1-38 1 105 1 168 1-158 1 60 1-56 1 2 1-110 1 5 1 24 1-7 1-125 1 111 1-17 1 13 1-10 1 98 1 19 1-95 1-62 1 56 1 40 1 23 1-34 1-17 1-10 1 1 1 58 1-36 1-20 1 66 1-11 1 1 1-12 1-37 1 6 1 39 1 37 1 7 1-26 1-52 1 103 1-63 1 4 1-1 1 65 1-42 1 23 1-27 1-88 1-9 1-103 1 151 1-1 1-24 1 49 1-14 1-17 1 6 1-11 1 13 1 36 1-30 1-16 1-40 1-51 1 20 1 50 1 60 1-16 1 15 1-54 1 63 1 48 1 43 1 1 1-46 1-127 1-35 1 39 1-41 1 41 1-2 1 17 1-5 1 28 1-3 1-18 1 17 1-46 1 2 1-27 1-65 1 102 1-5 1 38 1-25 1-26 1-5 1 17 1-30 1 48 1-8 1 15 1 36 1 3 1 23 1-36 1-13 1-20 1-29 1 60 1 7 1 29 1-89 1-52 1-2 1 70 1-1 1 38 1 54 1-29 1-20 1-36 1 9 1-14 1-22 1-24 1 17 1 8 1 43 1 48 1 6 1 2 1-52 1 48 1-58 1 29 1-41 1-7 1-29 1 9 1 8 1-24 1 6 1 34 1-22 1 52 1-21 1 10 1 22 1-47 1 35 1-69 1-27 1 7 1 48 1 54 1-2 1 23 1-6 1-35 1 21 1-34 1 4 1-65 1 47 1 12 1 69 1-58 1-59 1 39 1 2 1 71 1-14 1 48 1-47 1-40 1-43 1-50 1 83 1 4 1 48 1-3 1-13 1-9 1-26 1-21 1 16 1 31 1 54 1-82 1 65 1-40 1-3 1-28 1 21 1-35 1-39 1 22 1 73 1-15 1-19 1-25 1 50 1-26 1 33 1-46 1 56 1-23 1 33 1-3 1 0 1 22 1-40 1-1 1-74 1-72 1 51 1-17 1 62 1-25 1 59 1 1 1 8 1 95 1-25 1-39 1-5 1-13 1 10 1-16 1-28 1 216 1-158 1-72 1-58 1 57 1-19 1 55 1-44 1-20 1 36 1 20 1 41 1-43 1-6 1-4 1-85 1 44 1 26 1-4 1-9 1 19 1-11 1-51 1 1 1 61 1-32 1-107 1 83 1 79 1 2 1-14 1-39 1-32 1 55 1-3 1 25 1-13 1 3 1-34 1 12 1 31 1 39 1-7 1-36 1-3 1 22 1 21 1 28 1-56 1-6 1-81 1 27 1 46 1 68 1 34 1-3 1-50 1 83 1-17 1-50 1-37 1-58 1-7 1-27 1-31 1 55 1 60 1-3 1-24 1-26 1-29 1 10 1-6 1 96 1 3 1 53 1-110 1-9 1 19 1 58 1 42 1-59 1 42 1-14 1-28 1-22 1-34 1 9 1 21 1-8 1-7 1 7 1-71 1 3 1 39 1 40 1 80 1-62 1 19 1-44 1 8 1-35 1-2 1 16 1 26 1 85 1-73 1 9 1-2 1-30 1 8 1-21 1 14 1-8 1 31 1-183 1 122 1 20 1 37 1 27 1-32 1 74 1-36 1-32 1-144 1 105 1 16 1-30 1 63 1-33 1-27 1 18 1-28 1 52 1 29 1 9 1 15 1-106 1 6 1-46 1 45 1 17 1 11 1-16 1 3 1 18 1 12 1 16 1-38 1-40 1 32 1-11 1 27 1-16 1-38 1 15 1 8 1-13 1 43 1-53 1 4 1 1 1-11 1 46 1 11 1-37 1 34 1-89 1 9 1 88 1 36 1 11 1-33 1 34 1 13 1-24 1-24 1-2 1 18 1 30 1-15 1-12 1-14 1-22 1-24 1 11 1 34 1 19 1 37 1 0 1-57 1 16 1-20 1 10 1-43 1 53 1 22 1-26 1 3 1 4 1 19 1 40 1-144 1-42 1-120 1 129 1 97 1-32 1-1 1 70 1-27 1-20 1 115 1-212 1 9 1 21 1-39 1 27 1 48 1 51 1-14 1-36 1-51 1 14 1-47 1 65 1-6 1 166 1-116 1-45 1-24 1-48 1 78 1 41 1-15 1-130 1 163 1-19 1-24 1 74 1-70 1-8 1-8 1 38 1 170 1-46 1 5 1-120 1 57 1-17 1-29 1-154 1 92 1 70 1-48 1 10 1-32 1-3 1-44 1 16 1 62 1 41 1 45 1-70 1-5 1 48 1-18 1 29 1-59 1 4 1 9 1 44 1 5 1-38 1-36 1 30 1 41 1-10 1-21 1-54 1-23 1-2 1-12 1 54 1 6 1 6 1-19 1-67 1 63 1-34 1 19 1 32 1-15 1 38 1 26 1-34 1-14 1 9 1 29 1 10 1 39 1-30 1-55 1-16 1 16 1 9 1 52 1 26 1-4 1-25 1-23 1 7 1-24 1-35 1 45 1-35 1 38 1-38 1 7 1-5 1-9 1 16 1-2 1-87 1 14 1 38 1 93 1-38 1 26 1-71 1-38 1 0 1 81 1 49 1 45 1-88 1-67 1-19 1-34 1-10 1-88 1 96 1 31 1 53 1 90 1-26 1-28 1-69 1 7 1 63 1-41 1 1 1 52 1-37 1-33 1 6 1 44 1-21 1 49 1-2 1-4 1-92 1-1 1-35 1 81 1 32 1-25 1-56 1 63 1-57 1-6 1 12 1-5 1 44 1 22 1-34 1 64 1-34 1-35 1 38 1 33 1 25 1-25 1-36 1 9 1-71 1 36 1 11 1-15 1-32 1-1 1 65 1-3 1 3 1-59 1 0 1 43 1-41 1 54 1-7 1 64 1 43 1 20 1 0 1-83 1-5 1-58 1 42 1-4 1-63 1 28 1 17 1-58 1-44 1 26 1 34 1 51 1 0 1 26 1 5 1-37 1-4 1 36 1-122 1 93 1-37 1 55 1-37 1 82 1-32 1-26 1-107 1 70 1 16 1-14 1-29 1-147 1 131 1 69 1-24 1 21 1-21 1 3 1 16 1-31 1 8 1 5 1-15 1 86 1 55 1 7 1-39 1-43 1 8 1 4 1-105 1 2 1 20 1 19 1 16 1 8 1 21 1 87 1-14 1-4 1 25 1-77 1 29 1-54 1-14 1-29 1 48 1 71 1 15 1-44 1-56 1 0 1 109 1-118 1 7 1 22 1 1 1-21 1-19 1-29 1 13 1 70 1-66 1 15 1-26 1-15 1 18 1-27 1 80 1 46 1 1 1-65 1-60 1 7 1 10 1 57 1-11 1-10 1 50 1-5 1 15 1-10 1-4 1-66 1 26 1 0 1-31 1 9 1-19 1 47 1-38 1-90 1 90 1 79 1 39 1 24 1 106 1-293 1 51 1-44 1 36 1-6 1-4 1 64 1-48 1-40 1 142 1-33 1 32 1-96 1 48 1-79 1 74 1 36 1-158 1 115 1-42 1 64 1-56 1 36 1-11 1 30 1-46 1 8 1 23 1-56 1 55 1 9 1 25 1 43 1-39 1-44 1-69 1-5 1 69 1-14 1-4 1 11 1 23 1 65 1-1 1-69 1-46 1-41 1 66 1-64 1 28 1-34 1-5 1 43 1 31 1 13 1-63 1-137 1 173 1 105 1 9 1-62 1 4 1-89 1-181 1 153 1 93 1 21 1 143 1-85 1-126 1-20 1 121 1-140 1 90 1-133 1-237 1 123 1 154 1-14 1-23 1 151 1 29 1-53 1-139 1-22 1 123 1 167 1-6 1 12 1 160 1-279 1-50 1 41 1-89 1 105 1 114 1 6 1-39 1-115 1-111 1 70 1 156 1 15 1-91 1-20 1-7 1-50 1 28 1-46 1 112 1 31 1-207 1 32 1-26 1 63 1 39 1 84 1 3 1 34 1 4 1-70 1-85 1 84 1-158 1 151 1 5 1-45 1 7 1 53 1-22 1-11 1 5 1 61 1-49 1 5 1-49 1 55 1-19 1 83 1-43 1 8 1-76 1 39 1-163 1-121 1 77 1 73 1 66 1-36 1 0 1-78 1 60 1 51 1 175 1 21 1 4 1-138 1-45 1-34 1 8 1 27 1-19 1 12 1-58 1 44 1 113 1 167 1-79 1-170 1 43 1-102 1-40 1-14 1-53 1 5 1 84 1 111 1 70 1-31 1 28 1-138 1-14 1-8 1 165 1-77 1 39 1-98 1-34 1-65 1 196 1 284 1-187 1-176 1-57 1-110 1-296 1 243 1 222 1 11 1 23 1 15 1 39 1-48 1-38 1-17 1 41 1 90 1 43 1-152 1-51 1-29 1-167 1 129 1-19 1 39 1 77 1 243 1-211 1-36 1-116 1 217 1 118 1 126 1-181 1-108 1 4 1 4 1 18 1-61 1 87 1-3 1-11 1-6 1-30 1 35 1 59 1-121 1-88 1 85 1 39 1 10 1-60 1-44 1 3 1 74 1-57 1-136 1 105 1 129 1 82 1 132 1-119 1-114 1 68 1-144 1-39 1-47 1-48 1 46 1 99 1 220 1-159 1-76 1 87 1 73 1-1 1-3 1-80 1-34 1-46 1-35 1 51 1-61 1-139 1 130 1 161 1 1 1-27 1-2 1 6 1-15 1 18 1-34 1-49 1-41 1 34 1 194 1-86 1 23 1 59 1-37 1-59 1-24 1-23 1-21 1 11 1-15 1-56 1 52 1-33 1 70 1-103 1-281 1 290 1 127 1 28 1-94 1 121 1-22 1-105 1-6 1-69 1 0 1 5 1 13 1-17 1 10 1-220 1 183 1 155 1 54 1-14 1 5 1-239 1-100 1 190 1 51 1 32 1-4 1 60 1-57 1 17 1-22 1-42"/>
<path vector-effect="non-scaling-stroke" stroke="#EDB120" d="M0 760l1-4 1 53 1 40 1 34 1-41 1-8 1 36 1 4 1 1 1-44 1 14 1-8 1 32 1-43 1 22 1-47 1-10 1 159 1-157 1 12 1 0 1 24 1 57 1-91 1-28 1-24 1 28 1-1 1 12 1 6 1 148 1-151 1 9 1-7 1-24 1 39 1 57 1 4 1-54 1-4 1-73 1 65 1-11 1-52 1-23 1 2 1 25 1 46 1-8 1 35 1 8 1 24 1 17 1 19 1-44 1-7 1 13 1-22 1 14 1-9 1-61 1-22 1 80 1-46 1 64 1 23 1-32 1-30 1-7 1-4 1-19 1 39 1-41 1 38 1 16 1-51 1-17 1 19 1 27 1 19 1 48 1-38 1-36 1 20 1-29 1 32 1-9 1-10 1 37 1 27 1-30 1 43 1-39 1-4 1 3 1-35 1 21 1-7 1-15 1 29 1 7 1 9 1-6 1 5 1-49 1 25 1-22 1 10 1 14 1-31 1 48 1-32 1 24 1-4 1 6 1-23 1-18 1-25 1 10 1 14 1 16 1 21 1-7 1-39 1-16 1 6 1-45 1 64 1 9 1 20 1-28 1 15 1 92 1-11 1 26 1-11 1-2 1-41 1-39 1-7 1 31 1-53 1 30 1-21 1 19 1-9 1-46 1 19 1 31 1-70 1 65 1 14 1 40 1-12 1 68 1-59 1-25 1-24 1-2 1 45 1-50 1 35 1-17 1-30 1-24 1 49 1-55 1 7 1-19 1-21 1 62 1 54 1-62 1-100 1 128 1 37 1-8 1-12 1 25 1-48 1-12 1-5 1 34 1 57 1 42 1-17 1 4 1-34 1-50 1 23 1-31 1 9 1-9 1 40 1-54 1-21 1-32 1 80 1 38 1-38 1-25 1 9 1-53 1 89 1 8 1 28 1-29 1-63 1-24 1 50 1-7 1 106 1-48 1 82 1-67 1-31 1 15 1-26 1-18 1-15 1 5 1 22 1-96 1 41 1-19 1-20 1 38 1-8 1 10 1-14 1-17 1-12 1 132 1 21 1-59 1-22 1-11 1 25 1-60 1-12 1 56 1 3 1 6 1 44 1-36 1 17 1 24 1 41 1-101 1-43 1-31 1 53 1-27 1 30 1 28 1 20 1 55 1 2 1-19 1-101 1 40 1-16 1 74 1 49 1-41 1-30 1-15 1-54 1-35 1 31 1 13 1 6 1 60 1 74 1-113 1-40 1 6 1-48 1 82 1 38 1 19 1 33 1-140 1 41 1 9 1-11 1 21 1-39 1-23 1 43 1-19 1 67 1-55 1 15 1-12 1 8 1 24 1 5 1 33 1-9 1-54 1-12 1 6 1 21 1-16 1 36 1-27 1 43 1-12 1-25 1 5 1 0 1-46 1 27 1-5 1 5 1-7 1-22 1 12 1 28 1 23 1 18 1-51 1-25 1-12 1 64 1 27 1-32 1 20 1-4 1 33 1-11 1-23 1-21 1 17 1 1 1-19 1-1 1 22 1-7 1-16 1-39 1-40 1-8 1 73 1-49 1 48 1-104 1 45 1 6 1 66 1-14 1-16 1-5 1 9 1 16 1 56 1-22 1-5 1-82 1 26 1-22 1 14 1 21 1-19 1 5 1-31 1 47 1-38 1 108 1 24 1 20 1-28 1-34 1-5 1 0 1-45 1 67 1-30 1-43 1-17 1-14 1 100 1-4 1 17 1-39 1 70 1-71 1 55 1-74 1-23 1-38 1 44 1 24 1-10 1-55 1-5 1 18 1 64 1 5 1 0 1-42 1 69 1 25 1 20 1-88 1 27 1-17 1 1 1 46 1-64 1 52 1 5 1-5 1-19 1-36 1 17 1-171 1 113 1 37 1 78 1 24 1-61 1-18 1-34 1-21 1 120 1-109 1 14 1 3 1 0 1-51 1 24 1 8 1 6 1 33 1 23 1 22 1-17 1-76 1 5 1 4 1 10 1 10 1-2 1 7 1-35 1-12 1 5 1 63 1-71 1 31 1-15 1 61 1-18 1-32 1-30 1 48 1-16 1 18 1-45 1 25 1 0 1-15 1 19 1 1 1 29 1 30 1-11 1 0 1 17 1-89 1 9 1 9 1 8 1 63 1 15 1-11 1-46 1-3 1-9 1-19 1-5 1 18 1 40 1-3 1-41 1-2 1 62 1-59 1-32 1 6 1 45 1 29 1-16 1-33 1 11 1-37 1-61 1 40 1 34 1-34 1 23 1 2 1 26 1 6 1-33 1-20 1-14 1 24 1-33 1 58 1 26 1-11 1-48 1 35 1 48 1 11 1-1 1-39 1-20 1 0 1-28 1 1 1 21 1-34 1-1 1 35 1 6 1-5 1-19 1 45 1-24 1 76 1-22 1 33 1-98 1 21 1-36 1 2 1 75 1 17 1-38 1 27 1-43 1 68 1-131 1 52 1-16 1 84 1-31 1 30 1-47 1 17 1-12 1 64 1-64 1 9 1-17 1-5 1 21 1 37 1-26 1-45 1-5 1-18 1-66 1 55 1 42 1 73 1 26 1-113 1 41 1 42 1-19 1-25 1-6 1-43 1-22 1 24 1 25 1 9 1 16 1-44 1-16 1-12 1 45 1 3 1 21 1 5 1-31 1-50 1-27 1-3 1 74 1-13 1 17 1 60 1 27 1-27 1-89 1 68 1 62 1 12 1-19 1-108 1 33 1 8 1 39 1-122 1-49 1 14 1 27 1-9 1-13 1 33 1 18 1 88 1-31 1-25 1 27 1 21 1 31 1-9 1-28 1-10 1 19 1-12 1 1 1-54 1 46 1-27 1 38 1 32 1-110 1 71 1-36 1 18 1 13 1 54 1-40 1-39 1-27 1-31 1 54 1-10 1-20 1 79 1-34 1 73 1-23 1-22 1-30 1-58 1 6 1 12 1 53 1-37 1-30 1 18 1-2 1-7 1 76 1-7 1-15 1-8 1 8 1-18 1-32 1 13 1-18 1 16 1 23 1 24 1 30 1 42 1-69 1 46 1-41 1-17 1 5 1-39 1 22 1-2 1-10 1 3 1-15 1 35 1 53 1-18 1-46 1-11 1 28 1 24 1 7 1-35 1 0 1-56 1 32 1 4 1-16 1 58 1-17 1-31 1-11 1-8 1 54 1 54 1-24 1-34 1 14 1-8 1 6 1 43 1-16 1 19 1-42 1-56 1 15 1 4 1 22 1 13 1 22 1-43 1 2 1-64 1 17 1 19 1 5 1-29 1 11 1 23 1-8 1-7 1-5 1 38 1 15 1-20 1-15 1-35 1 20 1 182 1-158 1-43 1 7 1 85 1 0 1-16 1-48 1-61 1-40 1 153 1-60 1-43 1 73 1 34 1 29 1-11 1-41 1 10 1 9 1-10 1 31 1-40 1-33 1-50 1 50 1 57 1 0 1-77 1 126 1-69 1 35 1-3 1 2 1 29 1-2 1-78 1 51 1-44 1-44 1 9 1-25 1 85 1 15 1-3 1-20 1-39 1 2 1 63 1 2 1-17 1 53 1-61 1 28 1-44 1 0 1-35 1-33 1 42 1 26 1 18 1-31 1 27 1-38 1 2 1 18 1-28 1-7 1-18 1 20 1-41 1 70 1 10 1 10 1-22 1 31 1 9 1 0 1-3 1-12 1 20 1-20 1 32 1 21 1-23 1 2 1-16 1-40 1-26 1 20 1-32 1 50 1 6 1 11 1-4 1 32 1 5 1-21 1-62 1-51 1 9 1 59 1 29 1-58 1-68 1 76 1 10 1 15 1-1 1-45 1 22 1 9 1-27 1-4 1 21 1-36 1 43 1 33 1 5 1 1 1-32 1-4 1-43 1 91 1-18 1-36 1 8 1-19 1-81 1 174 1 0 1-31 1 11 1-37 1 36 1 8 1-9 1-11 1-3 1-16 1 23 1-33 1-34 1 34 1 25 1 28 1 7 1 3 1-13 1-44 1-10 1-16 1-51 1 149 1-23 1-12 1 13 1-12 1 24 1-45 1-53 1 34 1 12 1 34 1-20 1 26 1-59 1-40 1 45 1 7 1-22 1 8 1-19 1 35 1-6 1-16 1 43 1-153 1 152 1 16 1-17 1-5 1 0 1 29 1-19 1 16 1-31 1-16 1-34 1 8 1 16 1 28 1-6 1-35 1 21 1 13 1 44 1-48 1 20 1-3 1-22 1-10 1 12 1-12 1-1 1-7 1 47 1-20 1 4 1-26 1 19 1 17 1-3 1-35 1 55 1-59 1 24 1 46 1-17 1 10 1-108 1-19 1 50 1 5 1 44 1 2 1-12 1 26 1-75 1 35 1-33 1 28 1-14 1 91 1 10 1 19 1-83 1-107 1 78 1-15 1-5 1 88 1 280 1-219 1-4 1-49 1 0 1 163 1-156 1-46 1-39 1 5 1 62 1-48 1-32 1-117 1 43 1 11 1 95 1-16 1-96 1 95 1 148 1-110 1-84 1 64 1 6 1 5 1 12 1 45 1-69 1-172 1 219 1-62 1 118 1-78 1-68 1-88 1-39 1 51 1 81 1 144 1-12 1 61 1-13 1-77 1 45 1-119 1-51 1-114 1 47 1 36 1 20 1 58 1 34 1 51 1 0 1 161 1-134 1-2 1-10 1-28 1-86 1-30 1-50 1 53 1 177 1 276 1-236 1-155 1 40 1-8 1-76 1-70 1-25 1 45 1 75 1 62 1-1 1 68 1 103 1-132 1-51 1-168 1 60 1 60 1-29 1-30 1-45 1 59 1 82 1 96 1-50 1-66 1 16 1-5 1 25 1-113 1-52 1 74 1 114 1-59 1-54 1 3 1 8 1 73 1 246 1-97 1-84 1-77 1 1 1-46 1-18 1-13 1 20 1-30 1 24 1 49 1 19 1 18 1-20 1-27 1 28 1-65 1 55 1-56 1-3 1-15 1 50 1-10 1-18 1 13 1 8 1-19 1 120 1-193 1-199 1 159 1 107 1 31 1 6 1-1 1-23 1 27 1 132 1 130 1-107 1-171 1-1 1-96 1-43 1-27 1-8 1 63 1 198 1-36 1-55 1 41 1 15 1 28 1 27 1 183 1-160 1-126 1 4 1-12 1 93 1 232 1-175 1-67 1 5 1-73 1-47 1-45 1 8 1-15 1 45 1 107 1 20 1-46 1-39 1 39 1-8 1-83 1-148 1 157 1 120 1-21 1 66 1 96 1-130 1-12 1-75 1-45 1-36 1 7 1-1 1-59 1-29 1 71 1 10 1 98 1 58 1 60 1 10 1-51 1-92 1-32 1-50 1 43 1-11 1 41 1 31 1 36 1 40 1-77 1-288 1 315 1 44 1-44 1-29 1-4 1-34 1 44 1-12 1 116 1 116 1-105 1-48 1 18 1-85 1-38 1-77 1-108 1 126 1 98 1-30 1-48 1-112 1-175 1 200 1 153 1-27 1 51 1 34 1-33 1 93 1-140 1-193 1 85 1 66 1-23 1-62 1 49 1-140 1-139 1 256 1 109 1 13 1-3 1 29 1 39 1-32 1 29 1-26 1-38 1-5 1 11 1 39 1 1 1 11 1-45 1-57"/>
<path vector-effect="non-scaling-stroke" stroke="#7E2F8E" d="M0 818l1 3 1 22 1 14 1 3 1 2 1 22 1 61 1-50 1-51 1-2 1-43 1 41 1-35 1 32 1 9 1 26 1-12 1-15 1-34 1 1 1-51 1 66 1-13 1-31 1 11 1-30 1 59 1 36 1 11 1-6 1-15 1-44 1 20 1-52 1 148 1-130 1-28 1-19 1 19 1 34 1-81 1 39 1 78 1-86 1 22 1-33 1 69 1 33 1-30 1-49 1 25 1 1 1 115 1-168 1-21 1 47 1 60 1-5 1-43 1-14 1 34 1 6 1 20 1-2 1-42 1 56 1-26 1-30 1-26 1 23 1 13 1 45 1 43 1-4 1-32 1-15 1-14 1 31 1-81 1 12 1 48 1 11 1-35 1 21 1 18 1-9 1-9 1-25 1-68 1 111 1-13 1 56 1 19 1-33 1 33 1-4 1 18 1-40 1-30 1-58 1 3 1 94 1 13 1-60 1-35 1-11 1 34 1-49 1-15 1-11 1 60 1 14 1 28 1-9 1-32 1 20 1-4 1-2 1-9 1-71 1 122 1-94 1 56 1 13 1 62 1-77 1 9 1-15 1 18 1-21 1-51 1-27 1 41 1-32 1 44 1 5 1 10 1 14 1-42 1 40 1 65 1-73 1-42 1 17 1-40 1 5 1 37 1 89 1-11 1 97 1-68 1-63 1-29 1-115 1 79 1 2 1 33 1-7 1 10 1 25 1 8 1-33 1 36 1-3 1-53 1 26 1-51 1 11 1 23 1 15 1-33 1 25 1-35 1 1 1 40 1-29 1-20 1 47 1-32 1 36 1 2 1 179 1-140 1-75 1 20 1-28 1 37 1-49 1 35 1-32 1-35 1 27 1 64 1-16 1-49 1 57 1 72 1-14 1 61 1-83 1 1 1-28 1 65 1-40 1 5 1-41 1 33 1-51 1 116 1-133 1 145 1-69 1 77 1-76 1-38 1 18 1-8 1 19 1 72 1-8 1-48 1-25 1-109 1 36 1 14 1 43 1 87 1-9 1 53 1-26 1-58 1-17 1-77 1 51 1 4 1 10 1 9 1 10 1 66 1-4 1-64 1-31 1 37 1-40 1 27 1-50 1-12 1-17 1 34 1-52 1 28 1-13 1 69 1 79 1-37 1-26 1-53 1 35 1-3 1-23 1-104 1 136 1 44 1 31 1-57 1 26 1-102 1 23 1 10 1 5 1 49 1-19 1-4 1 62 1 9 1-12 1-29 1-119 1-2 1-10 1 45 1 61 1 64 1-4 1-51 1-45 1 32 1-80 1 21 1 49 1 16 1 19 1-33 1-16 1 26 1 4 1-41 1-18 1 35 1 46 1 38 1-73 1 34 1-59 1 35 1 37 1-57 1-21 1-37 1-12 1 39 1 44 1 8 1-52 1-49 1 19 1 52 1-15 1 24 1-37 1-2 1-29 1-33 1 10 1-2 1 14 1-3 1 106 1-16 1 26 1-14 1-1 1 12 1-42 1 46 1 4 1-4 1 3 1 7 1 108 1-98 1-33 1-35 1 37 1-40 1 14 1 16 1 5 1-10 1-52 1-40 1 26 1 34 1-20 1 43 1 10 1 36 1-64 1 22 1-37 1 74 1 44 1-53 1 15 1-14 1 34 1-3 1-85 1-26 1 29 1 56 1 77 1-19 1-22 1 21 1-23 1-76 1-64 1-13 1 34 1 29 1-31 1 45 1 34 1 7 1 52 1-59 1-21 1-64 1 83 1-8 1 22 1-11 1-89 1 14 1-5 1 19 1-1 1-9 1 14 1-26 1 26 1-6 1 2 1 31 1 36 1 16 1 28 1-66 1-32 1 55 1-6 1 66 1-67 1-55 1-45 1-86 1 121 1-32 1 78 1-72 1 21 1 97 1-21 1-42 1-63 1 11 1 2 1 23 1 10 1 5 1-14 1 48 1-40 1 2 1-6 1-60 1-19 1 36 1 33 1-33 1-4 1 106 1 65 1-41 1-69 1 44 1-54 1 73 1 33 1 13 1-49 1 7 1-70 1 27 1 6 1-3 1 1 1-36 1-38 1 10 1 40 1-56 1 32 1-15 1 76 1 40 1 29 1-67 1-23 1-64 1 51 1 0 1 26 1-37 1 17 1 8 1-22 1 50 1-41 1 26 1-75 1 86 1-89 1 50 1 50 1-76 1 69 1-12 1 55 1-28 1 126 1-159 1-34 1-1 1 8 1 46 1-30 1 6 1-24 1-26 1 4 1 26 1 57 1-35 1-12 1-11 1 29 1 29 1 61 1-121 1-23 1-41 1-34 1 64 1-45 1 73 1 31 1-49 1 21 1 57 1-51 1-17 1-12 1 11 1 25 1-5 1 50 1-14 1-1 1-53 1 31 1 44 1-13 1 48 1-16 1-11 1 0 1-25 1-31 1-38 1 22 1-122 1 121 1 4 1 26 1 14 1 7 1-36 1 61 1-13 1-39 1-3 1 53 1 4 1-28 1-31 1-4 1-17 1 12 1 6 1 66 1 53 1-18 1-46 1-13 1-28 1 21 1-68 1 111 1-91 1 40 1-55 1-51 1 54 1 66 1 12 1-1 1-32 1 15 1-46 1-1 1 29 1 56 1-20 1-38 1 36 1-61 1-3 1-79 1 13 1 25 1 36 1 57 1 34 1-13 1 12 1-47 1-67 1 47 1-60 1 43 1-41 1 23 1 26 1 19 1-51 1 1 1-1 1 7 1 33 1 31 1-33 1 17 1 68 1-73 1 5 1-17 1-1 1 55 1-33 1-79 1-23 1-27 1-9 1 10 1 11 1 50 1 42 1 79 1-26 1-3 1-37 1-54 1-116 1 207 1 45 1 25 1-74 1 0 1 10 1-27 1 10 1-46 1 2 1 29 1-69 1 19 1 27 1-58 1 92 1-14 1-1 1-24 1 27 1 13 1-9 1-57 1 64 1 16 1-55 1-6 1-2 1-3 1 29 1-35 1 20 1 16 1 9 1 20 1-57 1 4 1 24 1-2 1-37 1-11 1 27 1 21 1-24 1 37 1 3 1-9 1-9 1 42 1-7 1 37 1-22 1-47 1-78 1 67 1-17 1 43 1 21 1-5 1-34 1-49 1 15 1 0 1 25 1 4 1 5 1-97 1 120 1 92 1-69 1 19 1-5 1-35 1-30 1 1 1 3 1-4 1 51 1-72 1 5 1-7 1 11 1-19 1 38 1-4 1-41 1 27 1 5 1 13 1 51 1 0 1 12 1-49 1 57 1-156 1 140 1-31 1-12 1 14 1-13 1 10 1 9 1-17 1-35 1 22 1-33 1 20 1-3 1 3 1 72 1-124 1 30 1 36 1 4 1 7 1 24 1-20 1 3 1 41 1-10 1-1 1-22 1 24 1 21 1-33 1-21 1-33 1 65 1 128 1-133 1 44 1-35 1-21 1-24 1 4 1-60 1 41 1-37 1 31 1 1 1-32 1 23 1 16 1 52 1-28 1-67 1-44 1 30 1 93 1-63 1-6 1 10 1 9 1-4 1 41 1-8 1 34 1-33 1-16 1 36 1-13 1-38 1 11 1-53 1 50 1 7 1 9 1 16 1-67 1 14 1-15 1-35 1 17 1-36 1 9 1-34 1 75 1 46 1 60 1-37 1-24 1-7 1 39 1 11 1-41 1 22 1-65 1 55 1 31 1 7 1-21 1-70 1-57 1 21 1 92 1-61 1-12 1 80 1-39 1-31 1 28 1-94 1 9 1 44 1 39 1 30 1-7 1-49 1 34 1-42 1-61 1 74 1-14 1 74 1-93 1 60 1 90 1-72 1-38 1-45 1-5 1 40 1 0 1 53 1-7 1 2 1-66 1 16 1 1 1-3 1 44 1-120 1 153 1-74 1 74 1-20 1 83 1-6 1-23 1-16 1-44 1 7 1-61 1 28 1 10 1-84 1 47 1 50 1-23 1 6 1-30 1-50 1 31 1 6 1-9 1-18 1 72 1 24 1 49 1 25 1-13 1-54 1-92 1 58 1-58 1 60 1 63 1-14 1-61 1-30 1-35 1-52 1 25 1 70 1 24 1-33 1-2 1 25 1 9 1-11 1 35 1 12 1-30 1-19 1-4 1 32 1-30 1 70 1 37 1 19 1-16 1-36 1-64 1-33 1-14 1 94 1 15 1-9 1-17 1-30 1-9 1 48 1 61 1 5 1-87 1 32 1-12 1 31 1-51 1-26 1-1 1 41 1 0 1-15 1 5 1 32 1-19 1-28 1-5 1-14 1 36 1-26 1 150 1-222 1 79 1 18 1-19 1-32 1 101 1-76 1 9 1-8 1-19 1 99 1-24 1-49 1-24 1-64 1 12 1 91 1-25 1-15 1 51 1 41 1 28 1 7 1 16 1-94 1-67 1 82 1 103 1 81 1 108 1-225 1-139 1 118 1-200 1 47 1-103 1 126 1 27 1 0 1-50 1 23 1 31 1 128 1-106 1-104 1-92 1 2 1 37 1 184 1-17 1 47 1-49 1 114 1-177 1-266 1 305 1 23 1-48 1-46 1 33 1 27 1-22 1 110 1-233 1-11 1 50 1 132 1 24 1 8 1 37 1-103 1-55 1 119 1 82 1-109 1-69 1 74 1 49 1-46 1 127 1 40 1-67 1-176 1 99 1 18 1-29 1 40 1-24 1-7 1-65 1 50 1 37 1 64 1-37 1 9 1 19 1-162 1-244 1 198 1 120 1 34 1-60 1 102 1-26 1-61 1-74 1-22 1-39 1 34 1-23 1-38 1-49 1 1 1 171 1 181 1-94 1-18 1-17 1 53 1-28 1 44 1-159 1 11 1 110 1-78 1 42 1-86 1 313 1 198 1-177 1-201 1-63 1-4 1-15 1-21 1-44 1 29 1-55 1-126 1 215 1 41 1 87 1-140 1 49 1-10 1 66 1 16 1-60 1 3 1 10 1 28 1 57 1-58 1 6 1-30 1-57 1 4 1 0 1 10 1 47 1-107 1 34 1 46 1 14 1 24 1-68 1 97 1-25 1 164 1 4 1-51 1-174 1-57 1 2 1-40 1 38 1-29 1 85 1 2 1-27 1-30 1-23 1 134 1 138 1-141 1-104 1-61 1 56 1 81 1 68 1 165 1 136 1-231 1-135 1-44 1-36 1-26 1 123 1 203 1-158 1-125 1 46 1-10 1 60 1-33 1 22 1-17 1-89 1-148 1 197 1 119 1-131 1-20 1 21 1-22 1-24 1-6 1-44 1 30 1-5 1-76 1 150 1 342 1-209 1-99 1 34 1-61 1 49 1-88 1-162 1 135 1 60 1 53 1-11 1 14 1-134 1-149 1 148 1 124 1 18 1-85 1-124 1 142 1 22 1-14 1-47 1 10 1 36 1 106 1-3 1 65 1-31 1-83 1-13 1-44 1 24 1 33 1-168 1 83 1-76 1 72 1-59 1-116 1-268 1 322 1 252 1 6 1 20 1-47 1 9 1-36 1-38 1-1 1 19 1-13 1-95 1-57 1-37 1 62 1 47 1 95 1 53 1 3 1 0 1 18 1-25 1-46 1-87 1 13 1 39 1 68 1 23 1-27 1 4 1-63 1-28"/>
<path vector-effect="non-scaling-stroke" stroke="#77AC30" d="M0 877l1-39 1-2 1 17 1-19 1-53 1-25 1-6 1 32 1 54 1-61 1-54 1-9 1-21 1-20 1 36 1 35 1 38 1 142 1-197 1 21 1-20 1-51 1 17 1 29 1 71 1 64 1 41 1-16 1-58 1 5 1-35 1 72 1-68 1 22 1-167 1 109 1-26 1 10 1 16 1 62 1-22 1 38 1 24 1-66 1-1 1 43 1 50 1-21 1-3 1-64 1 26 1-52 1 29 1-102 1 2 1 39 1 8 1 13 1 79 1 44 1-12 1-37 1-40 1 60 1-57 1 1 1 34 1 0 1-2 1-17 1 46 1-65 1-20 1-4 1 35 1 59 1-33 1 5 1 12 1-38 1-23 1-12 1 39 1-17 1-35 1 8 1 31 1-11 1-37 1 40 1 3 1-1 1-45 1-39 1-19 1 17 1 93 1-25 1 35 1 19 1 2 1-24 1-29 1-14 1-41 1 83 1 42 1 95 1-35 1-124 1 49 1-16 1-19 1-22 1-74 1 67 1 48 1-8 1-20 1-9 1-42 1 34 1-104 1 149 1 11 1-72 1-73 1 31 1-8 1 88 1 35 1-3 1 24 1 29 1-49 1-26 1-12 1 18 1-59 1 74 1 26 1 2 1-26 1-70 1-65 1 84 1 43 1 4 1 8 1-12 1-53 1-1 1 33 1 81 1 7 1-16 1-98 1 5 1 32 1 37 1 54 1 20 1-23 1 14 1-52 1-2 1-82 1-4 1-56 1 31 1 38 1 24 1 34 1 3 1 34 1-77 1 50 1-59 1-32 1-1 1-31 1 80 1 54 1-15 1 6 1-47 1-77 1-53 1 38 1-12 1 52 1 64 1 117 1-68 1-130 1 6 1-16 1 43 1-58 1 86 1 5 1-18 1 26 1 3 1 44 1 36 1 67 1-73 1 2 1-82 1-22 1 14 1-49 1 118 1-20 1-24 1-100 1 38 1 35 1 22 1-12 1-52 1 13 1 20 1 12 1-35 1-16 1 65 1-43 1 5 1 21 1-3 1-49 1 26 1 57 1 3 1-20 1 12 1 19 1-15 1-31 1 23 1-51 1 6 1-11 1 64 1-28 1 81 1-46 1 10 1-91 1 38 1-23 1-13 1-3 1-28 1 26 1-16 1 40 1 58 1-46 1 3 1-59 1 22 1 72 1 58 1 11 1-54 1-18 1-35 1 26 1-9 1 10 1-19 1 14 1 17 1 30 1 34 1-85 1-57 1-26 1 41 1-2 1 38 1 38 1-49 1-9 1-57 1 31 1-5 1 24 1 37 1 21 1 47 1-67 1 12 1 38 1-32 1 50 1-50 1 4 1 30 1-28 1-16 1-6 1-3 1 3 1-44 1-20 1 38 1 24 1-19 1 48 1-62 1 65 1-4 1-38 1 34 1-53 1 86 1 32 1-24 1-49 1-68 1 57 1 91 1-77 1 54 1-43 1 36 1 2 1-67 1-6 1 5 1 33 1-87 1 68 1-10 1 77 1-45 1 14 1 14 1-84 1-33 1-19 1 1 1 28 1 78 1-19 1 0 1-24 1-21 1 70 1-14 1 6 1-38 1-27 1 55 1-46 1 32 1-19 1 13 1 104 1-74 1-48 1 20 1-33 1 57 1-78 1-12 1-39 1 14 1 83 1 13 1 33 1 15 1-65 1-18 1 3 1 29 1 63 1-19 1 43 1-7 1-30 1-69 1-17 1 13 1-28 1-16 1-12 1 121 1-111 1 96 1-49 1 30 1 43 1 9 1 21 1-33 1-24 1-57 1 75 1 9 1 8 1-28 1-14 1 37 1-4 1 16 1-23 1-47 1-36 1 2 1-35 1 29 1 40 1-25 1-4 1 4 1 34 1-20 1-8 1-56 1-32 1 35 1 48 1 61 1 14 1-38 1-94 1 92 1-27 1-6 1-8 1 7 1 4 1-16 1 78 1-45 1 3 1-42 1 38 1-47 1 3 1-21 1 20 1-59 1-10 1 27 1 57 1 65 1 3 1-21 1-28 1 22 1-5 1 5 1-44 1 49 1 23 1-13 1-42 1-9 1-33 1 28 1-29 1 16 1 8 1 16 1 20 1 42 1-52 1 2 1-28 1 16 1-51 1 32 1 16 1 39 1-36 1 36 1-51 1 41 1 30 1-28 1-2 1-27 1-2 1 3 1-64 1-9 1-100 1 203 1 76 1-19 1 22 1-128 1 44 1 7 1 17 1-72 1-38 1 45 1 51 1 8 1-22 1-58 1 22 1-2 1 16 1-7 1 28 1 31 1 18 1-4 1 22 1-21 1-71 1 38 1-41 1-22 1 73 1 6 1 52 1-52 1 7 1-22 1 47 1-61 1 23 1-37 1 23 1 8 1-71 1-30 1 47 1-12 1 15 1-27 1-13 1 47 1 27 1 74 1 28 1-24 1 58 1-158 1 8 1 5 1 5 1-6 1-9 1-51 1 4 1 35 1 1 1-11 1-38 1 88 1-1 1 30 1-59 1 24 1-6 1 9 1 16 1 2 1 10 1-85 1 75 1-48 1 28 1-36 1-94 1 30 1 20 1 46 1 66 1-25 1 41 1-8 1-6 1-17 1-4 1-23 1-5 1 27 1-49 1-11 1-2 1 84 1-25 1-40 1-3 1 2 1 42 1-22 1 1 1-1 1-19 1 39 1-5 1 75 1-32 1-12 1-49 1-11 1-34 1 230 1-150 1 36 1 52 1-45 1-48 1-42 1 38 1 20 1 9 1-10 1 11 1 18 1-49 1 23 1 28 1 38 1-7 1 35 1-104 1 22 1-72 1-44 1 28 1 17 1 34 1-32 1-39 1 71 1 51 1 23 1-56 1 18 1-27 1 33 1-6 1 2 1-55 1 3 1-135 1 117 1 9 1 54 1-67 1-51 1-10 1 25 1 5 1-86 1 122 1-12 1-18 1 48 1-46 1 1 1 12 1 74 1-71 1-33 1-3 1-8 1-1 1 40 1-130 1 195 1 45 1 39 1-171 1 70 1 33 1-172 1 128 1-38 1 54 1-10 1 49 1-69 1 5 1-6 1 44 1-119 1 31 1-82 1 39 1 23 1 31 1 63 1-3 1 50 1-18 1-34 1-15 1-11 1 87 1-79 1 67 1 0 1-30 1 32 1-21 1-32 1-17 1-15 1 51 1 12 1-46 1 6 1 15 1-117 1 77 1 15 1-22 1 12 1 47 1 47 1-37 1-11 1 30 1-13 1 64 1 37 1-50 1-50 1-54 1-42 1 65 1 8 1 12 1-4 1-13 1-53 1-9 1-30 1 57 1-37 1 24 1 18 1-10 1 26 1-32 1-9 1 107 1-14 1-37 1-36 1 12 1 22 1 66 1-14 1 12 1-64 1 70 1-128 1 44 1 15 1-49 1 14 1-1 1 60 1-8 1-45 1 47 1 30 1 82 1-33 1-37 1-80 1 70 1-55 1-36 1 51 1 30 1-14 1-27 1-28 1-10 1 75 1 13 1 71 1-100 1 47 1-104 1 3 1 32 1-8 1-18 1-38 1-18 1 18 1-9 1-61 1 19 1-30 1 77 1 34 1-3 1-24 1-18 1 38 1-30 1 88 1-5 1-4 1-63 1-3 1-2 1 34 1-53 1 26 1 3 1-53 1 62 1-17 1-44 1 18 1 48 1 58 1 3 1 66 1-64 1-65 1 20 1-37 1 18 1 3 1 36 1 27 1-1 1-55 1-108 1 65 1-25 1-104 1 87 1 46 1 207 1-129 1 53 1-38 1 43 1-13 1-31 1 2 1 89 1-159 1 42 1-32 1 16 1-12 1 0 1 6 1 62 1-63 1 14 1-41 1 6 1 33 1-10 1-43 1 50 1-17 1 14 1 23 1-63 1 68 1-51 1-8 1-45 1-29 1 10 1 60 1 77 1 25 1 23 1-30 1-13 1 1 1-5 1-6 1-36 1-76 1 34 1-12 1 7 1 41 1 10 1-17 1 51 1 33 1-25 1-1 1 30 1-20 1-15 1 11 1-17 1-2 1-8 1-63 1 70 1-32 1-6 1-32 1-11 1 20 1 15 1 54 1-15 1-44 1-9 1-15 1 35 1 5 1-33 1 51 1-57 1 27 1 17 1 39 1 54 1-60 1-1 1-25 1 7 1-52 1 47 1-35 1 2 1-39 1 47 1 22 1 13 1 9 1 29 1-34 1-18 1 28 1 63 1-23 1-6 1-103 1 25 1 53 1-3 1 12 1-70 1 13 1-78 1 35 1 56 1 17 1-39 1 21 1-22 1 16 1 18 1 40 1-17 1 10 1-78 1 81 1 21 1-9 1 49 1-73 1 9 1-35 1-37 1-123 1-167 1 84 1 67 1 118 1 6 1 10 1-6 1 112 1 12 1 61 1 34 1 63 1-168 1-85 1 90 1-114 1-34 1-164 1 104 1 159 1 25 1 67 1 56 1-295 1 49 1 102 1 173 1-91 1-100 1-36 1 37 1 61 1 1 1-36 1 125 1-60 1-35 1-57 1-87 1 52 1-14 1 39 1 63 1-104 1-238 1 165 1 152 1-2 1 11 1 11 1 12 1-59 1 52 1-126 1-2 1-52 1 21 1 132 1 93 1-150 1 287 1-159 1-68 1 29 1 15 1-40 1 27 1-37 1-54 1-17 1 45 1 238 1-128 1-52 1-15 1-47 1-78 1 74 1-149 1-231 1 199 1 174 1 48 1 0 1 43 1-19 1-72 1 3 1-54 1-23 1-51 1 50 1-16 1 113 1 89 1-135 1-55 1 2 1 4 1 64 1-90 1-30 1-28 1 15 1 38 1 26 1 83 1-23 1 148 1 135 1-154 1-131 1-35 1-111 1 36 1-8 1 0 1-17 1 82 1 0 1 99 1-139 1-40 1 3 1 39 1 74 1 58 1-8 1 59 1 6 1 0 1 72 1 80 1-142 1-148 1 33 1-26 1 0 1 38 1-3 1-2 1-99 1 39 1 72 1-36 1 50 1-37 1 79 1 122 1-98 1-94 1 36 1-130 1-5 1-29 1 3 1 119 1 299 1-176 1-62 1 28 1-44 1 98 1-110 1 4 1-20 1-19 1 47 1 62 1 171 1 171 1-206 1-100 1-58 1-54 1-107 1 133 1 92 1-167 1-6 1 90 1-33 1 71 1-62 1 52 1-32 1-112 1-9 1-70 1 107 1 52 1-8 1 23 1-53 1-19 1-27 1 17 1-10 1 46 1-16 1-34 1 15 1-47 1-48 1-15 1 156 1 138 1 30 1-25 1-140 1-117 1-160 1 189 1-12 1-154 1 245 1 178 1-24 1-41 1-242 1 99 1 84 1 38 1-30 1 16 1-78 1 10 1 1 1 87 1 0 1-22 1-70 1 46 1 45 1 61 1-15 1-47 1-163 1 72 1 14 1 92 1-46 1-72 1-113 1-203 1 244 1 118 1 23 1 69 1-67 1-32 1 26 1-79 1 58 1-55 1-28 1 8 1-30 1 14 1-22 1-196 1 153 1 169 1 5 1 46 1-83 1-348 1 297 1-84 1 58 1 69 1 11 1 27 1-19 1 0 1-55"/>
<path vector-effect="non-scaling-stroke" stroke="#4DBEEE" d="M0 762l1 88 1-83 1 61 1-77 1 34 1-20 1 32 1 27 1 8 1-12 1-16 1-64 1 98 1 7 1 23 1-43 1 8 1-98 1 66 1-74 1 52 1 1 1 19 1 40 1 18 1 10 1 4 1-71 1-57 1 7 1 46 1 17 1 4 1-23 1 0 1-29 1 8 1 52 1-16 1-8 1-9 1 27 1 3 1 2 1 19 1 10 1-12 1 38 1 50 1-86 1-54 1-52 1 18 1 51 1-35 1-6 1 36 1-55 1 73 1-26 1-56 1 121 1-51 1 38 1-46 1 12 1 38 1 45 1-32 1-11 1-39 1 40 1 16 1-50 1-14 1-36 1 1 1-32 1 48 1 34 1-30 1 1 1-7 1 13 1-21 1 1 1 36 1 43 1-3 1-40 1-26 1-10 1 46 1-36 1-38 1 13 1 3 1 4 1 49 1 20 1 14 1-54 1 56 1-4 1-38 1 13 1 9 1-7 1-2 1 32 1 3 1 1 1-67 1-1 1 1 1-13 1 16 1 1 1 37 1 27 1 1 1-51 1-42 1 20 1-11 1-5 1 29 1-82 1 33 1-25 1 23 1 27 1 17 1-3 1 51 1-37 1 9 1-30 1 25 1 48 1 33 1-10 1 17 1-75 1-114 1 138 1-37 1 32 1-22 1-8 1-46 1 42 1 52 1-47 1 26 1-87 1 8 1-20 1 64 1 24 1 10 1-33 1-25 1 12 1-15 1 110 1 4 1-48 1 46 1-10 1-27 1-16 1-97 1-60 1 84 1 2 1 26 1 37 1-35 1 2 1-26 1-39 1 48 1 38 1 58 1-55 1 4 1 33 1 54 1-50 1-78 1-26 1 5 1-14 1 8 1-40 1 41 1 33 1 48 1 26 1-81 1-24 1-35 1 102 1 1 1-14 1 15 1-45 1 46 1 2 1-77 1-44 1 11 1-34 1 128 1 15 1-21 1 37 1-5 1 57 1-10 1-56 1 62 1 16 1-51 1-20 1-10 1-24 1 27 1 31 1-19 1-13 1 27 1 3 1-47 1-6 1-28 1 39 1-11 1 30 1-34 1 14 1 4 1 56 1 14 1-57 1 86 1-117 1 16 1-17 1 48 1-67 1-39 1 105 1-54 1 63 1 36 1-5 1 43 1-24 1-29 1-66 1-5 1-2 1 43 1 18 1-8 1 26 1-4 1-30 1-12 1 13 1 12 1-8 1-32 1 3 1-40 1 41 1-6 1 14 1 4 1-15 1 24 1 45 1-40 1-26 1 4 1-37 1-4 1 33 1 9 1-36 1 34 1-10 1 38 1-26 1 3 1 20 1 5 1-60 1 1 1-7 1 16 1-33 1-2 1 50 1-13 1 6 1 11 1-7 1 17 1-20 1-5 1 20 1-30 1 10 1 20 1 13 1 8 1 14 1-27 1-38 1-62 1 53 1-5 1 41 1 9 1 16 1-57 1 13 1 7 1 9 1 13 1-9 1-30 1 41 1-63 1 53 1-22 1 14 1 23 1-37 1-21 1 16 1 48 1 24 1-28 1-15 1 32 1-12 1 1 1 41 1 24 1-23 1 9 1-23 1-24 1-40 1 59 1 9 1-20 1 5 1-40 1 16 1-97 1 85 1-50 1 34 1 34 1-38 1-9 1 15 1-7 1 9 1 61 1 24 1-117 1-14 1-40 1 74 1 8 1 1 1-42 1 37 1 31 1 8 1 74 1-58 1-22 1-114 1-2 1-30 1 87 1 47 1-25 1 22 1-17 1 33 1-83 1 36 1-59 1-9 1 31 1-4 1-33 1 38 1 26 1 36 1 49 1 3 1-34 1-5 1 8 1 16 1-41 1-69 1 37 1 47 1 41 1-22 1-74 1 24 1-8 1 56 1 10 1-27 1 46 1-31 1 36 1-12 1 19 1-9 1-54 1-16 1 29 1-28 1-1 1-59 1 2 1 13 1 54 1 15 1-44 1 32 1-142 1 57 1 55 1 9 1 26 1 6 1-70 1 35 1 8 1-33 1 3 1-32 1 32 1-2 1-14 1-2 1-9 1 16 1-2 1 25 1-36 1 17 1-16 1 53 1-36 1 41 1-49 1 30 1-48 1-21 1-9 1 59 1 17 1 18 1-62 1 17 1-40 1 57 1 16 1-8 1-41 1 38 1-1 1-9 1 105 1-40 1 0 1-58 1-17 1 16 1 57 1-15 1-46 1-98 1-22 1 86 1 62 1 10 1-7 1-13 1-3 1-8 1 16 1-17 1 63 1-32 1 30 1 12 1 28 1-108 1 66 1-32 1-21 1 38 1-46 1 5 1-3 1 50 1 50 1 7 1-4 1-52 1-75 1-21 1 38 1 35 1-37 1 27 1-40 1 71 1-20 1-10 1 28 1-34 1-134 1 119 1-98 1 112 1 17 1-6 1-31 1-8 1 2 1 18 1 33 1 5 1-22 1 19 1 24 1 28 1-4 1-86 1 55 1-102 1 66 1 45 1-29 1-39 1 18 1-2 1-13 1-65 1 30 1 4 1 35 1 16 1-37 1 59 1-42 1 42 1-42 1 9 1 19 1-14 1 42 1-104 1 13 1 39 1 2 1-16 1 22 1 72 1 9 1-39 1-36 1-15 1-5 1-59 1 127 1-36 1 12 1-16 1-25 1 0 1-14 1 69 1-6 1-89 1-34 1-3 1 25 1 90 1 20 1 10 1-35 1-4 1 14 1-24 1-17 1-68 1 35 1-10 1-46 1 48 1-2 1 17 1 29 1 20 1 92 1-79 1 31 1-40 1-59 1-10 1-15 1-1 1 5 1 20 1 83 1 2 1 18 1-20 1-62 1 54 1-6 1 54 1-45 1-68 1-6 1 25 1 6 1-14 1 144 1-46 1-5 1-47 1 50 1-6 1-20 1-14 1 31 1-12 1 2 1 18 1-83 1 34 1-11 1-51 1 19 1 23 1 54 1-7 1-18 1 38 1-14 1-26 1-33 1-16 1 10 1 14 1-9 1 31 1-46 1 27 1 0 1-32 1 13 1 58 1-8 1 17 1-48 1 3 1 12 1 34 1 16 1-26 1 14 1-32 1 81 1-140 1 11 1 4 1-24 1 14 1-14 1-4 1-31 1 38 1 12 1-11 1 3 1 46 1-11 1-36 1 13 1-10 1-40 1 43 1 47 1 29 1-49 1 3 1 18 1-10 1-5 1 14 1 8 1-66 1-21 1 30 1 34 1 29 1-7 1-37 1-4 1-56 1 57 1 26 1 33 1-3 1 1 1-11 1-29 1-50 1-15 1-5 1 56 1 28 1-21 1 60 1-3 1 58 1-95 1-4 1-59 1 11 1 44 1-50 1 0 1-16 1 61 1-67 1 79 1-40 1 22 1 46 1-34 1 25 1 59 1-50 1-16 1 8 1-4 1-7 1-63 1 13 1-21 1 74 1-55 1 175 1-69 1-22 1-15 1 2 1-33 1 43 1-49 1 6 1 20 1-49 1 8 1 34 1 43 1 35 1-70 1-11 1-27 1-6 1 34 1-39 1 48 1-55 1-1 1 30 1-38 1 18 1-13 1 15 1 57 1-25 1 38 1-44 1-122 1-125 1 141 1 124 1-58 1 34 1-63 1 42 1 14 1-37 1-16 1 29 1 46 1 47 1-19 1-46 1-22 1-33 1 39 1 114 1-32 1-23 1 12 1 55 1-44 1-27 1 9 1 32 1-42 1 49 1-30 1-9 1 45 1-54 1 36 1-16 1 81 1-137 1-31 1-16 1 70 1-6 1-12 1-35 1 20 1-3 1-5 1 65 1-9 1 16 1-64 1-34 1-67 1 68 1 18 1 50 1-15 1-4 1-30 1 25 1-30 1 22 1-51 1 23 1 0 1 10 1-37 1 20 1 7 1 33 1 29 1 26 1-24 1-14 1-24 1-23 1-68 1 34 1 9 1 15 1 17 1 69 1-21 1-41 1-25 1 62 1-34 1 42 1-33 1-40 1-15 1-22 1 28 1-4 1 29 1 4 1 28 1 22 1 6 1-10 1-24 1 40 1-80 1-27 1-14 1 21 1 40 1 28 1-22 1 39 1-4 1 32 1-38 1 7 1-31 1 16 1 45 1 24 1-2 1-17 1-12 1-50 1-46 1 52 1-73 1 47 1 31 1 28 1 25 1-10 1-28 1-17 1-20 1-46 1-9 1-17 1 66 1-22 1 70 1 57 1-59 1 35 1 16 1-7 1 5 1-99 1 12 1 41 1 23 1-69 1 40 1 29 1-8 1 20 1-60 1-55 1 71 1 23 1 16 1-37 1 54 1-31 1-25 1-15 1-34 1-23 1 3 1 71 1 48 1 10 1-44 1 42 1-11 1-5 1 12 1 7 1-60 1 15 1-10 1-53 1-41 1 70 1 116 1-42 1-46 1 43 1-1 1-105 1-219 1 73 1 74 1 9 1 91 1-27 1-45 1 17 1 196 1 109 1-272 1 28 1 90 1 5 1-36 1-87 1-11 1-9 1-39 1-138 1 259 1-5 1-16 1-43 1-17 1-96 1 86 1 24 1-143 1-215 1 134 1 246 1 15 1-63 1-63 1-23 1 292 1 50 1-134 1-45 1 44 1 46 1 9 1-99 1 30 1 106 1-115 1-97 1 110 1-4 1 11 1-11 1 37 1 217 1-163 1-20 1-2 1-20 1-81 1 17 1-34 1-9 1 6 1 65 1-18 1-11 1-20 1 47 1-30 1 10 1-87 1-159 1 118 1 14 1-16 1-4 1 83 1-15 1 21 1 11 1-33 1 50 1 28 1-10 1 3 1 69 1-103 1-57 1-31 1 11 1 91 1 45 1-5 1 6 1 5 1 17 1-86 1 8 1-86 1 24 1 5 1-100 1 125 1 9 1-42 1-31 1 6 1 72 1-69 1 114 1-11 1 42 1-66 1 104 1 218 1-214 1-97 1-9 1-2 1-16 1-16 1-115 1-121 1 211 1 70 1 20 1-28 1 22 1-32 1 41 1-37 1 27 1 80 1 120 1-150 1-79 1-14 1-19 1-42 1-51 1 13 1 62 1 113 1 211 1-147 1-145 1 32 1 35 1 307 1-265 1-79 1-8 1-19 1 32 1 182 1 245 1-143 1-275 1-10 1-18 1-52 1-23 1 31 1 53 1-19 1-35 1 7 1-22 1 22 1-15 1-29 1-160 1 191 1 114 1 35 1 34 1 23 1-68 1-32 1-69 1-3 1-32 1 5 1-51 1-29 1 18 1 108 1 259 1-189 1-108 1-73 1 34 1-8 1-42 1-138 1 138 1 104 1 12 1 93 1-56 1 37 1 3 1 0 1-112 1-295 1 247 1 168 1-84 1-69 1 16 1 32 1 65 1 28 1 8 1 22 1 158 1-60 1-117 1-30 1-24 1-62 1 47 1-61 1 7 1-15 1 59 1 12 1-205 1-287 1 303 1 220 1 61 1 4 1-32 1-39 1-110 1 36 1 20 1-34 1-54 1 11 1 28 1-87 1-142 1 137 1 119 1 18 1 78 1 44 1 18 1-132 1-197 1 78 1 114 1 42 1-11 1 51 1-66 1 18 1-28"/>
</g></g>
<rect x="45.5" y="20.5" width="629.0" height="135.5" fill="none" stroke="#9c9c9c" stroke-width="1"/>
<line x1="45.5" y1="156.0" x2="45.5" y2="149.5" stroke="#9c9c9c" stroke-width="1"/>
<line x1="45.5" y1="20.5" x2="45.5" y2="27.0" stroke="#9c9c9c" stroke-width="1"/>
<text x="45.5" y="169.6" text-anchor="middle" class="t">0</text>
<line x1="153.5" y1="156.0" x2="153.5" y2="149.5" stroke="#9c9c9c" stroke-width="1"/>
<line x1="153.5" y1="20.5" x2="153.5" y2="27.0" stroke="#9c9c9c" stroke-width="1"/>
<text x="153.1" y="169.6" text-anchor="middle" class="t">2</text>
<line x1="260.5" y1="156.0" x2="260.5" y2="149.5" stroke="#9c9c9c" stroke-width="1"/>
<line x1="260.5" y1="20.5" x2="260.5" y2="27.0" stroke="#9c9c9c" stroke-width="1"/>
<text x="260.7" y="169.6" text-anchor="middle" class="t">4</text>
<line x1="368.5" y1="156.0" x2="368.5" y2="149.5" stroke="#9c9c9c" stroke-width="1"/>
<line x1="368.5" y1="20.5" x2="368.5" y2="27.0" stroke="#9c9c9c" stroke-width="1"/>
<text x="368.3" y="169.6" text-anchor="middle" class="t">6</text>
<line x1="475.5" y1="156.0" x2="475.5" y2="149.5" stroke="#9c9c9c" stroke-width="1"/>
<line x1="475.5" y1="20.5" x2="475.5" y2="27.0" stroke="#9c9c9c" stroke-width="1"/>
<text x="475.9" y="169.6" text-anchor="middle" class="t">8</text>
<line x1="583.5" y1="156.0" x2="583.5" y2="149.5" stroke="#9c9c9c" stroke-width="1"/>
<line x1="583.5" y1="20.5" x2="583.5" y2="27.0" stroke="#9c9c9c" stroke-width="1"/>
<text x="583.5" y="169.6" text-anchor="middle" class="t">10</text>
<line x1="45.5" y1="21.5" x2="52.0" y2="21.5" stroke="#9c9c9c" stroke-width="1"/>
<line x1="674.5" y1="21.5" x2="668.0" y2="21.5" stroke="#9c9c9c" stroke-width="1"/>
<text x="41.6" y="25.7" text-anchor="end" class="t">0.06</text>
<line x1="45.5" y1="41.5" x2="52.0" y2="41.5" stroke="#9c9c9c" stroke-width="1"/>
<line x1="674.5" y1="41.5" x2="668.0" y2="41.5" stroke="#9c9c9c" stroke-width="1"/>
<text x="41.6" y="45.6" text-anchor="end" class="t">0.04</text>
<line x1="45.5" y1="61.5" x2="52.0" y2="61.5" stroke="#9c9c9c" stroke-width="1"/>
<line x1="674.5" y1="61.5" x2="668.0" y2="61.5" stroke="#9c9c9c" stroke-width="1"/>
<text x="41.6" y="65.5" text-anchor="end" class="t">0.02</text>
<line x1="45.5" y1="81.5" x2="52.0" y2="81.5" stroke="#9c9c9c" stroke-width="1"/>
<line x1="674.5" y1="81.5" x2="668.0" y2="81.5" stroke="#9c9c9c" stroke-width="1"/>
<text x="41.6" y="85.4" text-anchor="end" class="t">0</text>
<line x1="45.5" y1="101.5" x2="52.0" y2="101.5" stroke="#9c9c9c" stroke-width="1"/>
<line x1="674.5" y1="101.5" x2="668.0" y2="101.5" stroke="#9c9c9c" stroke-width="1"/>
<text x="41.6" y="105.3" text-anchor="end" class="t">-0.02</text>
<line x1="45.5" y1="121.5" x2="52.0" y2="121.5" stroke="#9c9c9c" stroke-width="1"/>
<line x1="674.5" y1="121.5" x2="668.0" y2="121.5" stroke="#9c9c9c" stroke-width="1"/>
<text x="41.6" y="125.2" text-anchor="end" class="t">-0.04</text>
<line x1="45.5" y1="141.5" x2="52.0" y2="141.5" stroke="#9c9c9c" stroke-width="1"/>
<line x1="674.5" y1="141.5" x2="668.0" y2="141.5" stroke="#9c9c9c" stroke-width="1"/>
<text x="41.6" y="145.1" text-anchor="end" class="t">-0.06</text>
<text x="47.6" y="8.8" class="ti">(a)</text>
<text transform="translate(9.2,88.4) rotate(-90)" text-anchor="middle" class="l">iEEG</text>
<line x1="153.5" y1="209.5" x2="153.5" y2="345.3" stroke="#f2f2f2" stroke-width="1"/>
<line x1="260.5" y1="209.5" x2="260.5" y2="345.3" stroke="#f2f2f2" stroke-width="1"/>
<line x1="368.5" y1="209.5" x2="368.5" y2="345.3" stroke="#f2f2f2" stroke-width="1"/>
<line x1="475.5" y1="209.5" x2="475.5" y2="345.3" stroke="#f2f2f2" stroke-width="1"/>
<line x1="583.5" y1="209.5" x2="583.5" y2="345.3" stroke="#f2f2f2" stroke-width="1"/>
<line x1="45.5" y1="306.5" x2="674.5" y2="306.5" stroke="#f2f2f2" stroke-width="1"/>
<line x1="45.5" y1="267.5" x2="674.5" y2="267.5" stroke="#f2f2f2" stroke-width="1"/>
<line x1="45.5" y1="228.5" x2="674.5" y2="228.5" stroke="#f2f2f2" stroke-width="1"/>
<path fill="none" stroke="#4a8fcb" stroke-width="0.85" stroke-linejoin="round" d="M56.7 320.0L57.4 320.8 58.1 322.5 58.8 322.7 59.5 323.8 60.2 325.7 60.9 326.2 61.6 325.8 62.3 327.8 63.0 328.4 63.7 329.3 64.4 330.3 65.1 330.5 65.8 331.8 66.5 333.2 67.2 333.5 67.9 333.7 68.6 334.0 69.3 334.0 70.0 335.3 70.7 335.5 71.4 335.1 72.1 335.1 72.8 334.7 73.5 335.3 74.2 334.5 74.9 335.2 75.6 334.2 76.3 334.9 77.0 334.9 77.7 334.5 78.4 335.6 79.1 335.3 79.8 335.0 80.5 336.2 81.2 335.8 81.9 336.4 82.6 336.7 83.3 337.2 84.0 337.1 84.7 337.3 85.4 336.4 86.1 336.4 86.8 336.5 87.5 336.7 88.2 335.7 88.9 335.9 89.6 335.2 90.3 334.1 91.0 333.5 91.7 333.5 92.4 332.8 93.1 333.1 93.8 333.3 94.5 332.9 95.2 333.1 95.9 332.8 96.6 332.1 97.3 332.6 98.0 332.0 98.7 332.2 99.4 332.7 100.1 332.5 100.8 333.0 101.5 332.7 102.2 332.7 102.9 332.6 103.6 333.1 104.3 333.2 105.0 332.4 105.7 333.7 106.4 333.5 107.1 332.6 107.8 333.7 108.5 333.8 109.2 334.7 109.9 334.3 110.6 334.6 111.3 333.8 112.0 333.3 112.7 332.6 113.4 331.5 114.1 331.1 114.8 330.7 115.5 331.2 116.2 330.9 116.9 330.4 117.6 330.7 118.3 330.6 119.0 330.8 119.7 331.0 120.4 330.3 121.1 330.5 121.8 331.2 122.5 331.2 123.2 331.5 123.9 332.2 124.6 332.2 125.3 332.1 126.0 332.5 126.7 334.0 127.4 334.0 128.1 335.1 128.8 334.8 129.5 334.4 130.2 333.2 130.9 332.8 131.6 332.1 132.3 331.9 133.0 332.3 133.7 331.6 134.4 332.4 135.1 331.6 135.8 332.2 136.5 332.0 137.2 331.0 137.9 331.0 138.6 331.0 139.3 330.6 140.0 331.0 140.7 331.0 141.4 330.1 142.1 330.0 142.8 330.1 143.5 330.3 144.2 330.7 144.9 330.7 145.6 331.4 146.3 332.1 147.0 332.2 147.7 332.2 148.4 332.2 149.1 332.1 149.8 332.1 150.5 332.7 151.2 332.9 151.9 332.7 152.6 332.1 153.3 332.6 154.0 332.7 154.7 333.0 155.4 333.3 156.1 332.4 156.8 331.6 157.5 331.1 158.2 330.4 158.9 330.0 159.6 329.6 160.3 329.3 161.0 329.2 161.7 328.6 162.4 329.3 163.1 330.0 163.8 329.4 164.5 328.4 165.2 329.5 165.9 329.0 166.6 329.2 167.3 328.9 168.0 328.8 168.7 328.5 169.4 328.5 170.1 328.0 170.8 328.8 171.5 328.8 172.2 328.5 172.9 329.2 173.6 328.8 174.3 328.5 175.0 329.4 175.7 329.7 176.4 330.5 177.1 331.2 177.8 330.7 178.5 331.3 179.2 331.8 179.9 332.1 180.6 332.4 181.3 332.5 182.0 332.3 182.7 332.9 183.4 333.1 184.1 333.3 184.8 334.4 185.5 334.0 186.2 335.4 186.9 335.1 187.6 335.5 188.3 335.9 189.0 336.2 189.7 336.5 190.4 337.3 191.1 338.3 191.8 338.6 192.5 339.6 193.2 339.1 193.9 340.2 194.6 340.7 195.3 341.2 196.0 342.1 196.7 342.2 197.4 343.0 198.1 343.0 198.8 342.0 199.5 342.6 200.2 342.0 200.9 341.8 201.6 342.1 202.3 341.9 203.0 342.1 203.7 342.5 204.4 342.8 205.1 343.2 205.8 343.4 206.5 342.9 207.2 342.4 207.9 341.2 208.6 341.9 209.3 342.0 210.0 340.8 210.7 340.4 211.4 340.0 212.1 339.5 212.8 339.3 213.5 337.7 214.2 338.8 214.9 338.8 215.6 338.0 216.3 337.5 217.0 336.9 217.7 336.7 218.4 336.2 219.1 336.2 219.8 335.5 220.5 335.8 221.2 335.6 221.9 335.0 222.6 334.4 223.3 333.5 224.0 334.1 224.7 332.2 225.4 331.4 226.1 331.2 226.8 331.0 227.5 329.8 228.2 329.0 228.9 328.4 229.6 328.1 230.3 327.4 231.0 327.8 231.7 326.5 232.4 327.5 233.1 327.0 233.8 327.2 234.5 326.8 235.2 327.0 235.9 326.3 236.6 327.0 237.3 326.6 238.0 326.8 238.7 326.8 239.4 326.3 240.1 327.2 240.8 327.3 241.5 328.1 242.2 328.2 242.9 328.8 243.6 329.1 244.3 330.6 245.0 330.8 245.7 330.0 246.4 330.9 247.1 331.2 247.8 331.4 248.5 331.7 249.2 332.6 249.9 331.8 250.6 333.2 251.3 332.5 252.0 332.6 252.7 333.2 253.4 333.1 254.1 333.9 254.8 334.1 255.5 334.7 256.2 335.0 256.9 335.4 257.6 335.7 258.3 336.0 259.0 336.6 259.7 336.2 260.4 336.8 261.1 336.1 261.8 336.8 262.5 336.5 263.2 337.3 263.9 336.9 264.6 337.2 265.3 336.0 266.0 336.6 266.7 336.2 267.4 336.3 268.1 335.9 268.8 336.5 269.5 336.0 270.2 335.7 270.9 335.9 271.6 335.7 272.3 335.8 273.0 335.4 273.7 335.6 274.4 334.9 275.1 335.2 275.8 335.4 276.5 334.2 277.2 334.1 277.9 334.1 278.6 334.2 279.3 333.8 280.0 333.5 280.7 333.3 281.4 334.5 282.1 334.1 282.8 333.1 283.5 334.1 284.2 334.1 284.9 334.1 285.6 333.6 286.3 334.3 287.0 334.9 287.7 334.5 288.4 334.9 289.1 335.1 289.8 335.0 290.5 335.6 291.2 335.8 291.9 336.1 292.6 336.0 293.3 336.3 294.0 335.8 294.7 336.4 295.4 336.2 296.1 336.5 296.8 336.2 297.5 335.8 298.2 336.0 298.9 335.8 299.6 335.0 300.3 335.1 301.0 334.2 301.7 333.8 302.4 333.9 303.1 333.7 303.8 334.1 304.5 333.9 305.2 333.7 305.9 333.8 306.6 333.4 307.3 333.6 308.0 333.1 308.7 332.7 309.4 332.9 310.1 332.6 310.8 332.2 311.5 332.7 312.2 331.8 312.9 332.3 313.6 331.5 314.3 331.9 315.0 332.4 315.7 331.5 316.4 331.1 317.1 331.0 317.8 331.5 318.5 331.1 319.2 330.6 319.9 330.2 320.6 330.1 321.3 329.6 322.0 329.8 322.7 329.8 323.4 329.4 324.1 329.0 324.8 330.0 325.5 328.7 326.2 328.4 326.9 329.2 327.6 329.3 328.3 329.7 329.0 330.6 329.7 329.6 330.4 330.4 331.1 330.3 331.8 330.9 332.5 330.9 333.2 329.8 333.9 329.6 334.6 328.8 335.3 328.8 336.0 328.6 336.7 328.6 337.4 327.9 338.1 327.5 338.8 328.0 339.5 328.1 340.2 327.0 340.9 328.1 341.6 327.9 342.3 328.5 343.0 328.2 343.7 328.7 344.4 329.5 345.1 330.1 345.8 331.1 346.5 331.3 347.2 331.4 347.9 332.3 348.6 331.7 349.3 331.5 350.0 331.4 350.7 331.2 351.4 331.3 352.1 332.2 352.8 332.1 353.5 332.6 354.2 332.1 354.9 332.8 355.6 332.9 356.3 333.9 357.0 333.8 357.7 333.5 358.4 333.4 359.1 333.5 359.8 334.0 360.5 333.1 361.2 333.2 361.9 334.0 362.6 333.9 363.3 334.2 364.0 335.4 364.7 335.7 365.4 336.0 366.1 336.7 366.8 337.1 367.5 337.9 368.2 337.6 368.9 338.3 369.6 338.7 370.3 338.7 371.0 339.3 371.7 339.3 372.4 340.0 373.1 339.7 373.8 340.3 374.5 340.4 375.2 340.9 375.9 339.6 376.6 340.7 377.3 340.4 378.0 340.0 378.7 339.6 379.4 339.5 380.1 339.0 380.8 338.2 381.5 338.6 382.2 338.6 382.9 339.0 383.6 338.7 384.3 338.7 385.0 338.5 385.7 339.6 386.4 339.5 387.1 340.3 387.8 340.4 388.5 340.7 389.2 340.5 389.9 340.4 390.6 341.3 391.3 341.4 392.0 341.3 392.7 341.7 393.4 341.4 394.1 341.4 394.8 340.7 395.5 341.0 396.2 340.6 396.9 340.6 397.6 339.9 398.3 340.3 399.0 339.4 399.7 339.3 400.4 339.4 401.1 339.6 401.8 338.9 402.5 338.8 403.2 339.0 403.9 338.1 404.6 338.9 405.3 338.6 406.0 339.1 406.7 338.7 407.4 338.5 408.1 337.2 408.8 337.0 409.5 337.5 410.2 337.7 410.9 337.6 411.6 337.6 412.3 336.6 413.0 336.5 413.7 336.9 414.4 336.8 415.1 336.5 415.8 336.6 416.5 336.8 417.2 336.5 417.9 335.2 418.6 335.1 419.3 334.8 420.0 334.0 420.7 334.6 421.4 333.8 422.1 334.2 422.8 334.9 423.5 334.8 424.2 334.4 424.9 335.2 425.6 335.1 426.3 335.1 427.0 334.3 427.7 335.4 428.4 335.5 429.1 335.6 429.8 335.5 430.5 335.6 431.2 335.7 431.9 335.4 432.6 334.6 433.3 334.9 434.0 334.6 434.7 334.8 435.4 334.7 436.1 334.9 436.8 335.1 437.5 334.7 438.2 335.2 438.9 334.9 439.6 335.3 440.3 334.8 441.0 335.4 441.7 335.5 442.4 335.9 443.1 335.4 443.8 335.7 444.5 335.6 445.2 335.7 445.9 335.4 446.6 336.7 447.3 336.0 448.0 336.5 448.7 336.5 449.4 336.8 450.1 335.9 450.8 335.9 451.5 335.6 452.2 335.5 452.9 334.8 453.6 335.4 454.3 335.0 455.0 335.0 455.7 334.9 456.4 335.2 457.1 334.7 457.8 334.3 458.5 334.1 459.2 334.5 459.9 334.2 460.6 334.3 461.3 334.5 462.0 334.7 462.7 334.0 463.4 334.5 464.1 334.7 464.8 335.4 465.5 335.5 466.2 335.5 466.9 335.7 467.6 336.3 468.3 336.5 469.0 335.9 469.7 335.7 470.4 335.6 471.1 336.2 471.8 335.9 472.5 335.3 473.2 335.5 473.9 335.2 474.6 335.0 475.3 334.6 476.0 335.1 476.7 335.3 477.4 335.8 478.1 336.2 478.8 337.2 479.5 337.5 480.2 337.2 480.9 338.3 481.6 338.9 482.3 339.1 483.0 338.7 483.7 338.6 484.4 338.4 485.1 338.0 485.8 338.0 486.5 337.9 487.2 338.2 487.9 337.9 488.6 337.8 489.3 337.5 490.0 337.6 490.7 337.9 491.4 337.2 492.1 337.2 492.8 336.9 493.5 338.0 494.2 337.7 494.9 338.0 495.6 337.5 496.3 337.2 497.0 337.7 497.7 338.4 498.4 338.1 499.1 338.4 499.8 338.5 500.5 338.2 501.2 338.5 501.9 338.8 502.6 338.3 503.3 338.5 504.0 338.2 504.7 338.2 505.4 339.1 506.1 338.7 506.8 338.6 507.5 338.5 508.2 337.8 508.9 337.4 509.6 337.0 510.3 336.9 511.0 336.6 511.7 336.2 512.4 336.3 513.1 336.5 513.8 337.2 514.5 336.4 515.2 336.6 515.9 337.6 516.6 336.8 517.3 337.6 518.0 338.5 518.7 339.2 519.4 339.5 520.1 339.5 520.8 340.4 521.5 340.8 522.2 341.2 522.9 341.6 523.6 341.6 524.3 342.1 525.0 342.4 525.7 342.4 526.4 342.6 527.1 343.0 527.8 342.5 528.5 343.7 529.2 343.3 529.9 343.1 530.6 343.3 531.3 343.0 532.0 343.1 532.7 343.6 533.4 343.7 534.1 343.3 534.8 344.0 535.5 343.7 536.2 343.5 536.9 342.7 537.6 342.6 538.3 341.9 539.0 341.4 539.7 341.6 540.4 340.5 541.1 339.9 541.8 339.1 542.5 338.2 543.2 337.6 543.9 337.2 544.6 336.1 545.3 334.9 546.0 333.8 546.7 332.8 547.4 332.1 548.1 329.8 548.8 329.1 549.5 327.6 550.2 326.3 550.9 325.6 551.6 324.1 552.3 322.2 553.0 319.7 553.7 317.8 554.4 316.3 555.1 314.3 555.8 312.0 556.5 310.4 557.2 308.3 557.9 306.3 558.6 304.4 559.3 302.0 560.0 299.8 560.7 297.9 561.4 295.9 562.1 293.7 562.8 291.8 563.5 290.0 564.2 287.9 564.9 285.6 565.6 283.7 566.3 282.2 567.0 279.9 567.7 278.9 568.4 276.1 569.1 274.2 569.8 272.8 570.5 271.7 571.2 270.3 571.9 268.5 572.6 267.3 573.3 265.8 574.0 263.8 574.7 263.0 575.4 261.6 576.1 261.0 576.8 259.8 577.5 258.4 578.2 257.9 578.9 256.1 579.6 255.4 580.3 255.2 581.0 254.4 581.7 254.2 582.4 253.9 583.1 253.2 583.8 253.0 584.5 252.6 585.2 252.0 585.9 251.8 586.6 251.5 587.3 251.4 588.0 251.0 588.7 251.8 589.4 251.4 590.1 251.9 590.8 252.1 591.5 251.8 592.2 252.0 592.9 252.0 593.6 251.6 594.3 252.3 595.0 251.7 595.7 251.8 596.4 251.5 597.1 251.1 597.8 251.5 598.5 251.9 599.2 252.8 599.9 253.9 600.6 253.6 601.3 254.1 602.0 255.0 602.7 254.2 603.4 253.3 604.1 253.0 604.8 253.7 605.5 254.1 606.2 252.7 606.9 253.1 607.6 253.7 608.3 254.3 609.0 255.0 609.7 255.2 610.4 255.2 611.1 255.3 611.8 254.2 612.5 254.1 613.2 254.5 613.9 254.3 614.6 253.8 615.3 254.2 616.0 253.8 616.7 253.7 617.4 253.7 618.1 254.4 618.8 254.0 619.5 254.7 620.2 254.8 620.9 255.2 621.6 254.7 622.3 254.6 623.0 255.7 623.7 255.8 624.4 255.5 625.1 255.7 625.8 255.6 626.5 255.9 627.2 256.0 627.9 256.3 628.6 256.2 629.3 257.0 630.0 256.4 630.7 256.5 631.4 256.1 632.1 255.6 632.8 254.7 633.5 254.5 634.2 255.6 634.9 255.1 635.6 255.7 636.3 256.2 637.0 257.1 637.7 257.6 638.4 257.0 639.1 256.7 639.8 257.0 640.5 256.6 641.2 257.1 641.9 256.1 642.6 256.2 643.3 256.8 644.0 255.9 644.7 256.5 645.4 257.1 646.1 257.1 646.8 257.1 647.5 257.2 648.2 257.2 648.9 258.0 649.6 257.6 650.3 257.6 651.0 257.5 651.7 257.7 652.4 257.6 653.1 257.7 653.8 257.0 654.5 257.1 655.2 257.6 655.9 257.5 656.6 258.0 657.3 257.8 658.0 257.6 658.7 258.4 659.4 257.6 660.1 258.5 660.8 258.7 661.5 258.5 662.2 258.6 662.9 259.2"/>
<rect x="45.5" y="209.5" width="629.0" height="136.0" fill="none" stroke="#9c9c9c" stroke-width="1"/>
<line x1="45.5" y1="345.5" x2="45.5" y2="339.0" stroke="#9c9c9c" stroke-width="1"/>
<line x1="45.5" y1="209.5" x2="45.5" y2="216.0" stroke="#9c9c9c" stroke-width="1"/>
<text x="45.5" y="358.9" text-anchor="middle" class="t">0</text>
<line x1="153.5" y1="345.5" x2="153.5" y2="339.0" stroke="#9c9c9c" stroke-width="1"/>
<line x1="153.5" y1="209.5" x2="153.5" y2="216.0" stroke="#9c9c9c" stroke-width="1"/>
<text x="153.1" y="358.9" text-anchor="middle" class="t">2</text>
<line x1="260.5" y1="345.5" x2="260.5" y2="339.0" stroke="#9c9c9c" stroke-width="1"/>
<line x1="260.5" y1="209.5" x2="260.5" y2="216.0" stroke="#9c9c9c" stroke-width="1"/>
<text x="260.7" y="358.9" text-anchor="middle" class="t">4</text>
<line x1="368.5" y1="345.5" x2="368.5" y2="339.0" stroke="#9c9c9c" stroke-width="1"/>
<line x1="368.5" y1="209.5" x2="368.5" y2="216.0" stroke="#9c9c9c" stroke-width="1"/>
<text x="368.3" y="358.9" text-anchor="middle" class="t">6</text>
<line x1="475.5" y1="345.5" x2="475.5" y2="339.0" stroke="#9c9c9c" stroke-width="1"/>
<line x1="475.5" y1="209.5" x2="475.5" y2="216.0" stroke="#9c9c9c" stroke-width="1"/>
<text x="475.9" y="358.9" text-anchor="middle" class="t">8</text>
<line x1="583.5" y1="345.5" x2="583.5" y2="339.0" stroke="#9c9c9c" stroke-width="1"/>
<line x1="583.5" y1="209.5" x2="583.5" y2="216.0" stroke="#9c9c9c" stroke-width="1"/>
<text x="583.5" y="358.9" text-anchor="middle" class="t">10</text>
<line x1="45.5" y1="345.5" x2="52.0" y2="345.5" stroke="#9c9c9c" stroke-width="1"/>
<line x1="674.5" y1="345.5" x2="668.0" y2="345.5" stroke="#9c9c9c" stroke-width="1"/>
<text x="41.6" y="349.3" text-anchor="end" class="t">0.4</text>
<line x1="45.5" y1="306.5" x2="52.0" y2="306.5" stroke="#9c9c9c" stroke-width="1"/>
<line x1="674.5" y1="306.5" x2="668.0" y2="306.5" stroke="#9c9c9c" stroke-width="1"/>
<text x="41.6" y="310.5" text-anchor="end" class="t">0.6</text>
<line x1="45.5" y1="267.5" x2="52.0" y2="267.5" stroke="#9c9c9c" stroke-width="1"/>
<line x1="674.5" y1="267.5" x2="668.0" y2="267.5" stroke="#9c9c9c" stroke-width="1"/>
<text x="41.6" y="271.7" text-anchor="end" class="t">0.8</text>
<line x1="45.5" y1="228.5" x2="52.0" y2="228.5" stroke="#9c9c9c" stroke-width="1"/>
<line x1="674.5" y1="228.5" x2="668.0" y2="228.5" stroke="#9c9c9c" stroke-width="1"/>
<text x="41.6" y="233.0" text-anchor="end" class="t">1</text>
<text x="49.4" y="199.2" class="ti">(b)</text>
<text transform="translate(20.7,277.4) rotate(-90)" text-anchor="middle" class="l">Phase coherence</text>
<line x1="153.5" y1="398.8" x2="153.5" y2="535.2" stroke="#f2f2f2" stroke-width="1"/>
<line x1="260.5" y1="398.8" x2="260.5" y2="535.2" stroke="#f2f2f2" stroke-width="1"/>
<line x1="368.5" y1="398.8" x2="368.5" y2="535.2" stroke="#f2f2f2" stroke-width="1"/>
<line x1="475.5" y1="398.8" x2="475.5" y2="535.2" stroke="#f2f2f2" stroke-width="1"/>
<line x1="583.5" y1="398.8" x2="583.5" y2="535.2" stroke="#f2f2f2" stroke-width="1"/>
<line x1="45.5" y1="510.5" x2="674.5" y2="510.5" stroke="#f2f2f2" stroke-width="1"/>
<line x1="45.5" y1="485.5" x2="674.5" y2="485.5" stroke="#f2f2f2" stroke-width="1"/>
<line x1="45.5" y1="460.5" x2="674.5" y2="460.5" stroke="#f2f2f2" stroke-width="1"/>
<line x1="45.5" y1="436.5" x2="674.5" y2="436.5" stroke="#f2f2f2" stroke-width="1"/>
<line x1="45.5" y1="411.5" x2="674.5" y2="411.5" stroke="#f2f2f2" stroke-width="1"/>
<polyline fill="none" stroke="#7d9fc6" stroke-width="0.9" points="56.3,483.4 77.8,503.5 99.3,504.9 120.8,506.4 142.3,507.9 163.9,506.7 185.4,508.5 206.9,510.4 228.4,510.9 249.9,511.5 271.5,512.3 293.0,512.3 314.5,511.6 336.0,511.1 357.5,511.1 379.1,512.0 400.6,512.9 422.1,512.5 443.6,512.9 465.1,512.5 486.7,513.1 508.2,513.4 529.7,513.7 551.2,513.9 572.7,462.9 594.3,436.0 615.8,424.2 637.3,418.8 658.8,416.0 664.2,416.2"/>
<path d="M56.3 480.3L58.8 483.4L56.3 486.5L53.8 483.4Z" fill="#d6ebf8" stroke="#2a6cb0" stroke-width="1.15"/>
<path d="M77.8 500.4L80.3 503.5L77.8 506.6L75.3 503.5Z" fill="#d6ebf8" stroke="#2a6cb0" stroke-width="1.15"/>
<path d="M99.3 501.8L101.8 504.9L99.3 508.0L96.8 504.9Z" fill="#d6ebf8" stroke="#2a6cb0" stroke-width="1.15"/>
<path d="M120.8 503.3L123.3 506.4L120.8 509.5L118.3 506.4Z" fill="#d6ebf8" stroke="#2a6cb0" stroke-width="1.15"/>
<path d="M142.3 504.8L144.8 507.9L142.3 511.0L139.8 507.9Z" fill="#d6ebf8" stroke="#2a6cb0" stroke-width="1.15"/>
<path d="M163.9 503.6L166.4 506.7L163.9 509.8L161.4 506.7Z" fill="#d6ebf8" stroke="#2a6cb0" stroke-width="1.15"/>
<path d="M185.4 505.4L187.9 508.5L185.4 511.6L182.9 508.5Z" fill="#d6ebf8" stroke="#2a6cb0" stroke-width="1.15"/>
<path d="M206.9 507.3L209.4 510.4L206.9 513.5L204.4 510.4Z" fill="#d6ebf8" stroke="#2a6cb0" stroke-width="1.15"/>
<path d="M228.4 507.8L230.9 510.9L228.4 514.0L225.9 510.9Z" fill="#d6ebf8" stroke="#2a6cb0" stroke-width="1.15"/>
<path d="M249.9 508.4L252.4 511.5L249.9 514.6L247.4 511.5Z" fill="#d6ebf8" stroke="#2a6cb0" stroke-width="1.15"/>
<path d="M271.5 509.2L274.0 512.3L271.5 515.4L269.0 512.3Z" fill="#d6ebf8" stroke="#2a6cb0" stroke-width="1.15"/>
<path d="M293.0 509.2L295.5 512.3L293.0 515.4L290.5 512.3Z" fill="#d6ebf8" stroke="#2a6cb0" stroke-width="1.15"/>
<path d="M314.5 508.5L317.0 511.6L314.5 514.7L312.0 511.6Z" fill="#d6ebf8" stroke="#2a6cb0" stroke-width="1.15"/>
<path d="M336.0 508.0L338.5 511.1L336.0 514.2L333.5 511.1Z" fill="#d6ebf8" stroke="#2a6cb0" stroke-width="1.15"/>
<path d="M357.5 508.0L360.0 511.1L357.5 514.2L355.0 511.1Z" fill="#d6ebf8" stroke="#2a6cb0" stroke-width="1.15"/>
<path d="M379.1 508.9L381.6 512.0L379.1 515.1L376.6 512.0Z" fill="#d6ebf8" stroke="#2a6cb0" stroke-width="1.15"/>
<path d="M400.6 509.8L403.1 512.9L400.6 516.0L398.1 512.9Z" fill="#d6ebf8" stroke="#2a6cb0" stroke-width="1.15"/>
<path d="M422.1 509.4L424.6 512.5L422.1 515.6L419.6 512.5Z" fill="#d6ebf8" stroke="#2a6cb0" stroke-width="1.15"/>
<path d="M443.6 509.8L446.1 512.9L443.6 516.0L441.1 512.9Z" fill="#d6ebf8" stroke="#2a6cb0" stroke-width="1.15"/>
<path d="M465.1 509.4L467.6 512.5L465.1 515.6L462.6 512.5Z" fill="#d6ebf8" stroke="#2a6cb0" stroke-width="1.15"/>
<path d="M486.7 510.0L489.2 513.1L486.7 516.2L484.2 513.1Z" fill="#d6ebf8" stroke="#2a6cb0" stroke-width="1.15"/>
<path d="M508.2 510.3L510.7 513.4L508.2 516.5L505.7 513.4Z" fill="#d6ebf8" stroke="#2a6cb0" stroke-width="1.15"/>
<path d="M529.7 510.6L532.2 513.7L529.7 516.8L527.2 513.7Z" fill="#d6ebf8" stroke="#2a6cb0" stroke-width="1.15"/>
<path d="M551.2 510.8L553.7 513.9L551.2 517.0L548.7 513.9Z" fill="#d6ebf8" stroke="#2a6cb0" stroke-width="1.15"/>
<path d="M572.7 459.8L575.2 462.9L572.7 466.0L570.2 462.9Z" fill="#d6ebf8" stroke="#2a6cb0" stroke-width="1.15"/>
<path d="M594.3 432.9L596.8 436.0L594.3 439.1L591.8 436.0Z" fill="#d6ebf8" stroke="#2a6cb0" stroke-width="1.15"/>
<path d="M615.8 421.1L618.3 424.2L615.8 427.3L613.3 424.2Z" fill="#d6ebf8" stroke="#2a6cb0" stroke-width="1.15"/>
<path d="M637.3 415.7L639.8 418.8L637.3 421.9L634.8 418.8Z" fill="#d6ebf8" stroke="#2a6cb0" stroke-width="1.15"/>
<path d="M658.8 412.9L661.3 416.0L658.8 419.1L656.3 416.0Z" fill="#d6ebf8" stroke="#2a6cb0" stroke-width="1.15"/>
<path d="M664.2 413.1L666.7 416.2L664.2 419.3L661.7 416.2Z" fill="#d6ebf8" stroke="#2a6cb0" stroke-width="1.15"/>
<polyline fill="none" stroke="#70e070" stroke-width="0.9" points="56.3,500.9 77.8,521.3 99.3,512.8 120.8,514.5 142.3,514.5 163.9,509.4 185.4,514.5 206.9,523.5 228.4,510.9 249.9,516.0 271.5,516.5 293.0,519.9 314.5,511.5 336.0,509.3 357.5,514.6 379.1,519.9 400.6,521.9 422.1,512.0 443.6,517.8 465.1,514.1 486.7,519.9 508.2,514.6 529.7,523.0 551.2,508.5 572.7,411.9 594.3,412.4 615.8,412.4 637.3,412.4 658.8,412.4 664.2,418.6"/>
<path d="M56.3 497.8L58.8 500.9L56.3 504.0L53.8 500.9Z" fill="#d2f7d2" stroke="#2fd42f" stroke-width="1.15"/>
<path d="M77.8 518.2L80.3 521.3L77.8 524.4L75.3 521.3Z" fill="#d2f7d2" stroke="#2fd42f" stroke-width="1.15"/>
<path d="M99.3 509.7L101.8 512.8L99.3 515.9L96.8 512.8Z" fill="#d2f7d2" stroke="#2fd42f" stroke-width="1.15"/>
<path d="M120.8 511.4L123.3 514.5L120.8 517.6L118.3 514.5Z" fill="#d2f7d2" stroke="#2fd42f" stroke-width="1.15"/>
<path d="M142.3 511.4L144.8 514.5L142.3 517.6L139.8 514.5Z" fill="#d2f7d2" stroke="#2fd42f" stroke-width="1.15"/>
<path d="M163.9 506.3L166.4 509.4L163.9 512.5L161.4 509.4Z" fill="#d2f7d2" stroke="#2fd42f" stroke-width="1.15"/>
<path d="M185.4 511.4L187.9 514.5L185.4 517.6L182.9 514.5Z" fill="#d2f7d2" stroke="#2fd42f" stroke-width="1.15"/>
<path d="M206.9 520.4L209.4 523.5L206.9 526.6L204.4 523.5Z" fill="#d2f7d2" stroke="#2fd42f" stroke-width="1.15"/>
<path d="M228.4 507.8L230.9 510.9L228.4 514.0L225.9 510.9Z" fill="#d2f7d2" stroke="#2fd42f" stroke-width="1.15"/>
<path d="M249.9 512.9L252.4 516.0L249.9 519.1L247.4 516.0Z" fill="#d2f7d2" stroke="#2fd42f" stroke-width="1.15"/>
<path d="M271.5 513.4L274.0 516.5L271.5 519.6L269.0 516.5Z" fill="#d2f7d2" stroke="#2fd42f" stroke-width="1.15"/>
<path d="M293.0 516.8L295.5 519.9L293.0 523.0L290.5 519.9Z" fill="#d2f7d2" stroke="#2fd42f" stroke-width="1.15"/>
<path d="M314.5 508.4L317.0 511.5L314.5 514.6L312.0 511.5Z" fill="#d2f7d2" stroke="#2fd42f" stroke-width="1.15"/>
<path d="M336.0 506.2L338.5 509.3L336.0 512.4L333.5 509.3Z" fill="#d2f7d2" stroke="#2fd42f" stroke-width="1.15"/>
<path d="M357.5 511.5L360.0 514.6L357.5 517.7L355.0 514.6Z" fill="#d2f7d2" stroke="#2fd42f" stroke-width="1.15"/>
<path d="M379.1 516.8L381.6 519.9L379.1 523.0L376.6 519.9Z" fill="#d2f7d2" stroke="#2fd42f" stroke-width="1.15"/>
<path d="M400.6 518.8L403.1 521.9L400.6 525.0L398.1 521.9Z" fill="#d2f7d2" stroke="#2fd42f" stroke-width="1.15"/>
<path d="M422.1 508.9L424.6 512.0L422.1 515.1L419.6 512.0Z" fill="#d2f7d2" stroke="#2fd42f" stroke-width="1.15"/>
<path d="M443.6 514.7L446.1 517.8L443.6 520.9L441.1 517.8Z" fill="#d2f7d2" stroke="#2fd42f" stroke-width="1.15"/>
<path d="M465.1 511.0L467.6 514.1L465.1 517.2L462.6 514.1Z" fill="#d2f7d2" stroke="#2fd42f" stroke-width="1.15"/>
<path d="M486.7 516.8L489.2 519.9L486.7 523.0L484.2 519.9Z" fill="#d2f7d2" stroke="#2fd42f" stroke-width="1.15"/>
<path d="M508.2 511.5L510.7 514.6L508.2 517.7L505.7 514.6Z" fill="#d2f7d2" stroke="#2fd42f" stroke-width="1.15"/>
<path d="M529.7 519.9L532.2 523.0L529.7 526.1L527.2 523.0Z" fill="#d2f7d2" stroke="#2fd42f" stroke-width="1.15"/>
<path d="M551.2 505.4L553.7 508.5L551.2 511.6L548.7 508.5Z" fill="#d2f7d2" stroke="#2fd42f" stroke-width="1.15"/>
<path d="M572.7 408.8L575.2 411.9L572.7 415.0L570.2 411.9Z" fill="#d2f7d2" stroke="#2fd42f" stroke-width="1.15"/>
<path d="M594.3 409.3L596.8 412.4L594.3 415.5L591.8 412.4Z" fill="#d2f7d2" stroke="#2fd42f" stroke-width="1.15"/>
<path d="M615.8 409.3L618.3 412.4L615.8 415.5L613.3 412.4Z" fill="#d2f7d2" stroke="#2fd42f" stroke-width="1.15"/>
<path d="M637.3 409.3L639.8 412.4L637.3 415.5L634.8 412.4Z" fill="#d2f7d2" stroke="#2fd42f" stroke-width="1.15"/>
<path d="M658.8 409.3L661.3 412.4L658.8 415.5L656.3 412.4Z" fill="#d2f7d2" stroke="#2fd42f" stroke-width="1.15"/>
<path d="M664.2 415.5L666.7 418.6L664.2 421.7L661.7 418.6Z" fill="#d2f7d2" stroke="#2fd42f" stroke-width="1.15"/>
<rect x="327.6" y="408.5" width="145.5" height="25.7" fill="#fff" stroke="#a8a8a8" stroke-width="0.9"/>
<line x1="331.9" y1="415.3" x2="354.4" y2="415.3" stroke="#9dbbdc" stroke-width="0.9"/>
<path d="M343.9 412.6L346.2 415.5L343.9 418.4L341.6 415.5Z" fill="#d6ebf8" stroke="#2a6cb0" stroke-width="1.2"/>
<line x1="331.9" y1="427.6" x2="354.4" y2="427.6" stroke="#8be88b" stroke-width="0.9"/>
<path d="M343.9 424.7L346.2 427.6L343.9 430.5L341.6 427.6Z" fill="#d2f7d2" stroke="#2fd42f" stroke-width="1.2"/>
<text x="357.6" y="419.4" class="lg">cross-correlation based</text>
<text x="357.6" y="431.0" class="lg">phase-difference based</text>
<rect x="45.5" y="398.5" width="629.0" height="137.0" fill="none" stroke="#9c9c9c" stroke-width="1"/>
<line x1="45.5" y1="535.5" x2="45.5" y2="529.0" stroke="#9c9c9c" stroke-width="1"/>
<line x1="45.5" y1="398.5" x2="45.5" y2="405.0" stroke="#9c9c9c" stroke-width="1"/>
<text x="45.5" y="548.8" text-anchor="middle" class="t">0</text>
<line x1="153.5" y1="535.5" x2="153.5" y2="529.0" stroke="#9c9c9c" stroke-width="1"/>
<line x1="153.5" y1="398.5" x2="153.5" y2="405.0" stroke="#9c9c9c" stroke-width="1"/>
<text x="153.1" y="548.8" text-anchor="middle" class="t">2</text>
<line x1="260.5" y1="535.5" x2="260.5" y2="529.0" stroke="#9c9c9c" stroke-width="1"/>
<line x1="260.5" y1="398.5" x2="260.5" y2="405.0" stroke="#9c9c9c" stroke-width="1"/>
<text x="260.7" y="548.8" text-anchor="middle" class="t">4</text>
<line x1="368.5" y1="535.5" x2="368.5" y2="529.0" stroke="#9c9c9c" stroke-width="1"/>
<line x1="368.5" y1="398.5" x2="368.5" y2="405.0" stroke="#9c9c9c" stroke-width="1"/>
<text x="368.3" y="548.8" text-anchor="middle" class="t">6</text>
<line x1="475.5" y1="535.5" x2="475.5" y2="529.0" stroke="#9c9c9c" stroke-width="1"/>
<line x1="475.5" y1="398.5" x2="475.5" y2="405.0" stroke="#9c9c9c" stroke-width="1"/>
<text x="475.9" y="548.8" text-anchor="middle" class="t">8</text>
<line x1="583.5" y1="535.5" x2="583.5" y2="529.0" stroke="#9c9c9c" stroke-width="1"/>
<line x1="583.5" y1="398.5" x2="583.5" y2="405.0" stroke="#9c9c9c" stroke-width="1"/>
<text x="583.5" y="548.8" text-anchor="middle" class="t">10</text>
<line x1="45.5" y1="535.5" x2="52.0" y2="535.5" stroke="#9c9c9c" stroke-width="1"/>
<line x1="674.5" y1="535.5" x2="668.0" y2="535.5" stroke="#9c9c9c" stroke-width="1"/>
<text x="41.6" y="539.2" text-anchor="end" class="t">0</text>
<line x1="45.5" y1="510.5" x2="52.0" y2="510.5" stroke="#9c9c9c" stroke-width="1"/>
<line x1="674.5" y1="510.5" x2="668.0" y2="510.5" stroke="#9c9c9c" stroke-width="1"/>
<text x="41.6" y="514.4" text-anchor="end" class="t">0.2</text>
<line x1="45.5" y1="485.5" x2="52.0" y2="485.5" stroke="#9c9c9c" stroke-width="1"/>
<line x1="674.5" y1="485.5" x2="668.0" y2="485.5" stroke="#9c9c9c" stroke-width="1"/>
<text x="41.6" y="489.6" text-anchor="end" class="t">0.4</text>
<line x1="45.5" y1="460.5" x2="52.0" y2="460.5" stroke="#9c9c9c" stroke-width="1"/>
<line x1="674.5" y1="460.5" x2="668.0" y2="460.5" stroke="#9c9c9c" stroke-width="1"/>
<text x="41.6" y="464.8" text-anchor="end" class="t">0.6</text>
<line x1="45.5" y1="436.5" x2="52.0" y2="436.5" stroke="#9c9c9c" stroke-width="1"/>
<line x1="674.5" y1="436.5" x2="668.0" y2="436.5" stroke="#9c9c9c" stroke-width="1"/>
<text x="41.6" y="440.0" text-anchor="end" class="t">0.8</text>
<line x1="45.5" y1="411.5" x2="52.0" y2="411.5" stroke="#9c9c9c" stroke-width="1"/>
<line x1="674.5" y1="411.5" x2="668.0" y2="411.5" stroke="#9c9c9c" stroke-width="1"/>
<text x="41.6" y="415.2" text-anchor="end" class="t">1</text>
<text x="46.6" y="390.6" class="ti">(c)</text>
<text transform="translate(14.9,467.7) rotate(-90)" text-anchor="middle" class="l">f<tspan font-size="9.5px" dy="6.3">s</tspan></text>
<text x="359.9" y="563.3" text-anchor="middle" class="l">time (s)</text>
</svg>
</body></html>
